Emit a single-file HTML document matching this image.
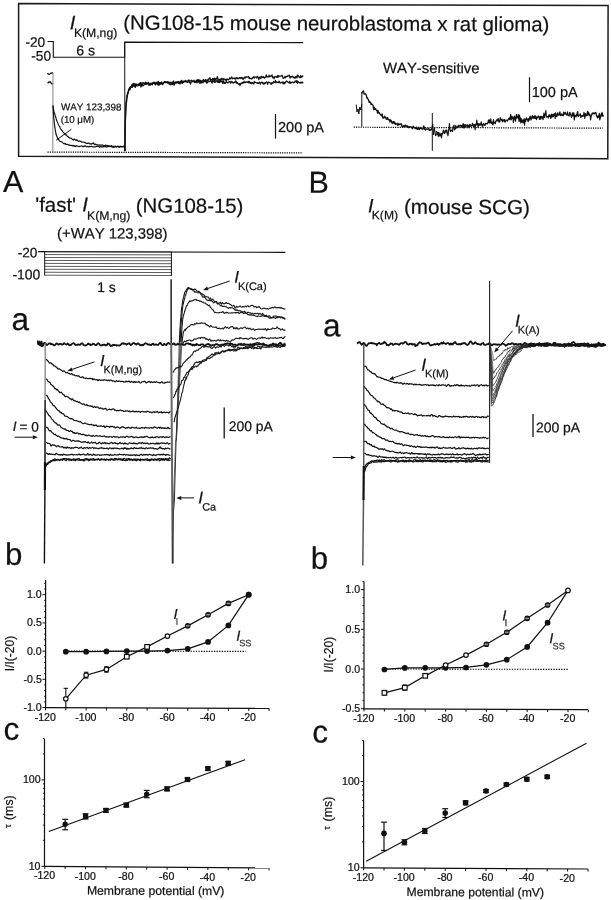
<!DOCTYPE html>
<html><head><meta charset="utf-8"><style>
html,body{margin:0;padding:0;background:#fff;overflow:hidden}
svg{display:block;filter:grayscale(1)}
text{font-family:"Liberation Sans",sans-serif;font-kerning:none;stroke:#111;stroke-width:0.22px;paint-order:stroke}
</style></head><body>
<svg width="611" height="900" viewBox="0 0 611 900" stroke-linecap="butt">
<rect width="611" height="900" fill="#fff"/>
<path d="M18.6,3.6 L608.1,5.6 L607.8,158.7 L18.6,156.3 Z" fill="none" stroke="#1a1a1a" stroke-width="1.5"/>
<text x="69.85" y="29.6" font-size="20" font-style="italic" transform="rotate(0.22 69.85 29.6)" fill="#111">I</text>
<text x="73.9" y="36.9" font-size="12.2" transform="rotate(0.22 73.9 36.9)" fill="#111">K(M,ng)</text>
<text x="123.25" y="29.6" font-size="20.4" transform="rotate(0.22 123.25 29.6)" fill="#111">(NG108-15 mouse neuroblastoma x rat glioma)</text>
<text x="25.38" y="46.7" font-size="13.7" transform="rotate(0.22 25.38 46.7)" fill="#111">-20</text>
<text x="31.28" y="60.5" font-size="13.7" transform="rotate(0.22 31.28 60.5)" fill="#111">-50</text>
<path d="M47.6,41.5 H53.3 V57.2 H124.7 V42.1 L303.2,42.6" fill="none" stroke="#111" stroke-width="1.1"/>
<text x="76.25" y="55.3" font-size="14.1" transform="rotate(0.22 76.25 55.3)" fill="#111">6 s</text>
<line x1="53" y1="72.7" x2="52.8" y2="151.5" stroke="#888" stroke-width="1"/>
<path d="M47.4,73.2 C48.3,74.6 49.3,74.6 50.3,73.6 C51.2,72.9 52.2,72.8 53,73" fill="none" stroke="#111" stroke-width="1.3"/>
<path d="M47.6,83.2 L48.9,82 L50.2,81.9 L51.3,83.2 L52.5,84.4" fill="none" stroke="#111" stroke-width="1.3"/>
<path d="M53,105.2 L53.45,112.99 L53.9,118.89 L54.35,123.25 L54.8,126.86 L55.25,129.71 L55.7,132.13 L56.15,134.54 L56.6,135.9 L57.05,136.63 L57.5,137.88 L57.95,138.97 L58.4,139.59 L58.85,139.89 L59.3,140.39 L59.75,141.26 L60.19,141.34 L60.64,141.42 L61.09,141.61 L61.54,141.71 L61.99,141.99 L62.44,142.5 L62.89,142.87 L63.34,143.21 L63.79,143.75 L64.24,143.82 L64.69,143.32 L65.14,143.39 L65.59,144.15 L66.04,144.44 L66.49,144.2 L66.94,144.18 L67.39,144.42 L67.84,144.45 L68.29,145.05 L68.74,145.14 L69.19,144.95 L69.64,145.45 L70.09,145.39 L70.54,145.22 L70.99,145.46 L71.44,145.56 L71.89,145.29 L72.34,145.35 L72.79,146.04 L73.24,145.69 L73.69,145.62 L74.14,146.07 L74.58,145.74 L75.03,146.25 L75.48,146.64 L75.93,145.88 L76.38,145.74 L76.83,146.21 L77.28,146.18 L77.73,146.24 L78.18,146.29 L78.63,146.32 L79.08,146.71 L79.53,146.41 L79.98,146.12 L80.43,146.2 L80.88,146.2 L81.33,146.04 L81.78,145.88 L82.23,146.15 L82.68,146.53 L83.13,146.88 L83.58,146.34 L84.03,145.88 L84.48,146.38 L84.93,146.1 L85.38,145.84 L85.83,146.32 L86.28,146.76 L86.73,146.97 L87.18,146.59 L87.63,146.34 L88.08,146.37 L88.53,146.85 L88.97,146.81 L89.42,146.37 L89.87,146.57 L90.32,146.63 L90.77,146.5 L91.22,146.26 L91.67,146.32 L92.12,146.49 L92.57,146.79 L93.02,147.07 L93.47,146.79 L93.92,146.8 L94.37,146.73 L94.82,146.83 L95.27,146.92 L95.72,146.81 L96.17,146.5 L96.62,146.45 L97.07,146.36 L97.52,145.77 L97.97,146.12 L98.42,146.41 L98.87,146.53 L99.32,147.31 L99.77,147.07 L100.22,146.37 L100.67,146.63 L101.12,146.91 L101.57,146.83 L102.02,146.66 L102.47,146.88 L102.92,147.07 L103.36,146.64 L103.81,146.5 L104.26,146.77 L104.71,146.53 L105.16,146.59 L105.61,146.65 L106.06,146.83 L106.51,147.09 L106.96,146.88 L107.41,146.69 L107.86,146.64 L108.31,146.3 L108.76,146.05 L109.21,146.64 L109.66,146.4 L110.11,146.52 L110.56,146.62 L111.01,146.6 L111.46,146.83 L111.91,146.84 L112.36,147.08 L112.81,146.51 L113.26,146.8 L113.71,147.54 L114.16,147.21 L114.61,146.79 L115.06,146.77 L115.51,146.6 L115.96,146.92 L116.41,147.03 L116.86,146.75 L117.31,146.69 L117.75,146.55 L118.2,146.43 L118.65,146.9 L119.1,147.19 L119.55,147.12 L120,147.16 L120.45,146.75 L120.9,146.67 L121.35,146.71 L121.8,146.79 L122.25,146.84 L122.7,146.77 L123.15,146.52 L123.6,146.4 L124.05,147.16 L124.5,147.19" fill="none" stroke="#111" stroke-width="1.15" stroke-linejoin="round"/>
<path d="M53,106.34 L53.45,108.56 L53.9,111.16 L54.35,112.58 L54.8,113.9 L55.25,115.72 L55.7,116.84 L56.15,118.58 L56.6,120.32 L57.05,121.39 L57.5,122.35 L57.95,123.52 L58.4,124.58 L58.85,125.38 L59.3,126.12 L59.75,126.69 L60.19,128.07 L60.64,128.99 L61.09,129.42 L61.54,130.19 L61.99,130.63 L62.44,131.09 L62.89,131.9 L63.34,132.48 L63.79,132.77 L64.24,133.32 L64.69,134.09 L65.14,134.68 L65.59,134.88 L66.04,134.95 L66.49,134.88 L66.94,135.6 L67.39,136.51 L67.84,136.56 L68.29,136.75 L68.74,137.27 L69.19,137.62 L69.64,137.92 L70.09,137.85 L70.54,138.25 L70.99,138.29 L71.44,138.35 L71.89,139 L72.34,139.21 L72.79,139.76 L73.24,140.11 L73.69,139.55 L74.14,138.94 L74.58,139.61 L75.03,139.95 L75.48,139.91 L75.93,140.53 L76.38,140.28 L76.83,139.7 L77.28,140.32 L77.73,141 L78.18,141.01 L78.63,141.14 L79.08,141.12 L79.53,140.87 L79.98,141.17 L80.43,141.42 L80.88,141.17 L81.33,141.66 L81.78,142.16 L82.23,142.25 L82.68,142.13 L83.13,141.97 L83.58,142.07 L84.03,142.11 L84.48,142.5 L84.93,142.63 L85.38,142.76 L85.83,143.13 L86.28,143.63 L86.73,143.29 L87.18,143.1 L87.63,143.5 L88.08,143.36 L88.53,143.11 L88.97,143.07 L89.42,143.69 L89.87,143.86 L90.32,143.77 L90.77,143.79 L91.22,144.13 L91.67,144.27 L92.12,143.51 L92.57,143.41 L93.02,143.53 L93.47,142.96 L93.92,143.38 L94.37,144.58 L94.82,144.78 L95.27,144.22 L95.72,144.03 L96.17,144.66 L96.62,144.99 L97.07,144.77 L97.52,144.78 L97.97,144.83 L98.42,145.09 L98.87,145.27 L99.32,145.17 L99.77,144.83 L100.22,144.95 L100.67,145.08 L101.12,145.27 L101.57,145.17 L102.02,144.91 L102.47,145.27 L102.92,145.02 L103.36,145.49 L103.81,146.22 L104.26,145.72 L104.71,145.59 L105.16,145.83 L105.61,145.04 L106.06,145.04 L106.51,145.71 L106.96,145.7 L107.41,145.49 L107.86,145.44 L108.31,145.69 L108.76,146.09 L109.21,146.25 L109.66,145.98 L110.11,146.31 L110.56,146.2 L111.01,145.76 L111.46,145.48 L111.91,145.99 L112.36,146.71 L112.81,146.58 L113.26,146.53 L113.71,146.36 L114.16,146.27 L114.61,146.21 L115.06,146.13 L115.51,146.23 L115.96,146.68 L116.41,146.83 L116.86,146.46 L117.31,146.21 L117.75,146.09 L118.2,146.65 L118.65,146.95 L119.1,146.6 L119.55,146.41 L120,146.14 L120.45,146.23 L120.9,146.74 L121.35,146.68 L121.8,146.42 L122.25,146.48 L122.7,146.59 L123.15,146.26 L123.6,146.2 L124.05,146.4 L124.5,146.69" fill="none" stroke="#111" stroke-width="1.15" stroke-linejoin="round"/>
<line x1="71.4" y1="129.3" x2="56.2" y2="140.2" stroke="#111" stroke-width="1"/>
<path d="M56.2,140.2 L56.2,140.2 L56.2,140.2 Z" fill="#111"/>
<text x="61" y="110.2" font-size="9.8" transform="rotate(0.22 61 110.2)" fill="#111">WAY 123,398</text>
<text x="60.68" y="122.7" font-size="9.7" transform="rotate(0.22 60.68 122.7)" fill="#111">(10 μM)</text>
<line x1="124.7" y1="42.1" x2="124.9" y2="151.5" stroke="#111" stroke-width="1"/>
<path d="M124.9,151 L124.91,150.5 L124.92,149.99 L124.92,149.49 L124.93,148.98 L124.94,148.46 L124.94,147.95 L124.95,147.43 L124.96,145.64 L124.97,146.25 L124.97,146.53 L124.98,144.76 L124.99,143.98 L125,144.16 L125,143.43 L125.01,142.19 L125.02,142.74 L125.02,143.46 L125.03,140.98 L125.04,139.99 L125.04,138.92 L125.05,139.68 L125.06,138.06 L125.07,137.79 L125.07,139.44 L125.08,137.11 L125.09,138.44 L125.09,138.61 L125.1,137.04 L125.11,136.83 L125.12,137.18 L125.12,134.91 L125.13,133.96 L125.14,132.87 L125.15,133.11 L125.15,133.93 L125.16,132.98 L125.17,130.73 L125.18,130.28 L125.19,130.06 L125.19,130.24 L125.2,129.23 L125.21,129.3 L125.22,128.57 L125.23,127.7 L125.24,127.52 L125.24,127.5 L125.25,127 L125.26,127.4 L125.27,128.02 L125.28,126.49 L125.29,125.61 L125.3,123.83 L125.31,124.8 L125.33,122.25 L125.35,121.93 L125.36,122.63 L125.38,121.92 L125.39,120.65 L125.41,118.64 L125.43,118.83 L125.44,118.12 L125.46,118.71 L125.48,119.43 L125.49,117.15 L125.51,115.89 L125.53,115.23 L125.55,115.98 L125.56,115.57 L125.58,114.22 L125.6,114.81 L125.62,113.25 L125.64,114.67 L125.65,114.11 L125.67,113.75 L125.69,112 L125.71,112.52 L125.73,111.61 L125.75,111.02 L125.77,110.63 L125.79,109.58 L125.8,109.52 L125.82,110.8 L125.84,109.51 L125.86,109.27 L125.88,109.63 L125.9,107.1 L125.94,107.15 L125.97,107.02 L126.01,106.17 L126.04,104.86 L126.08,105.52 L126.11,104.55 L126.15,102.91 L126.18,102.62 L126.22,103.47 L126.26,103.13 L126.3,101.15 L126.34,103.44 L126.39,102.45 L126.43,102.47 L126.48,100.87 L126.54,100.26 L126.6,99.29 L126.68,101.61 L126.76,98.7 L126.84,99.39 L126.93,97.06 L127.02,97.11 L127.12,94.88 L127.22,95.5 L127.32,95.94 L127.43,93.59 L127.54,94.99 L127.65,93.86 L127.76,92.24 L127.88,92.38 L128,91.85 L128.22,91.57 L128.46,90.62 L128.7,90.02 L128.96,90.17 L129.22,89.57 L129.48,88.94 L129.74,89.54 L130,90.05 L130.29,87.59 L130.53,88.7 L130.77,87.39 L131.07,86.54 L131.49,87.33 L132.1,86.1 L132.42,87.47 L132.71,85.38 L132.99,86.19 L133.29,85.44 L133.6,85.08 L133.95,85.94 L134.35,85.15 L134.81,85.13 L135.36,84.59 L135.99,83.84 L136.74,84.49 L137.6,84.41 L138.6,85.16 L138.94,83.5 L139.3,84.14 L139.67,83.03 L140.06,84.94 L140.46,83.22 L140.88,82.76 L141.31,84.02 L141.76,84.62 L142.22,82.73 L142.68,83.13 L143.16,83.22 L143.65,82.66 L144.15,84.16 L144.66,83.18 L145.18,83.25 L145.71,84.48 L146.24,83.3 L146.78,84.14 L147.32,83.22 L147.87,83.05 L148.42,82.31 L148.98,85.01 L149.55,83.3 L150.11,83.67 L150.68,83.24 L151.24,83.4 L151.81,83.39 L152.38,84.89 L152.95,82.7 L153.52,82.5 L154.08,82.99 L154.65,83.02 L155.21,84.62 L155.76,84.83 L156.31,83.18 L156.86,83.04 L157.4,83.96 L157.94,84.89 L158.46,81.28 L158.98,83.7 L159.5,82.63 L160,84.29 L160.51,82.6 L161.02,83.02 L161.53,81.87 L162.04,82.54 L162.55,84.7 L163.06,83.81 L163.56,82.8 L164.07,82.15 L164.58,81.47 L165.09,82.55 L165.59,82.61 L166.1,82.62 L166.6,82.32 L167.11,81.68 L167.61,82.2 L168.11,82.35 L168.61,83.33 L169.12,83.96 L169.62,82.45 L170.12,82.03 L170.62,82.71 L171.12,82.38 L171.62,82.56 L172.12,83.25 L172.61,82.33 L173.11,83.45 L173.61,82.87 L174.1,83 L174.6,82.51 L175.1,82.21 L175.59,81.88 L176.08,82.35 L176.58,82.01 L177.07,82.7 L177.56,82.57 L178.05,81.39 L178.54,82.93 L179.03,81.68 L179.52,82.55 L180.01,82.85 L180.5,81.42 L181.01,83.02 L181.53,83.04 L182.05,82.83 L182.57,82.3 L183.1,82.21 L183.62,81.19 L184.15,81.55 L184.67,81.06 L185.2,81.65 L185.73,80.4 L186.26,81.41 L186.79,81.25 L187.31,81.06 L187.84,80.83 L188.37,81.37 L188.89,79.71 L189.42,81.03 L189.94,80.77 L190.46,81.09 L190.98,81 L191.49,80.18 L192,80.46 L192.51,81.42 L193.02,81.32 L193.52,81.37 L194.02,80.17 L194.51,81.79 L195,82.43 L195.49,82.18 L195.96,81.57 L196.44,80.14 L196.91,82.1 L197.37,81.32 L197.82,79.28 L198.27,81.57 L198.72,79.72 L199.15,79.78 L199.58,80.54 L200,81.89 L200.6,80.45 L201.16,80.76 L201.68,81.7 L202.16,81.3 L202.61,80.52 L203.03,80.57 L203.44,79.43 L203.82,79.76 L204.2,80.67 L204.56,80.79 L204.92,80.6 L205.29,81.15 L205.66,79.47 L206.03,79.96 L206.43,80.66 L206.84,80.46 L207.27,80.65 L207.74,79.82 L208.23,79.01 L208.77,79.71 L209.34,78.36 L209.96,77.74 L210.64,79.79 L211.36,79.55 L212.15,79.84 L213,78.4 L213.35,79.92 L213.72,79.5 L214.09,79.22 L214.47,78 L214.86,79.02 L215.26,80.02 L215.67,79.41 L216.09,78.32 L216.52,78.56 L216.95,79.22 L217.39,76.54 L217.84,78.67 L218.29,79.38 L218.75,79.41 L219.22,80.24 L219.7,79.91 L220.18,79.16 L220.67,79.18 L221.16,79.54 L221.66,78.29 L222.16,78.6 L222.67,79.27 L223.18,80.44 L223.7,78.62 L224.22,79.07 L224.74,79.54 L225.27,80.19 L225.8,79.23 L226.34,80.85 L226.87,78.87 L227.41,79.44 L227.96,79.47 L228.5,79.86 L229.05,79.68 L229.59,77.74 L230.14,78.25 L230.69,78.81 L231.25,77.81 L231.8,76.89 L232.35,78.93 L232.9,78.41 L233.45,78.39 L234,77.81 L234.56,78.93 L235.11,78.01 L235.65,79.17 L236.2,77.71 L236.75,77.72 L237.29,78.62 L237.83,78 L238.37,78.77 L238.91,78.55 L239.44,77.51 L239.97,78.13 L240.5,77.69 L241.02,78.6 L241.54,77.4 L242.06,77.32 L242.57,78.93 L243.08,79.43 L243.58,78.89 L244.07,77.32 L244.56,77.21 L245.05,78.33 L245.53,77.11 L246,76.6 L246.53,77.1 L247.06,77.35 L247.59,76.87 L248.12,76.34 L248.65,76.78 L249.17,78.59 L249.69,77.63 L250.21,78.19 L250.73,78.67 L251.25,79.13 L251.76,78.18 L252.28,78.7 L252.79,77.42 L253.3,77.68 L253.81,76.65 L254.32,78.17 L254.82,77.22 L255.33,76.91 L255.83,77 L256.33,77.16 L256.84,78 L257.34,76.21 L257.84,76.92 L258.33,77.37 L258.83,79.55 L259.33,77.71 L259.82,76.84 L260.32,77.57 L260.81,78.66 L261.31,76.61 L261.8,76.29 L262.29,77.61 L262.78,77.21 L263.27,77.49 L263.76,76.63 L264.25,78.23 L264.74,77.87 L265.23,77.32 L265.72,77.14 L266.21,74.91 L266.69,76.99 L267.18,76.34 L267.67,76.75 L268.16,77.19 L268.65,76.52 L269.13,75.18 L269.62,76.86 L270.11,75.99 L270.6,76.15 L271.08,75.9 L271.57,76.24 L272.06,74.75 L272.55,77.69 L273.04,76.85 L273.53,77.92 L274.02,78.79 L274.51,77.49 L275,76.29 L275.51,76.95 L276.02,76.57 L276.52,77.11 L277.03,77.44 L277.54,75.66 L278.04,77.29 L278.55,75.58 L279.05,76.57 L279.56,76.13 L280.06,75.97 L280.56,76.16 L281.07,76.11 L281.57,76 L282.07,75.18 L282.57,76.43 L283.07,78.22 L283.57,78.41 L284.07,77.96 L284.57,77.58 L285.07,76.32 L285.57,77.8 L286.07,76.5 L286.57,76.39 L287.07,75.97 L287.57,76.49 L288.07,76 L288.56,75.81 L289.06,75.1 L289.56,76.05 L290.06,78.23 L290.56,76.45 L291.05,76.43 L291.55,76.89 L292.05,77.08 L292.54,76 L293.04,76.79 L293.54,77.67 L294.04,77.38 L294.53,77.45 L295.03,78.41 L295.53,76.56 L296.02,77.11 L296.52,76.4 L297.02,77.95 L297.52,74.97 L298.01,75.66 L298.51,75.88 L299.01,77.13 L299.51,77.12 L300.01,77.83 L300.5,75.65 L301,77.42 L301.5,76.28 L302,76.1 L302.5,76.85 L303,75.58" fill="none" stroke="#111" stroke-width="1.2" stroke-linejoin="round"/>
<path d="M124.9,151 L124.91,150.5 L124.92,149.99 L124.92,149.49 L124.93,148.98 L124.94,148.46 L124.94,147.95 L124.95,147.43 L124.96,146.23 L124.97,146 L124.97,144.87 L124.98,145.38 L124.99,145.7 L125,143.85 L125,142.48 L125.01,144.59 L125.02,142.21 L125.02,140.84 L125.03,141.69 L125.04,140.88 L125.04,139.49 L125.05,140.03 L125.06,138.92 L125.07,137.79 L125.07,138.16 L125.08,138.18 L125.09,136.64 L125.09,137.09 L125.1,136.05 L125.11,138.28 L125.12,134.7 L125.12,136.02 L125.13,134.23 L125.14,133.55 L125.15,133.78 L125.15,133.79 L125.16,133.58 L125.17,131.77 L125.18,130.82 L125.19,130.64 L125.19,131.16 L125.2,131.04 L125.21,130.93 L125.22,129.41 L125.23,129.37 L125.24,129.32 L125.24,127.76 L125.25,125.74 L125.26,125.75 L125.27,124.95 L125.28,126.98 L125.29,124.74 L125.3,126.44 L125.31,125.56 L125.33,125.54 L125.35,124.5 L125.36,122.89 L125.38,122.13 L125.39,121.75 L125.41,121.28 L125.43,119.9 L125.44,119.51 L125.46,120.39 L125.48,117.03 L125.49,117.91 L125.51,116.53 L125.53,117.15 L125.55,117.11 L125.56,115.64 L125.58,116.02 L125.6,113.82 L125.62,115.66 L125.64,113.92 L125.65,114.33 L125.67,113.22 L125.69,110.58 L125.71,111.66 L125.73,111.64 L125.75,112.29 L125.77,110.68 L125.79,110.04 L125.8,108.17 L125.82,109.99 L125.84,109.6 L125.86,107.88 L125.88,107.65 L125.9,105.69 L125.94,107.17 L125.97,107.83 L126.01,105.66 L126.04,105.79 L126.08,104.82 L126.11,102.91 L126.15,104.48 L126.18,102.16 L126.22,102.46 L126.26,102.61 L126.3,103.02 L126.34,102.07 L126.39,101.79 L126.43,100.57 L126.48,99.62 L126.54,100.28 L126.6,99.13 L126.68,98.34 L126.76,97.67 L126.84,97.82 L126.93,96.36 L127.02,96.38 L127.12,95.35 L127.22,96.49 L127.32,96.05 L127.43,96.72 L127.54,93.57 L127.65,93.66 L127.76,94.09 L127.88,92.73 L128,92.36 L128.22,93.1 L128.46,91.14 L128.7,89.51 L128.96,88.67 L129.22,89.57 L129.48,89.18 L129.74,87.45 L130,87.18 L130.29,88.1 L130.53,87.55 L130.77,86.33 L131.07,86.8 L131.49,86.26 L132.1,84.1 L132.42,84.93 L132.71,85.54 L132.99,84.67 L133.29,83.45 L133.6,85.11 L133.95,85.96 L134.35,86.51 L134.81,83.46 L135.36,87.37 L135.99,84.41 L136.74,85.81 L137.6,85.94 L138.6,85.53 L138.94,84.97 L139.3,84.11 L139.67,85.42 L140.06,84.3 L140.46,82.7 L140.88,87.08 L141.31,85.11 L141.76,86.09 L142.22,83.76 L142.68,85.7 L143.16,85.7 L143.65,85.57 L144.15,84.54 L144.66,83.38 L145.18,84.06 L145.71,82.06 L146.24,82.4 L146.78,83.97 L147.32,83.12 L147.87,83.92 L148.42,83.5 L148.98,85.2 L149.55,84.94 L150.11,84.2 L150.68,85.12 L151.24,83.28 L151.81,83.62 L152.38,84.32 L152.95,82.71 L153.52,83.36 L154.08,82.08 L154.65,83.04 L155.21,84.4 L155.76,82.32 L156.31,82.84 L156.86,82.27 L157.4,82.09 L157.94,82.18 L158.46,84.83 L158.98,85.38 L159.5,83.89 L160,82.93 L160.51,84.23 L161.02,83.15 L161.53,84 L162.04,83.59 L162.55,83.38 L163.06,83.67 L163.56,82.55 L164.07,82.75 L164.58,81.56 L165.09,82.51 L165.59,81.7 L166.1,82.47 L166.6,81.76 L167.11,82.53 L167.61,83.12 L168.11,81.74 L168.61,82.4 L169.12,82.35 L169.62,84 L170.12,84.88 L170.62,84.18 L171.12,83.34 L171.62,84.53 L172.12,82.15 L172.61,84.48 L173.11,83.04 L173.61,80.89 L174.1,85.27 L174.6,84.27 L175.1,82.38 L175.59,83.24 L176.08,82.71 L176.58,83.08 L177.07,81.67 L177.56,82.27 L178.05,83.02 L178.54,82.76 L179.03,83.28 L179.52,82.4 L180.01,84.16 L180.5,81.46 L181.01,81.99 L181.53,80.28 L182.05,80.91 L182.57,83.37 L183.1,81.24 L183.62,82.39 L184.15,81.89 L184.67,81.25 L185.2,81.7 L185.73,81.63 L186.26,81.41 L186.79,82.26 L187.31,82.44 L187.84,81.43 L188.37,81.26 L188.89,82.08 L189.42,81.67 L189.94,82.65 L190.46,84.12 L190.98,82.52 L191.49,81.92 L192,81.99 L192.51,81.21 L193.02,81.07 L193.52,81.41 L194.02,81.99 L194.51,81.8 L195,82.57 L195.49,81.41 L195.96,81.31 L196.44,80.41 L196.91,82.79 L197.37,81.46 L197.82,82.1 L198.27,81.53 L198.72,82.13 L199.15,80.81 L199.58,81.73 L200,83.64 L200.6,80.43 L201.16,82.52 L201.68,82.97 L202.16,82.04 L202.61,82.48 L203.03,82.73 L203.44,81.06 L203.82,81.9 L204.2,80.95 L204.56,81.34 L204.92,81.68 L205.29,81.73 L205.66,81.85 L206.03,82.06 L206.43,80.55 L206.84,83.25 L207.27,82.88 L207.74,82.28 L208.23,80.9 L208.77,81.11 L209.34,81.66 L209.96,81.56 L210.64,79.7 L211.36,81.63 L212.15,83.1 L213,79.18 L213.35,81.7 L213.72,81.4 L214.09,80.93 L214.47,82.27 L214.86,80.11 L215.26,81.18 L215.67,82.31 L216.09,80.76 L216.52,80.71 L216.95,81.16 L217.39,80.75 L217.84,82.51 L218.29,80.56 L218.75,82.34 L219.22,80.68 L219.7,82.55 L220.18,81.7 L220.67,79.44 L221.16,81.78 L221.66,81.15 L222.16,81.89 L222.67,83.54 L223.18,81.14 L223.7,81.16 L224.22,83.5 L224.74,82.64 L225.27,83.49 L225.8,82.41 L226.34,81.6 L226.87,81.96 L227.41,82.96 L227.96,82.83 L228.5,81.99 L229.05,81.67 L229.59,81.9 L230.14,81.44 L230.69,83.28 L231.25,82.19 L231.8,81.49 L232.35,81.9 L232.9,83.03 L233.45,83.18 L234,82.35 L234.56,81.97 L235.11,82.56 L235.65,80.83 L236.2,81.38 L236.75,83.36 L237.29,82.43 L237.83,83.38 L238.37,84.28 L238.91,83.99 L239.44,83.57 L239.97,85.65 L240.5,84.1 L241.02,83.12 L241.54,83.72 L242.06,83.35 L242.57,82.34 L243.08,83.11 L243.58,82.84 L244.07,81.11 L244.56,82.68 L245.05,82.54 L245.53,82.44 L246,81.52 L246.53,82.27 L247.06,82.34 L247.59,82.56 L248.12,81.45 L248.65,82.82 L249.17,81.21 L249.69,82.46 L250.21,83.51 L250.73,82.33 L251.25,82.55 L251.76,83.79 L252.28,82.52 L252.79,82.87 L253.3,83.73 L253.81,84 L254.32,81.47 L254.82,82.52 L255.33,82.32 L255.83,82.58 L256.33,82.84 L256.84,82.77 L257.34,83.27 L257.84,82.71 L258.33,83.46 L258.83,83.21 L259.33,82.2 L259.82,82.59 L260.32,84.16 L260.81,82.94 L261.31,82.31 L261.8,82.55 L262.29,82.17 L262.78,83.42 L263.27,84.06 L263.76,82.75 L264.25,82.92 L264.74,84.05 L265.23,82.72 L265.72,83.05 L266.21,81.99 L266.69,81.95 L267.18,82.21 L267.67,84.41 L268.16,82.36 L268.65,82.13 L269.13,82.05 L269.62,82.55 L270.11,83.13 L270.6,82.98 L271.08,84.44 L271.57,82.74 L272.06,83.76 L272.55,82.71 L273.04,83.1 L273.53,81.41 L274.02,82.29 L274.51,82.46 L275,82.27 L275.51,80.42 L276.02,82.82 L276.52,81.82 L277.03,81.82 L277.54,82.29 L278.04,82.3 L278.55,82.65 L279.05,81.18 L279.56,81.9 L280.06,82.96 L280.56,83.23 L281.07,82.53 L281.57,82.24 L282.07,81.97 L282.57,82.63 L283.07,83.82 L283.57,82.08 L284.07,83.93 L284.57,83.11 L285.07,82.15 L285.57,82.91 L286.07,81.41 L286.57,80.98 L287.07,81.24 L287.57,81.93 L288.07,82.22 L288.56,82.24 L289.06,83.01 L289.56,81.31 L290.06,83.38 L290.56,82.11 L291.05,82.91 L291.55,82.76 L292.05,82.28 L292.54,82.01 L293.04,82.05 L293.54,82.65 L294.04,82.75 L294.53,82.6 L295.03,81.01 L295.53,81.51 L296.02,81.03 L296.52,82.37 L297.02,80.46 L297.52,83.19 L298.01,81.98 L298.51,81.69 L299.01,82.53 L299.51,82.94 L300.01,82.61 L300.5,82.95 L301,81.98 L301.5,82.86 L302,82.98 L302.5,82.02 L303,83.41" fill="none" stroke="#111" stroke-width="1.2" stroke-linejoin="round"/>
<line x1="47.5" y1="152.1" x2="301.6" y2="152.9" stroke="#000" stroke-width="1.2" stroke-dasharray="1.2 1.1"/>
<line x1="275.5" y1="114" x2="275.5" y2="138.6" stroke="#111" stroke-width="1.2"/>
<text x="278.05" y="132.1" font-size="14.5" transform="rotate(0.22 278.05 132.1)" fill="#111">200 pA</text>
<text x="382.98" y="72.9" font-size="14.85" transform="rotate(0.22 382.98 72.9)" fill="#111">WAY-sensitive</text>
<line x1="353.7" y1="127.2" x2="602.7" y2="128.2" stroke="#000" stroke-width="1.2" stroke-dasharray="1.2 1.1"/>
<path d="M356.2,104.5 L357,112 L358,109 L358.8,114 L359.8,107 L360.8,110 L361.8,104" fill="none" stroke="#111" stroke-width="1"/>
<line x1="361.8" y1="126.8" x2="361.8" y2="92" stroke="#111" stroke-width="1"/>
<path d="M363.2,90.59 L363.66,91.66 L364.12,94.03 L364.59,93.87 L365.05,93.95 L365.51,93.7 L365.97,94.71 L366.43,95.29 L366.89,98.14 L367.36,97.65 L367.82,99.12 L368.28,99.28 L368.74,100.61 L369.2,102.43 L369.66,101.35 L370.13,102.32 L370.59,102.58 L371.05,104.66 L371.51,103.67 L371.97,104.19 L372.43,104.58 L372.9,105.14 L373.36,107.31 L373.82,109.66 L374.28,107.17 L374.74,109.36 L375.21,109.29 L375.67,108.64 L376.13,109.84 L376.59,110.36 L377.05,110.45 L377.51,113.14 L377.98,110.33 L378.44,112.72 L378.9,113.1 L379.36,112.75 L379.82,113.78 L380.28,114.8 L380.75,114.58 L381.21,115.18 L381.67,115.79 L382.13,113.84 L382.59,117.18 L383.06,118.21 L383.52,117.45 L383.98,117.81 L384.44,116.07 L384.9,117.49 L385.36,117.2 L385.83,117.7 L386.29,119.31 L386.75,118.1 L387.21,118.95 L387.67,117.71 L388.13,119.47 L388.6,119.94 L389.06,119.52 L389.52,119.76 L389.98,122.22 L390.44,119.83 L390.9,120.19 L391.37,120.63 L391.83,122.56 L392.29,123.54 L392.75,122.25 L393.21,121.56 L393.68,122.01 L394.14,123.48 L394.6,121.99 L395.06,124.19 L395.52,124.34 L395.98,123.37 L396.45,124.04 L396.91,124.3 L397.37,125.15 L397.83,123.1 L398.29,125.15 L398.75,123.99 L399.22,123.81 L399.68,124.69 L400.14,124.57 L400.6,124.05 L401.06,123.67 L401.52,124.37 L401.99,126.53 L402.45,127.09 L402.91,126.1 L403.37,126.68 L403.83,125.36 L404.3,125.85 L404.76,126.27 L405.22,125.22 L405.68,125.41 L406.14,126.44 L406.6,126.19 L407.07,125.66 L407.53,126.99 L407.99,126.53 L408.45,127.72 L408.91,126.94 L409.37,126.78 L409.84,127.23 L410.3,127.06 L410.76,126.72 L411.22,127.03 L411.68,128.09 L412.14,128.08 L412.61,128.7 L413.07,126.24 L413.53,127.42 L413.99,127.47 L414.45,128.04 L414.92,127.58 L415.38,127.59 L415.84,128.76 L416.3,128.31 L416.76,127.23 L417.22,129.42 L417.69,129.19 L418.15,127.91 L418.61,129.16 L419.07,127.88 L419.53,129.52 L419.99,128.43 L420.46,127.98 L420.92,128.4 L421.38,128.11 L421.84,128.98 L422.3,129.01 L422.77,128.93 L423.23,128.48 L423.69,125.88 L424.15,129.11 L424.61,127.46 L425.07,129.32 L425.54,130.12 L426,129.43 L426.46,128.9 L426.92,129.12 L427.38,129.19 L427.84,128.87 L428.31,128.88 L428.77,128.62 L429.23,130.45 L429.69,129.46 L430.15,130.31 L430.61,129.32 L431.08,129.62 L431.54,129.45 L432,130.01" fill="none" stroke="#111" stroke-width="1.3" stroke-linejoin="round"/>
<path d="M361.8,93.5 L362.6,91.5 L363.4,91.3" fill="none" stroke="#111" stroke-width="1.1"/>
<line x1="432.3" y1="113" x2="432.3" y2="150.8" stroke="#111" stroke-width="1"/>
<path d="M431.5,129 L432.8,124 L433.6,135 L434.5,128 L435.5,136 L436.5,131" fill="none" stroke="#111" stroke-width="1"/>
<path d="M436.5,135.26 L436.95,134.27 L437.41,132.53 L437.86,132.08 L438.32,136.41 L438.77,132.59 L439.23,133.24 L439.69,135.97 L440.14,135.89 L440.6,134.83 L441.05,133.23 L441.51,137.81 L441.96,133.62 L442.42,134 L442.87,132.39 L443.32,130.16 L443.77,130.36 L444.22,133.32 L444.67,133.56 L445.11,132.43 L445.56,130.7 L446,129.97 L446.41,131.83 L446.81,130.09 L447.2,133.78 L447.59,133.68 L447.96,135.77 L448.33,132.36 L448.69,129.38 L449.06,128.46 L449.42,123.68 L449.79,128.43 L450.16,129.7 L450.53,131.67 L450.91,130.56 L451.31,130.7 L451.71,130.22 L452.13,130.9 L452.56,131.49 L453.01,126.71 L453.47,127.4 L453.96,125.18 L454.47,129.94 L455,129.3 L455.37,128.56 L455.76,125.57 L456.16,128.15 L456.57,127.23 L456.99,127.19 L457.43,126.43 L457.88,127.17 L458.33,125.31 L458.79,127.22 L459.26,126.04 L459.74,125.3 L460.22,125.63 L460.71,125.25 L461.2,127.3 L461.69,125.57 L462.19,126.71 L462.69,125.49 L463.18,123.59 L463.68,128.02 L464.17,124.61 L464.66,127.66 L465.15,127.54 L465.63,124.56 L466.11,125.5 L466.58,126.2 L467.04,125.81 L467.5,124.79 L467.94,127.6 L468.38,125.66 L468.8,126.88 L469.21,124.9 L469.61,126.38 L470,124.42 L470.56,125.38 L471.09,126.39 L471.59,125.58 L472.08,124.98 L472.55,123.28 L473.01,125.81 L473.45,126.45 L473.88,125.62 L474.3,124.24 L474.71,126.22 L475.12,129.68 L475.53,124.26 L475.94,125.03 L476.35,124.91 L476.77,120.06 L477.19,124.37 L477.62,123.2 L478.07,127.34 L478.52,124.92 L479,123.51 L479.49,124.51 L480,125.52 L480.4,123.86 L480.81,124.25 L481.22,121.94 L481.65,124.38 L482.08,125.76 L482.51,126.84 L482.95,124.44 L483.4,123.57 L483.85,124.83 L484.3,124.25 L484.76,125.53 L485.22,124.94 L485.68,123.23 L486.14,123.81 L486.61,123.63 L487.07,123.46 L487.54,123.91 L488.01,122.54 L488.47,119.97 L488.94,122.33 L489.4,119.85 L489.87,123.09 L490.32,122.07 L490.78,118.75 L491.23,123.11 L491.68,123.47 L492.13,121.99 L492.57,124.65 L493,124.8 L493.46,119.64 L493.92,123.08 L494.38,122.35 L494.84,122.24 L495.3,123.6 L495.75,121.03 L496.21,121.14 L496.66,120.19 L497.11,119.59 L497.56,120.93 L498.01,118.59 L498.46,119.14 L498.9,121.97 L499.35,121.13 L499.79,122.01 L500.23,117.68 L500.67,119.33 L501.11,119.64 L501.55,120.28 L501.98,119.13 L502.42,121.83 L502.85,120.28 L503.29,119.86 L503.72,120.09 L504.15,121.3 L504.57,119.28 L505,122.13 L505.48,121.08 L505.96,120.65 L506.44,120.07 L506.91,120.46 L507.39,121.04 L507.87,119.91 L508.34,118.89 L508.81,119.21 L509.29,117.86 L509.76,119.76 L510.22,117.41 L510.69,114.36 L511.15,119.85 L511.61,118.3 L512.07,116.33 L512.52,118.22 L512.97,117.47 L513.41,122.4 L513.86,119.75 L514.29,116.11 L514.73,119.15 L515.16,117.43 L515.58,121.15 L516,116.32 L516.47,114.26 L516.93,118.12 L517.38,117.46 L517.82,117.69 L518.26,114.52 L518.69,118.87 L519.11,121.46 L519.53,115.04 L519.94,120.49 L520.36,117.73 L520.77,122.91 L521.18,120.66 L521.59,118.78 L522,122.18 L522.41,121.92 L522.83,120.22 L523.25,122.91 L523.68,120.39 L524.11,118.7 L524.55,125.07 L525,120.37 L525.41,119.6 L525.81,121.44 L526.21,117.76 L526.61,118.12 L527,119.28 L527.39,119.03 L527.78,120.22 L528.18,121.65 L528.57,118.63 L528.97,120.14 L529.37,119.88 L529.78,116.95 L530.2,118.69 L530.62,116.21 L531.05,120 L531.5,118.58 L531.95,118.05 L532.42,115.69 L532.9,118.16 L533.4,116.51 L533.92,118.49 L534.45,116.83 L535,115.42 L535.37,118.54 L535.75,118.43 L536.14,116.58 L536.53,119.68 L536.92,117.37 L537.33,117.24 L537.73,117.69 L538.15,115.98 L538.57,116.38 L538.99,116.54 L539.42,119.25 L539.86,119.4 L540.3,116.45 L540.74,119.17 L541.19,116.38 L541.64,117.18 L542.1,118.1 L542.56,116.61 L543.02,119.63 L543.49,116.18 L543.96,113.11 L544.43,117.3 L544.91,114.24 L545.39,114.68 L545.87,110.55 L546.35,117.1 L546.84,116.65 L547.33,116.71 L547.82,116.81 L548.31,117.89 L548.81,115.01 L549.3,116.65 L549.8,114.67 L550.3,115.46 L550.8,118.33 L551.22,117.14 L551.64,114.04 L552.08,117.14 L552.51,115.96 L552.95,114.4 L553.4,116.62 L553.85,115.26 L554.3,113.54 L554.76,114.18 L555.22,118.48 L555.68,112.9 L556.15,116.03 L556.62,116.6 L557.09,116.04 L557.56,112.83 L558.04,114.56 L558.51,115.16 L558.99,115.25 L559.47,112.32 L559.95,111.84 L560.42,115.4 L560.9,115.59 L561.38,114.84 L561.86,113.87 L562.34,115.45 L562.81,114.79 L563.28,115.82 L563.76,112.01 L564.23,114.12 L564.69,113.45 L565.16,112.27 L565.62,114.23 L566.08,113.99 L566.53,114.01 L566.98,115.24 L567.43,111.76 L567.87,114.2 L568.31,115.51 L568.74,115.48 L569.16,116.04 L569.59,112.66 L570,112.34 L570.5,114.95 L571,115 L571.49,117.67 L571.97,115.55 L572.44,112.9 L572.91,115.93 L573.37,113.61 L573.83,112.67 L574.28,119.86 L574.73,115.44 L575.17,115.54 L575.61,115.46 L576.05,116.99 L576.48,114.29 L576.91,115.61 L577.35,112 L577.77,111.64 L578.2,116.57 L578.63,116.36 L579.06,115 L579.49,115.09 L579.93,115.1 L580.36,113.74 L580.8,117.36 L581.24,116.92 L581.68,116.15 L582.12,115.38 L582.58,116.47 L583.03,115.69 L583.49,115.96 L583.96,112.42 L584.43,115.46 L584.91,118.31 L585.4,113.6 L585.82,113.97 L586.24,115.64 L586.67,115.57 L587.09,114.83 L587.53,111.41 L587.96,115.16 L588.4,112.14 L588.83,113.07 L589.27,115.27 L589.72,114.27 L590.16,115.79 L590.61,119.88 L591.06,116.25 L591.51,115.77 L591.96,113.24 L592.41,114.07 L592.87,112.84 L593.32,113.73 L593.78,112.87 L594.24,113.52 L594.7,113.97 L595.16,112.68 L595.61,112.46 L596.08,113.08 L596.54,116.22 L597,115.86 L597.46,117.98 L597.92,117.67 L598.38,115.73 L598.84,117.07 L599.3,113.42 L599.76,119.81 L600.22,118.2 L600.68,115.88 L601.13,113.76 L601.59,116.15 L602.04,112.4 L602.5,114.08 L602.95,116.37 L603.4,115.06" fill="none" stroke="#111" stroke-width="1.2" stroke-linejoin="round"/>
<line x1="529.5" y1="77.3" x2="529.5" y2="102.2" stroke="#111" stroke-width="1.2"/>
<text x="531.68" y="96.9" font-size="14.5" transform="rotate(0.22 531.68 96.9)" fill="#111">100 pA</text>
<text x="2.98" y="191.9" font-size="30.5" transform="rotate(0.22 2.98 191.9)" fill="#111">A</text>
<text x="35.3" y="211.6" font-size="20.4" transform="rotate(0.22 35.3 211.6)" fill="#111">'fast'</text>
<text x="82.35" y="211.6" font-size="20.4" font-style="italic" transform="rotate(0.22 82.35 211.6)" fill="#111">I</text>
<text x="87" y="219.7" font-size="12.2" transform="rotate(0.22 87 219.7)" fill="#111">K(M,ng)</text>
<text x="135.75" y="212.5" font-size="20.4" transform="rotate(0.22 135.75 212.5)" fill="#111">(NG108-15)</text>
<text x="57.02" y="238.3" font-size="14.9" transform="rotate(0.22 57.02 238.3)" fill="#111">(+WAY 123,398)</text>
<text x="17.68" y="257.3" font-size="13.6" transform="rotate(0.22 17.68 257.3)" fill="#111">-20</text>
<text x="12.48" y="279.2" font-size="13.9" transform="rotate(0.22 12.48 279.2)" fill="#111">-100</text>
<line x1="37.9" y1="251.6" x2="285.3" y2="252.4" stroke="#111" stroke-width="1.1"/>
<line x1="44.7" y1="251.6" x2="171.4" y2="251.9" stroke="#333" stroke-width="0.8"/>
<line x1="44.7" y1="254.55" x2="171.4" y2="254.85" stroke="#333" stroke-width="0.8"/>
<line x1="44.7" y1="257.5" x2="171.4" y2="257.8" stroke="#333" stroke-width="0.8"/>
<line x1="44.7" y1="260.45" x2="171.4" y2="260.75" stroke="#333" stroke-width="0.8"/>
<line x1="44.7" y1="263.4" x2="171.4" y2="263.7" stroke="#333" stroke-width="0.8"/>
<line x1="44.7" y1="266.35" x2="171.4" y2="266.65" stroke="#333" stroke-width="0.8"/>
<line x1="44.7" y1="269.3" x2="171.4" y2="269.6" stroke="#333" stroke-width="0.8"/>
<line x1="44.7" y1="272.25" x2="171.4" y2="272.55" stroke="#333" stroke-width="0.8"/>
<line x1="44.7" y1="275.2" x2="171.4" y2="275.5" stroke="#333" stroke-width="0.8"/>
<line x1="44.7" y1="251.6" x2="44.7" y2="275.5" stroke="#111" stroke-width="1"/>
<line x1="171.4" y1="251.8" x2="171.4" y2="276" stroke="#111" stroke-width="1"/>
<text x="97.2" y="292" font-size="13.9" transform="rotate(0.22 97.2 292)" fill="#111">1 s</text>
<text x="11.42" y="330" font-size="31.5" transform="rotate(0.22 11.42 330)" fill="#111">a</text>
<text x="4.9" y="564.7" font-size="31.2" transform="rotate(0.22 4.9 564.7)" fill="#111">b</text>
<path d="M37.2,343.5 L37.79,343.4 L38.39,343.56 L38.98,344.08 L39.57,344.44 L40.16,345.32 L40.76,345.14 L41.35,345.96 L41.94,346.34 L42.54,345.75 L43.13,345.59 L43.72,343.34 L44.31,342.9 L44.91,342.79 L45.5,343.7 L46.09,344.24 L46.69,345.01 L47.28,344.85 L47.87,344.41 L48.46,343.97 L49.06,343.31 L49.65,343.28 L50.24,343.27 L50.84,344.25 L51.43,343.78 L52.02,344.26 L52.61,344.27 L53.21,344.46 L53.8,345.27 L54.39,345.33 L54.99,345.06 L55.58,344.33 L56.17,343.43 L56.76,343.53 L57.36,343.8 L57.95,344.35 L58.54,344.71 L59.14,344.22 L59.73,343.96 L60.32,343.8 L60.91,343.7 L61.51,344.51 L62.1,344.58 L62.69,344.48 L63.28,344.26 L63.88,343.18 L64.47,343.36 L65.06,343.88 L65.66,344.29 L66.25,344.58 L66.84,344.2 L67.43,343.5 L68.03,344.07 L68.62,344.19 L69.21,345.24 L69.81,345.37 L70.4,344.83 L70.99,345.03 L71.58,344.01 L72.18,343.77 L72.77,343.47 L73.36,343.18 L73.96,343.4 L74.55,343.89 L75.14,344.62 L75.73,344.96 L76.33,344.95 L76.92,345 L77.51,344.53 L78.11,344.37 L78.7,344.59 L79.29,344.61 L79.88,344.87 L80.48,344.54 L81.07,343.67 L81.66,343.28 L82.26,343.4 L82.85,343.69 L83.44,344.81 L84.03,345.21 L84.63,345.25 L85.22,345.58 L85.81,345.36 L86.41,345.11 L87,344.72 L87.59,344.28 L88.18,343.53 L88.78,343.94 L89.37,344.4 L89.96,344.17 L90.56,345.28 L91.15,345 L91.74,344.54 L92.33,344.63 L92.93,343.63 L93.52,343.89 L94.11,343.98 L94.71,344.69 L95.3,345.19 L95.89,345.24 L96.48,345.15 L97.08,344 L97.67,343.74 L98.26,343.22 L98.86,343.66 L99.45,344.18 L100.04,344.84 L100.63,345.44 L101.23,345.39 L101.82,345.49 L102.41,344.95 L103.01,344.92 L103.6,344.95 L104.19,344.6 L104.78,344.71 L105.38,345.45 L105.97,345.07 L106.56,345.25 L107.16,344.8 L107.75,343.28 L108.34,343.76 L108.93,343.88 L109.53,344.25 L110.12,345.49 L110.71,345.99 L111.31,345.63 L111.9,345.92 L112.49,345.46 L113.08,344.67 L113.68,345.19 L114.27,344.79 L114.86,345.15 L115.45,345.23 L116.05,345.19 L116.64,345.66 L117.23,345.41 L117.83,345.35 L118.42,345.35 L119.01,345.54 L119.6,345.4 L120.2,345.19 L120.79,344.75 L121.38,343.96 L121.98,343.38 L122.57,343.46 L123.16,343.88 L123.75,343.24 L124.35,343.64 L124.94,343.85 L125.53,343.81 L126.13,344.23 L126.72,344.7 L127.31,344.19 L127.9,343.67 L128.5,343.63 L129.09,343.15 L129.68,343.78 L130.28,344.68 L130.87,345.16 L131.46,344.72 L132.05,344.11 L132.65,343.34 L133.24,343.19 L133.83,342.98 L134.43,343.27 L135.02,343.85 L135.61,343.86 L136.2,344.7 L136.8,344.31 L137.39,343.52 L137.98,343.34 L138.58,343.6 L139.17,344.34 L139.76,344.72 L140.35,345.41 L140.95,344.86 L141.54,345.04 L142.13,345.39 L142.73,344.77 L143.32,345.2 L143.91,344.34 L144.5,343.81 L145.1,343.44 L145.69,343.24 L146.28,343.51 L146.88,343.83 L147.47,344.23 L148.06,344.67 L148.65,344.53 L149.25,344.29 L149.84,344.91 L150.43,344.91 L151.03,345.2 L151.62,344.82 L152.21,344.13 L152.8,343.83 L153.4,343.71 L153.99,344.94 L154.58,344.66 L155.18,344.69 L155.77,344.45 L156.36,344.36 L156.95,344.85 L157.55,344.98 L158.14,344.97 L158.73,343.95 L159.33,343.57 L159.92,342.95 L160.51,342.81 L161.1,343.79 L161.7,344.71 L162.29,345.05 L162.88,345.04 L163.47,344.55 L164.07,343.79 L164.66,344.24 L165.25,344.75 L165.85,344.98 L166.44,345.09 L167.03,343.79 L167.62,343.38 L168.22,342.78 L168.81,343.07 L169.4,343.86 L170,343.85 L170.59,344.13 L171.18,344.58 L171.77,344.19 L172.37,344.14 L172.96,344.21 L173.55,343.36 L174.15,343.56 L174.74,344.1 L175.33,344.84 L175.92,344.44 L176.52,344.59 L177.11,344.41 L177.7,343.73 L178.3,344.33 L178.89,344.21 L179.48,344.57 L180.07,344.43 L180.67,344.46 L181.26,344.59 L181.85,344.25 L182.45,344.36 L183.04,344.79 L183.63,344.79 L184.22,344.81 L184.82,344.86 L185.41,344.11 L186,343.81 L186.6,343.35 L187.19,343.44 L187.78,343.55 L188.37,343.47 L188.97,343.95 L189.56,344.08 L190.15,343.69 L190.75,344.72 L191.34,344.64 L191.93,344.41 L192.52,345.47 L193.12,344.87 L193.71,344.63 L194.3,345.49 L194.9,344.69 L195.49,344.63 L196.08,345.18 L196.67,343.96 L197.27,344.32 L197.86,344.51 L198.45,345.09 L199.05,345.16 L199.64,345.18 L200.23,345.28 L200.82,344.42 L201.42,344.3 L202.01,344.47 L202.6,344.27 L203.2,344.41 L203.79,345.28 L204.38,345.51 L204.97,345.63 L205.57,345.58 L206.16,344.74 L206.75,344.32 L207.35,344.25 L207.94,343.98 L208.53,344.43 L209.12,344.18 L209.72,344.67 L210.31,345.63 L210.9,345.45 L211.49,345.91 L212.09,345.25 L212.68,344.92 L213.27,345.23 L213.87,345.11 L214.46,345.11 L215.05,344.69 L215.64,344.15 L216.24,344.38 L216.83,344.2 L217.42,344.35 L218.02,344.78 L218.61,344.94 L219.2,345.2 L219.79,345.38 L220.39,344.99 L220.98,344.81 L221.57,344.74 L222.17,344.43 L222.76,344.8 L223.35,344.93 L223.94,344.25 L224.54,344.3 L225.13,343.72 L225.72,343.82 L226.32,343.84 L226.91,343.35 L227.5,343.28 L228.09,343.44 L228.69,343.7 L229.28,344.12 L229.87,344.55 L230.47,343.26 L231.06,343.62 L231.65,343.83 L232.24,343.96 L232.84,344.99 L233.43,344.99 L234.02,344.74 L234.62,344.67 L235.21,344.45 L235.8,345.3 L236.39,345.43 L236.99,345.65 L237.58,345.29 L238.17,344.3 L238.77,344.71 L239.36,344.22 L239.95,344.11 L240.54,344.36 L241.14,343.66 L241.73,344.81 L242.32,344.27 L242.92,344.44 L243.51,344.87 L244.1,343.72 L244.69,344.36 L245.29,344.39 L245.88,344.74 L246.47,344.81 L247.07,344.47 L247.66,344.67 L248.25,344.63 L248.84,344.85 L249.44,344.62 L250.03,344.8 L250.62,344.15 L251.22,344.7 L251.81,345.52 L252.4,344.84 L252.99,344.74 L253.59,344.88 L254.18,345.43 L254.77,344.77 L255.37,344.59 L255.96,344.71 L256.55,344.03 L257.14,344.33 L257.74,344.68 L258.33,343.98 L258.92,344.08 L259.52,344.41 L260.11,344.3 L260.7,344.17 L261.29,344.33 L261.89,344.21 L262.48,344.22 L263.07,344.34 L263.66,344.7 L264.26,345.15 L264.85,345.22 L265.44,345.47 L266.04,345.14 L266.63,345.41 L267.22,345.64 L267.81,346.11 L268.41,346.47 L269,346.05 L269.59,345.7 L270.19,345.36 L270.78,345.05 L271.37,345.04 L271.96,344.64 L272.56,343.62 L273.15,343.56 L273.74,343.89 L274.34,344.75 L274.93,344.95 L275.52,345.21 L276.11,344.72 L276.71,344.57 L277.3,345.21 L277.89,344.52 L278.49,344.5 L279.08,343.58 L279.67,343.08 L280.26,342.71 L280.86,343.1 L281.45,343.9 L282.04,344.59 L282.64,345.4 L283.23,345 L283.82,345.11 L284.41,344.62 L285.01,344.72 L285.6,344.96" fill="none" stroke="#111" stroke-width="1.75" stroke-linejoin="round"/>
<path d="M37.5,340.5 L38.5,345 L39.5,340.8 L40.5,345.5 L41.5,341 L42.5,345" fill="none" stroke="#111" stroke-width="1.4"/>
<line x1="45.2" y1="343" x2="45.1" y2="400" stroke="#777" stroke-width="1.2"/>
<line x1="45.1" y1="400" x2="45" y2="462" stroke="#222" stroke-width="1.6"/>
<line x1="45" y1="462" x2="44.9" y2="490" stroke="#111" stroke-width="2.2"/>
<line x1="44.9" y1="490" x2="44.4" y2="563.5" stroke="#111" stroke-width="1.4"/>
<path d="M46,359.39 L46.54,359.63 L47.09,360.04 L47.63,360.83 L48.17,361.23 L48.72,361.94 L49.26,362.97 L49.81,363.07 L50.35,362.93 L50.89,362.83 L51.44,363.31 L51.98,364.24 L52.52,364.06 L53.07,364.66 L53.61,365.83 L54.16,365.91 L54.7,366.01 L55.24,366.3 L55.79,366.98 L56.33,367.17 L56.87,367.2 L57.42,368.51 L57.96,368.93 L58.5,368.83 L59.05,369.08 L59.59,368.91 L60.14,369.24 L60.68,369.97 L61.22,369.98 L61.77,370.23 L62.31,371.14 L62.85,371.61 L63.4,371.07 L63.94,370.74 L64.48,370.97 L65.03,371.79 L65.57,372.66 L66.12,372.78 L66.66,372.58 L67.2,372.27 L67.75,372.76 L68.29,373.32 L68.83,373.27 L69.38,373.48 L69.92,374.1 L70.47,374.31 L71.01,374.02 L71.55,373.54 L72.1,373.94 L72.64,374.76 L73.18,374.93 L73.73,374.93 L74.27,374.97 L74.81,375.45 L75.36,375.79 L75.9,375.77 L76.45,375.66 L76.99,375.6 L77.53,376.06 L78.08,376.09 L78.62,375.83 L79.16,376.15 L79.71,376.98 L80.25,377.25 L80.79,377.45 L81.34,377.48 L81.88,377.1 L82.43,376.85 L82.97,376.89 L83.51,377.8 L84.06,378.17 L84.6,378.07 L85.14,378.29 L85.69,378.18 L86.23,378.02 L86.78,378.15 L87.32,378.49 L87.86,378.68 L88.41,378.72 L88.95,378.72 L89.49,378.45 L90.04,378.42 L90.58,378.45 L91.12,378.89 L91.67,378.64 L92.21,378.38 L92.76,379.72 L93.3,379.76 L93.84,378.84 L94.39,379 L94.93,379.75 L95.47,379.78 L96.02,379.65 L96.56,379.79 L97.1,379.58 L97.65,380.5 L98.19,380.69 L98.74,379.7 L99.28,379.6 L99.82,379.92 L100.37,380.23 L100.91,380.39 L101.45,380.37 L102,379.79 L102.54,379.96 L103.09,380.32 L103.63,380.14 L104.17,379.85 L104.72,379.82 L105.26,380.08 L105.8,380.27 L106.35,380.11 L106.89,380.18 L107.43,380.66 L107.98,380.37 L108.52,380.2 L109.07,380.31 L109.61,380.78 L110.15,380.35 L110.7,380.03 L111.24,380.31 L111.78,380.32 L112.33,381.06 L112.87,381.04 L113.41,380.87 L113.96,380.84 L114.5,381.38 L115.05,381.91 L115.59,381.71 L116.13,381.1 L116.68,380.5 L117.22,381.21 L117.76,381.49 L118.31,381.14 L118.85,381.31 L119.4,381.05 L119.94,381.2 L120.48,381.59 L121.03,381.53 L121.57,381.35 L122.11,381.39 L122.66,381.4 L123.2,381.54 L123.74,382.08 L124.29,382.09 L124.83,381.94 L125.38,381.88 L125.92,380.99 L126.46,381.06 L127.01,381.77 L127.55,381.58 L128.09,381.59 L128.64,381.19 L129.18,381.13 L129.72,381.73 L130.27,382.3 L130.81,381.95 L131.36,381.31 L131.9,381.91 L132.44,381.93 L132.99,382.12 L133.53,382.4 L134.07,381.58 L134.62,381.85 L135.16,382.59 L135.71,381.92 L136.25,381.9 L136.79,382.24 L137.34,382.23 L137.88,382.21 L138.42,381.36 L138.97,381.62 L139.51,382.33 L140.05,382.8 L140.6,383.03 L141.14,382.65 L141.69,382.1 L142.23,381.77 L142.77,381.76 L143.32,381.68 L143.86,381.7 L144.4,381.22 L144.95,381.36 L145.49,382.08 L146.03,382.76 L146.58,382.99 L147.12,382.14 L147.67,382.09 L148.21,381.89 L148.75,381.56 L149.3,381.39 L149.84,381.97 L150.38,382.68 L150.93,381.94 L151.47,381.77 L152.02,382.37 L152.56,382.54 L153.1,382.38 L153.65,382.01 L154.19,381.72 L154.73,382 L155.28,382.44 L155.82,382.19 L156.36,381.62 L156.91,382.18 L157.45,382.24 L158,382.22 L158.54,382.56 L159.08,382.51 L159.63,382.94 L160.17,382.89 L160.71,382.62 L161.26,382.17 L161.8,381.76 L162.34,382.2 L162.89,382.84 L163.43,383.05 L163.98,383.28 L164.52,382.98 L165.06,382.38 L165.61,382.58 L166.15,382.54 L166.69,382.24 L167.24,381.94 L167.78,382.24 L168.33,382.24 L168.87,382.1 L169.41,382.01 L169.96,382.18 L170.5,382.29" fill="none" stroke="#111" stroke-width="1.2" stroke-linejoin="round"/>
<path d="M46,378.94 L46.54,379.16 L47.09,379.45 L47.63,380.87 L48.17,381.4 L48.72,381.7 L49.26,382.4 L49.81,382.32 L50.35,383.12 L50.89,384.47 L51.44,384.63 L51.98,385.21 L52.52,385.84 L53.07,385.92 L53.61,386.66 L54.16,387.26 L54.7,388.4 L55.24,388.64 L55.79,388.68 L56.33,389.87 L56.87,389.56 L57.42,389.24 L57.96,390.4 L58.5,391.18 L59.05,391.55 L59.59,392.43 L60.14,392.62 L60.68,392.4 L61.22,392.12 L61.77,392.87 L62.31,393.75 L62.85,394.15 L63.4,394.84 L63.94,394.71 L64.48,395.48 L65.03,396.52 L65.57,396.61 L66.12,396.3 L66.66,396.26 L67.2,396.76 L67.75,397.06 L68.29,397.2 L68.83,397.74 L69.38,398.41 L69.92,398.68 L70.47,398.75 L71.01,399.29 L71.55,399.75 L72.1,398.88 L72.64,398.9 L73.18,399.91 L73.73,400.62 L74.27,400.79 L74.81,400.69 L75.36,400.82 L75.9,401.31 L76.45,401.59 L76.99,401.45 L77.53,401.59 L78.08,402.13 L78.62,402.39 L79.16,401.97 L79.71,402.49 L80.25,402.96 L80.79,403.08 L81.34,403.57 L81.88,404 L82.43,404.37 L82.97,404.04 L83.51,403.87 L84.06,403.84 L84.6,404.53 L85.14,405.19 L85.69,405.27 L86.23,405.21 L86.78,404.39 L87.32,405.06 L87.86,405.82 L88.41,405.57 L88.95,405.7 L89.49,405.99 L90.04,406.26 L90.58,405.76 L91.12,406.05 L91.67,406.48 L92.21,406.17 L92.76,406.93 L93.3,407.44 L93.84,406.98 L94.39,406.31 L94.93,406.57 L95.47,407.36 L96.02,407.4 L96.56,407 L97.1,406.91 L97.65,407.01 L98.19,407.39 L98.74,408.08 L99.28,408.41 L99.82,408.07 L100.37,407.94 L100.91,408.39 L101.45,408.27 L102,408.16 L102.54,409 L103.09,409.18 L103.63,408.91 L104.17,408.81 L104.72,408.66 L105.26,408.37 L105.8,408.43 L106.35,409.33 L106.89,410.01 L107.43,410.08 L107.98,409.75 L108.52,409.5 L109.07,409.2 L109.61,409.21 L110.15,409.62 L110.7,409.51 L111.24,409.66 L111.78,409.67 L112.33,408.96 L112.87,409.01 L113.41,409.1 L113.96,409.06 L114.5,409.91 L115.05,410.29 L115.59,410.09 L116.13,410.53 L116.68,410.87 L117.22,410.45 L117.76,410.52 L118.31,410.83 L118.85,410.5 L119.4,410.56 L119.94,410.2 L120.48,409.9 L121.03,410.32 L121.57,410.76 L122.11,410.73 L122.66,410.56 L123.2,410.98 L123.74,411.46 L124.29,411.44 L124.83,411.44 L125.38,411.14 L125.92,410.73 L126.46,410.98 L127.01,411.01 L127.55,410.81 L128.09,411.4 L128.64,411.52 L129.18,410.81 L129.72,411.04 L130.27,411.87 L130.81,411.78 L131.36,411.64 L131.9,411.52 L132.44,411.07 L132.99,411.02 L133.53,411.15 L134.07,411.89 L134.62,411.63 L135.16,411.6 L135.71,411.67 L136.25,411.17 L136.79,411.71 L137.34,411.98 L137.88,411.85 L138.42,411.23 L138.97,411.28 L139.51,411.48 L140.05,412.12 L140.6,412.37 L141.14,411.72 L141.69,411.48 L142.23,411.31 L142.77,411.29 L143.32,411.72 L143.86,412.03 L144.4,411.93 L144.95,411.83 L145.49,411.55 L146.03,412.13 L146.58,412.01 L147.12,411.15 L147.67,411.56 L148.21,411.76 L148.75,411.54 L149.3,412.14 L149.84,412.04 L150.38,412.05 L150.93,412.1 L151.47,412.29 L152.02,412.87 L152.56,412.33 L153.1,411.91 L153.65,411.82 L154.19,411.95 L154.73,412.53 L155.28,412.07 L155.82,412.02 L156.36,412.07 L156.91,411.58 L157.45,411.46 L158,412.31 L158.54,412.84 L159.08,412.33 L159.63,412.13 L160.17,412.37 L160.71,411.98 L161.26,411.7 L161.8,412.93 L162.34,412.82 L162.89,412.21 L163.43,412.52 L163.98,412.29 L164.52,412.12 L165.06,412.63 L165.61,412.69 L166.15,412.53 L166.69,412.38 L167.24,412.38 L167.78,412.5 L168.33,412.83 L168.87,413.03 L169.41,412.55 L169.96,411.66 L170.5,411.94" fill="none" stroke="#111" stroke-width="1.2" stroke-linejoin="round"/>
<path d="M46,394.91 L46.54,395.57 L47.09,395.68 L47.63,396.48 L48.17,398.15 L48.72,398.99 L49.26,399.4 L49.81,400.54 L50.35,401.77 L50.89,402.43 L51.44,402.77 L51.98,403.31 L52.52,404.47 L53.07,405.59 L53.61,405.74 L54.16,405.66 L54.7,406.07 L55.24,407.21 L55.79,407.8 L56.33,408.44 L56.87,409.29 L57.42,409.64 L57.96,410.23 L58.5,410.79 L59.05,410.84 L59.59,411.08 L60.14,412.44 L60.68,412.63 L61.22,412.27 L61.77,413.33 L62.31,413.83 L62.85,413.69 L63.4,413.75 L63.94,414.51 L64.48,415.53 L65.03,416.13 L65.57,416.21 L66.12,416.44 L66.66,416.46 L67.2,416.53 L67.75,416.94 L68.29,417.24 L68.83,417.94 L69.38,418.47 L69.92,418.26 L70.47,418.58 L71.01,418.99 L71.55,418.59 L72.1,418.93 L72.64,419.04 L73.18,419.33 L73.73,420.05 L74.27,420.21 L74.81,420.5 L75.36,420.67 L75.9,420.73 L76.45,420.61 L76.99,420.81 L77.53,421.16 L78.08,421.2 L78.62,421.6 L79.16,421.95 L79.71,421.68 L80.25,421.34 L80.79,421.88 L81.34,422.61 L81.88,422.95 L82.43,423.21 L82.97,423.62 L83.51,423.64 L84.06,423.4 L84.6,423.1 L85.14,422.97 L85.69,423.25 L86.23,423.71 L86.78,424.02 L87.32,424.06 L87.86,424.07 L88.41,424.35 L88.95,424.56 L89.49,424.56 L90.04,424.69 L90.58,424.55 L91.12,424.26 L91.67,424.65 L92.21,425.14 L92.76,425.03 L93.3,424.88 L93.84,425.66 L94.39,425.64 L94.93,425.02 L95.47,425.38 L96.02,425.19 L96.56,425.22 L97.1,426.12 L97.65,426.42 L98.19,426.15 L98.74,426.12 L99.28,426.03 L99.82,426.2 L100.37,426.18 L100.91,425.84 L101.45,425.97 L102,426.4 L102.54,426.52 L103.09,426.5 L103.63,425.88 L104.17,426.08 L104.72,427.36 L105.26,427.45 L105.8,426.74 L106.35,426.16 L106.89,426.37 L107.43,426.37 L107.98,426.54 L108.52,426.71 L109.07,426.81 L109.61,427.38 L110.15,426.57 L110.7,426.3 L111.24,426.71 L111.78,426.26 L112.33,426.32 L112.87,426.68 L113.41,427.18 L113.96,426.84 L114.5,426.87 L115.05,427.9 L115.59,427.8 L116.13,427.41 L116.68,427.26 L117.22,426.8 L117.76,426.98 L118.31,427.44 L118.85,427.52 L119.4,428.16 L119.94,428.18 L120.48,427.6 L121.03,427.85 L121.57,427.37 L122.11,426.62 L122.66,426.92 L123.2,427.07 L123.74,427.39 L124.29,427.51 L124.83,427.82 L125.38,428.35 L125.92,428.1 L126.46,427.57 L127.01,427.54 L127.55,427.9 L128.09,427.43 L128.64,427.32 L129.18,427.83 L129.72,427.81 L130.27,428.06 L130.81,428.36 L131.36,427.69 L131.9,427.39 L132.44,427.4 L132.99,427.54 L133.53,427.54 L134.07,427.65 L134.62,428.02 L135.16,428.04 L135.71,427.9 L136.25,427.22 L136.79,427.77 L137.34,428.14 L137.88,428.04 L138.42,428.22 L138.97,428.03 L139.51,428.43 L140.05,428.35 L140.6,428.23 L141.14,427.72 L141.69,427.58 L142.23,427.94 L142.77,427.66 L143.32,427.74 L143.86,427.88 L144.4,428.35 L144.95,427.74 L145.49,427.29 L146.03,427.61 L146.58,427.94 L147.12,428.02 L147.67,427.83 L148.21,427.84 L148.75,427.91 L149.3,428.31 L149.84,428.01 L150.38,427.74 L150.93,427.46 L151.47,427.54 L152.02,428.18 L152.56,427.94 L153.1,428.02 L153.65,427.6 L154.19,426.76 L154.73,426.96 L155.28,427.35 L155.82,427.75 L156.36,427.87 L156.91,427.85 L157.45,428.08 L158,427.96 L158.54,427.41 L159.08,427.19 L159.63,428.15 L160.17,427.84 L160.71,427.19 L161.26,428.27 L161.8,428.46 L162.34,427.82 L162.89,427.68 L163.43,428.16 L163.98,428.51 L164.52,428.01 L165.06,427.89 L165.61,428.21 L166.15,428.31 L166.69,428.64 L167.24,428.23 L167.78,427.43 L168.33,427.64 L168.87,428.55 L169.41,428.64 L169.96,428.2 L170.5,428.69" fill="none" stroke="#111" stroke-width="1.2" stroke-linejoin="round"/>
<path d="M46,410.41 L46.54,411.57 L47.09,412.59 L47.63,413.2 L48.17,414.21 L48.72,415.42 L49.26,415.89 L49.81,416.05 L50.35,416.58 L50.89,417.56 L51.44,418.55 L51.98,419.17 L52.52,419.62 L53.07,420 L53.61,421.17 L54.16,421.79 L54.7,422.21 L55.24,422.93 L55.79,423.15 L56.33,423.05 L56.87,423.9 L57.42,424.84 L57.96,425.28 L58.5,425.08 L59.05,424.74 L59.59,425.1 L60.14,425.7 L60.68,426.97 L61.22,427.73 L61.77,427.77 L62.31,427.98 L62.85,428.52 L63.4,428.7 L63.94,428.9 L64.48,429.31 L65.03,428.86 L65.57,428.98 L66.12,430.24 L66.66,430.48 L67.2,430.3 L67.75,430.47 L68.29,430.6 L68.83,431.31 L69.38,431.58 L69.92,431.17 L70.47,430.56 L71.01,430.88 L71.55,431.38 L72.1,431.21 L72.64,432.16 L73.18,433.04 L73.73,432.43 L74.27,432.62 L74.81,433.44 L75.36,433.12 L75.9,433.34 L76.45,433.23 L76.99,432.81 L77.53,432.99 L78.08,433.13 L78.62,433.9 L79.16,433.95 L79.71,433.49 L80.25,433.7 L80.79,434.18 L81.34,434.45 L81.88,434.73 L82.43,434.72 L82.97,434.19 L83.51,434.34 L84.06,434.79 L84.6,434.75 L85.14,434.89 L85.69,435.74 L86.23,435.57 L86.78,435.14 L87.32,435.75 L87.86,435.61 L88.41,435.05 L88.95,434.99 L89.49,435.39 L90.04,435.9 L90.58,435.8 L91.12,435.72 L91.67,436.17 L92.21,436.45 L92.76,435.74 L93.3,435.54 L93.84,436.01 L94.39,436.25 L94.93,436.2 L95.47,435.85 L96.02,435.82 L96.56,435.54 L97.1,435.69 L97.65,436.06 L98.19,436.23 L98.74,436.14 L99.28,435.92 L99.82,435.96 L100.37,435.81 L100.91,436.31 L101.45,436.51 L102,436.46 L102.54,436.3 L103.09,436.22 L103.63,436.09 L104.17,435.94 L104.72,436.3 L105.26,436.62 L105.8,436.83 L106.35,436.64 L106.89,436.84 L107.43,436.96 L107.98,436.9 L108.52,437.08 L109.07,436.92 L109.61,436.64 L110.15,436.76 L110.7,436.74 L111.24,436.77 L111.78,437.22 L112.33,437.36 L112.87,436.95 L113.41,436.36 L113.96,436.47 L114.5,436.8 L115.05,437.14 L115.59,437.08 L116.13,436.72 L116.68,437.05 L117.22,436.98 L117.76,436.74 L118.31,437.36 L118.85,437.84 L119.4,437.54 L119.94,437.2 L120.48,436.76 L121.03,436.85 L121.57,437.15 L122.11,437.06 L122.66,436.9 L123.2,436.84 L123.74,436.94 L124.29,437.04 L124.83,437.5 L125.38,437.52 L125.92,436.65 L126.46,436.28 L127.01,436.31 L127.55,436.36 L128.09,436.97 L128.64,437.32 L129.18,436.99 L129.72,436.96 L130.27,436.92 L130.81,436.45 L131.36,436.27 L131.9,436.43 L132.44,437.23 L132.99,437.1 L133.53,437.05 L134.07,437.81 L134.62,437.41 L135.16,437.02 L135.71,436.9 L136.25,436.91 L136.79,437.28 L137.34,437.29 L137.88,437.39 L138.42,437.72 L138.97,437.54 L139.51,437.3 L140.05,437.18 L140.6,437.19 L141.14,436.9 L141.69,436.92 L142.23,437.29 L142.77,436.93 L143.32,437.49 L143.86,437.46 L144.4,436.6 L144.95,436.96 L145.49,436.66 L146.03,436.36 L146.58,436.48 L147.12,436.43 L147.67,436.82 L148.21,437.19 L148.75,437.54 L149.3,437.68 L149.84,437.7 L150.38,437.64 L150.93,437.17 L151.47,437.32 L152.02,437.32 L152.56,436.83 L153.1,437.4 L153.65,437.8 L154.19,437.43 L154.73,437.42 L155.28,437.61 L155.82,437.01 L156.36,436.74 L156.91,436.79 L157.45,436.85 L158,436.99 L158.54,437.34 L159.08,437.68 L159.63,437.07 L160.17,436.92 L160.71,436.81 L161.26,436.82 L161.8,437.32 L162.34,437.38 L162.89,436.68 L163.43,436.51 L163.98,437.2 L164.52,437.39 L165.06,437.57 L165.61,437.12 L166.15,436.94 L166.69,437.12 L167.24,437.03 L167.78,437.33 L168.33,437.47 L168.87,437.19 L169.41,437.05 L169.96,436.88 L170.5,436.43" fill="none" stroke="#111" stroke-width="1.2" stroke-linejoin="round"/>
<path d="M46,426.84 L46.54,427.41 L47.09,427.37 L47.63,427.7 L48.17,428.7 L48.72,429.9 L49.26,430.69 L49.81,430.95 L50.35,430.62 L50.89,430.81 L51.44,431.88 L51.98,432.44 L52.52,432.82 L53.07,433.03 L53.61,433.78 L54.16,434.63 L54.7,434.45 L55.24,434.09 L55.79,435.02 L56.33,435.45 L56.87,435.51 L57.42,436.5 L57.96,436.17 L58.5,435.98 L59.05,436.41 L59.59,436.73 L60.14,437.16 L60.68,437.79 L61.22,438.09 L61.77,437.76 L62.31,438.12 L62.85,438.25 L63.4,438.02 L63.94,438.92 L64.48,438.97 L65.03,438.37 L65.57,438.78 L66.12,438.79 L66.66,438.33 L67.2,439.08 L67.75,439.6 L68.29,439.29 L68.83,439.54 L69.38,439.55 L69.92,439.48 L70.47,439.92 L71.01,441.02 L71.55,441.29 L72.1,440.94 L72.64,440.41 L73.18,440.29 L73.73,440.48 L74.27,440.8 L74.81,441.16 L75.36,441.04 L75.9,441.16 L76.45,441.07 L76.99,440.74 L77.53,441.15 L78.08,441.26 L78.62,440.83 L79.16,441.21 L79.71,441.41 L80.25,441.63 L80.79,442.17 L81.34,442.23 L81.88,442.06 L82.43,442.05 L82.97,442.29 L83.51,441.81 L84.06,441.72 L84.6,442.03 L85.14,441.62 L85.69,441.93 L86.23,442.21 L86.78,442.41 L87.32,442.87 L87.86,442.09 L88.41,441.79 L88.95,443.04 L89.49,443.34 L90.04,443.23 L90.58,443.04 L91.12,442.26 L91.67,441.94 L92.21,442.58 L92.76,443.2 L93.3,442.81 L93.84,442.49 L94.39,442.8 L94.93,442.4 L95.47,442.25 L96.02,443.23 L96.56,443.97 L97.1,443.5 L97.65,443.42 L98.19,443.32 L98.74,442.59 L99.28,442.12 L99.82,442.64 L100.37,443.18 L100.91,443.59 L101.45,443.81 L102,443.21 L102.54,442.62 L103.09,443.01 L103.63,443.43 L104.17,442.97 L104.72,442.46 L105.26,442.78 L105.8,443.7 L106.35,443.27 L106.89,443.03 L107.43,443.33 L107.98,443.58 L108.52,443.51 L109.07,443.73 L109.61,443.64 L110.15,442.99 L110.7,442.94 L111.24,442.4 L111.78,442.31 L112.33,443.32 L112.87,443.63 L113.41,443.12 L113.96,443.15 L114.5,442.82 L115.05,442.65 L115.59,443.37 L116.13,443.66 L116.68,443.3 L117.22,443.36 L117.76,444.12 L118.31,443.74 L118.85,443.43 L119.4,443.11 L119.94,442.35 L120.48,442.97 L121.03,443.54 L121.57,443.43 L122.11,443.26 L122.66,443.12 L123.2,443.52 L123.74,444.09 L124.29,443.8 L124.83,442.85 L125.38,443.28 L125.92,443.92 L126.46,443.76 L127.01,443.64 L127.55,444.11 L128.09,444.08 L128.64,443.57 L129.18,443.03 L129.72,442.72 L130.27,443.05 L130.81,443.21 L131.36,443.5 L131.9,443.3 L132.44,443.7 L132.99,443.61 L133.53,442.99 L134.07,443.36 L134.62,443.14 L135.16,443.23 L135.71,443.77 L136.25,443.53 L136.79,443.89 L137.34,444 L137.88,443.54 L138.42,443.24 L138.97,442.69 L139.51,442.79 L140.05,443.17 L140.6,443.22 L141.14,443.53 L141.69,442.98 L142.23,442.45 L142.77,442.61 L143.32,443.31 L143.86,443.67 L144.4,443.14 L144.95,442.99 L145.49,443.39 L146.03,443.59 L146.58,443.4 L147.12,442.94 L147.67,443.21 L148.21,443.9 L148.75,443.72 L149.3,443.96 L149.84,443.75 L150.38,443.35 L150.93,443.61 L151.47,443.78 L152.02,443.51 L152.56,443.4 L153.1,443.33 L153.65,443.52 L154.19,443.93 L154.73,443.73 L155.28,443.99 L155.82,443.56 L156.36,442.96 L156.91,443.88 L157.45,443.83 L158,442.89 L158.54,443.41 L159.08,444.01 L159.63,443.28 L160.17,443.35 L160.71,443.39 L161.26,442.8 L161.8,443.04 L162.34,443.29 L162.89,443.02 L163.43,443.05 L163.98,443.08 L164.52,443.2 L165.06,443.48 L165.61,443.67 L166.15,443.55 L166.69,442.96 L167.24,442.72 L167.78,443.02 L168.33,443.83 L168.87,444.14 L169.41,443.53 L169.96,443.55 L170.5,443.41" fill="none" stroke="#111" stroke-width="1.2" stroke-linejoin="round"/>
<path d="M46,442.27 L46.54,442.49 L47.09,442.73 L47.63,443.32 L48.17,443.3 L48.72,443.49 L49.26,443.52 L49.81,443.64 L50.35,444.48 L50.89,445.88 L51.44,445.98 L51.98,445.03 L52.52,444.73 L53.07,445.18 L53.61,445.16 L54.16,444.79 L54.7,445.51 L55.24,445.53 L55.79,446 L56.33,446.78 L56.87,446.3 L57.42,445.94 L57.96,445.84 L58.5,445.7 L59.05,446.29 L59.59,446.96 L60.14,447.02 L60.68,447 L61.22,446.82 L61.77,446.92 L62.31,446.73 L62.85,446.69 L63.4,447.59 L63.94,448.02 L64.48,447.53 L65.03,447.11 L65.57,447.68 L66.12,448.33 L66.66,447.56 L67.2,446.97 L67.75,447.5 L68.29,448.01 L68.83,447.74 L69.38,447.61 L69.92,447.8 L70.47,448.32 L71.01,448.55 L71.55,447.87 L72.1,447.68 L72.64,448.04 L73.18,448.35 L73.73,447.77 L74.27,447.66 L74.81,447.6 L75.36,447.35 L75.9,447.38 L76.45,447.23 L76.99,447.42 L77.53,447.53 L78.08,447.89 L78.62,448.41 L79.16,448.2 L79.71,447.67 L80.25,447.98 L80.79,447.73 L81.34,446.97 L81.88,447.76 L82.43,448.5 L82.97,448.58 L83.51,448.34 L84.06,447.71 L84.6,447.64 L85.14,448.17 L85.69,448.1 L86.23,447.74 L86.78,447.57 L87.32,447.45 L87.86,448.09 L88.41,448.55 L88.95,447.99 L89.49,447.56 L90.04,447.73 L90.58,448.2 L91.12,448.03 L91.67,447.83 L92.21,447.56 L92.76,447.25 L93.3,447.98 L93.84,448.6 L94.39,448.15 L94.93,447.68 L95.47,448.24 L96.02,448.35 L96.56,447.97 L97.1,448.23 L97.65,448.44 L98.19,448.61 L98.74,448.78 L99.28,448.31 L99.82,448.05 L100.37,448.2 L100.91,447.85 L101.45,447.59 L102,448.25 L102.54,448.08 L103.09,448.09 L103.63,448.62 L104.17,448.3 L104.72,448.37 L105.26,448.55 L105.8,448.74 L106.35,448.49 L106.89,448.08 L107.43,448.13 L107.98,448.73 L108.52,449.07 L109.07,448.27 L109.61,447.91 L110.15,447.97 L110.7,448.07 L111.24,448.33 L111.78,448.98 L112.33,448.4 L112.87,448.04 L113.41,448.69 L113.96,448.19 L114.5,448.03 L115.05,448.09 L115.59,448.14 L116.13,448.57 L116.68,448.13 L117.22,448.21 L117.76,448.54 L118.31,448.59 L118.85,448.82 L119.4,448.74 L119.94,448.79 L120.48,448.74 L121.03,448.6 L121.57,448.06 L122.11,448.23 L122.66,448.67 L123.2,449.07 L123.74,448.3 L124.29,447.65 L124.83,448.52 L125.38,448.22 L125.92,447.86 L126.46,448.81 L127.01,449.28 L127.55,448.43 L128.09,448.43 L128.64,449.02 L129.18,448.84 L129.72,448.61 L130.27,448.46 L130.81,448.1 L131.36,447.89 L131.9,448.34 L132.44,448.53 L132.99,448.85 L133.53,448.71 L134.07,447.51 L134.62,447.51 L135.16,448.27 L135.71,448.47 L136.25,448.41 L136.79,448.07 L137.34,448.47 L137.88,448.52 L138.42,448.3 L138.97,448.4 L139.51,447.86 L140.05,448.35 L140.6,447.97 L141.14,447.33 L141.69,448.17 L142.23,448.31 L142.77,448.4 L143.32,448.47 L143.86,448.13 L144.4,448.77 L144.95,448.84 L145.49,448.18 L146.03,447.94 L146.58,447.77 L147.12,448.26 L147.67,448.63 L148.21,448.45 L148.75,448.09 L149.3,448.28 L149.84,448 L150.38,447.71 L150.93,448.12 L151.47,447.98 L152.02,448.09 L152.56,448.14 L153.1,447.87 L153.65,448.57 L154.19,449.01 L154.73,448.84 L155.28,448.64 L155.82,448.58 L156.36,448.79 L156.91,448.86 L157.45,449.31 L158,448.9 L158.54,448.3 L159.08,448.35 L159.63,447.28 L160.17,446.9 L160.71,447.9 L161.26,448.48 L161.8,448.31 L162.34,448.45 L162.89,448.98 L163.43,448.54 L163.98,448.58 L164.52,449.19 L165.06,448.92 L165.61,448.15 L166.15,448.44 L166.69,448.67 L167.24,448.14 L167.78,448.22 L168.33,448.18 L168.87,448.45 L169.41,448.82 L169.96,448.86 L170.5,448.81" fill="none" stroke="#111" stroke-width="1.2" stroke-linejoin="round"/>
<path d="M46,453.08 L46.54,453.13 L47.09,453.69 L47.63,453.71 L48.17,454.37 L48.72,454.49 L49.26,453.57 L49.81,454.03 L50.35,454.47 L50.89,454.19 L51.44,453.97 L51.98,454.15 L52.52,454.49 L53.07,454.63 L53.61,454.35 L54.16,454.3 L54.7,454.66 L55.24,454.78 L55.79,453.7 L56.33,453.26 L56.87,453.94 L57.42,454.16 L57.96,454.45 L58.5,454.8 L59.05,454.94 L59.59,454.66 L60.14,454.51 L60.68,455.06 L61.22,454.9 L61.77,454.5 L62.31,455.13 L62.85,455.16 L63.4,454.15 L63.94,454.17 L64.48,454.65 L65.03,454.52 L65.57,454.94 L66.12,455.11 L66.66,454.74 L67.2,454.87 L67.75,455.08 L68.29,454.86 L68.83,454.83 L69.38,454.88 L69.92,454.7 L70.47,454.5 L71.01,454.61 L71.55,454.48 L72.1,454.12 L72.64,454.76 L73.18,455.05 L73.73,454.68 L74.27,454.71 L74.81,454.73 L75.36,454.77 L75.9,454.79 L76.45,454.56 L76.99,454.8 L77.53,454.84 L78.08,454.87 L78.62,454.52 L79.16,453.93 L79.71,454.76 L80.25,455.02 L80.79,454.55 L81.34,454.7 L81.88,454.59 L82.43,454.51 L82.97,454.18 L83.51,454.03 L84.06,454.48 L84.6,454.76 L85.14,455.19 L85.69,454.8 L86.23,455 L86.78,455.08 L87.32,454.04 L87.86,453.54 L88.41,454.55 L88.95,455.2 L89.49,454.59 L90.04,454.4 L90.58,454.27 L91.12,454.87 L91.67,455.15 L92.21,455.28 L92.76,455.25 L93.3,454.07 L93.84,454.37 L94.39,454.93 L94.93,454.63 L95.47,455.17 L96.02,455.17 L96.56,455.05 L97.1,455.12 L97.65,454.58 L98.19,454.73 L98.74,454.77 L99.28,454.98 L99.82,455.42 L100.37,455.09 L100.91,454.99 L101.45,455.13 L102,454.88 L102.54,454.97 L103.09,454.99 L103.63,454.91 L104.17,454.7 L104.72,454.56 L105.26,454.95 L105.8,454.69 L106.35,454.46 L106.89,454.53 L107.43,454.86 L107.98,454.8 L108.52,454.72 L109.07,455.36 L109.61,455.33 L110.15,454.45 L110.7,454.38 L111.24,455.13 L111.78,455.02 L112.33,455.04 L112.87,455.29 L113.41,455.1 L113.96,454.85 L114.5,454.59 L115.05,454.59 L115.59,454.75 L116.13,454.97 L116.68,455.07 L117.22,454.84 L117.76,454.74 L118.31,454.93 L118.85,454.46 L119.4,454.13 L119.94,454.36 L120.48,454.52 L121.03,454.67 L121.57,454.66 L122.11,454.49 L122.66,454.75 L123.2,455.08 L123.74,454.42 L124.29,454.35 L124.83,454.49 L125.38,454.97 L125.92,455.16 L126.46,454.57 L127.01,454.72 L127.55,454.78 L128.09,454.74 L128.64,455.23 L129.18,455.31 L129.72,455.11 L130.27,455.36 L130.81,454.85 L131.36,455.01 L131.9,455.48 L132.44,455.28 L132.99,454.84 L133.53,454.8 L134.07,455.16 L134.62,454.78 L135.16,455.3 L135.71,455.62 L136.25,454.9 L136.79,454.8 L137.34,455.12 L137.88,455.39 L138.42,455.29 L138.97,455.32 L139.51,455.57 L140.05,454.88 L140.6,454.32 L141.14,454.41 L141.69,454.57 L142.23,455.25 L142.77,455.4 L143.32,454.7 L143.86,454.43 L144.4,455.02 L144.95,454.95 L145.49,454.63 L146.03,454.87 L146.58,454.38 L147.12,454.52 L147.67,455.13 L148.21,455.07 L148.75,454.7 L149.3,454.32 L149.84,454.43 L150.38,454.71 L150.93,454.9 L151.47,454.87 L152.02,455.35 L152.56,455.69 L153.1,454.98 L153.65,454.42 L154.19,455.11 L154.73,455.21 L155.28,455.11 L155.82,455.65 L156.36,455.11 L156.91,454.58 L157.45,454.76 L158,454.59 L158.54,454.29 L159.08,454.42 L159.63,454.94 L160.17,454.93 L160.71,454.63 L161.26,454.62 L161.8,454.29 L162.34,454.85 L162.89,454.57 L163.43,453.96 L163.98,454.78 L164.52,454.57 L165.06,454.59 L165.61,455.34 L166.15,454.92 L166.69,454.63 L167.24,454.56 L167.78,454.64 L168.33,454.98 L168.87,454.9 L169.41,455.26 L169.96,455.33 L170.5,455.32" fill="none" stroke="#111" stroke-width="1.2" stroke-linejoin="round"/>
<path d="M46,465.18 L46.54,464.11 L47.09,463.37 L47.63,463.28 L48.17,462.31 L48.72,462.12 L49.26,462.17 L49.81,461.57 L50.35,461.02 L50.89,460.68 L51.44,460.81 L51.98,460.5 L52.52,460.28 L53.07,459.63 L53.61,459.86 L54.16,460.04 L54.7,458.94 L55.24,458.9 L55.79,459.21 L56.33,459.57 L56.87,459.49 L57.42,459.37 L57.96,459.31 L58.5,459.82 L59.05,460.21 L59.59,460.11 L60.14,459.65 L60.68,459.26 L61.22,459.26 L61.77,459.22 L62.31,459.66 L62.85,459.04 L63.4,458.51 L63.94,458.62 L64.48,458.51 L65.03,458.63 L65.57,458.77 L66.12,458.57 L66.66,458.86 L67.2,459.42 L67.75,459.02 L68.29,458.7 L68.83,459.07 L69.38,459.16 L69.92,458.96 L70.47,459.25 L71.01,459.69 L71.55,459.65 L72.1,459.35 L72.64,459.72 L73.18,460.27 L73.73,459.59 L74.27,459.06 L74.81,459.51 L75.36,459.32 L75.9,459.1 L76.45,459.33 L76.99,459.02 L77.53,458.94 L78.08,458.7 L78.62,458.61 L79.16,458.49 L79.71,459.29 L80.25,460.28 L80.79,459.98 L81.34,459.64 L81.88,459.57 L82.43,459.85 L82.97,459.85 L83.51,459.75 L84.06,459.21 L84.6,459.07 L85.14,459.17 L85.69,458.72 L86.23,458.55 L86.78,459 L87.32,459.62 L87.86,459.11 L88.41,459.31 L88.95,460.11 L89.49,459.51 L90.04,458.96 L90.58,459.05 L91.12,459.46 L91.67,459.37 L92.21,458.78 L92.76,458.99 L93.3,458.71 L93.84,458.66 L94.39,459.57 L94.93,459.62 L95.47,459.51 L96.02,459.56 L96.56,459.55 L97.1,459.45 L97.65,459.01 L98.19,458.9 L98.74,459.12 L99.28,459.54 L99.82,460.02 L100.37,459.78 L100.91,459.11 L101.45,458.78 L102,458.94 L102.54,459.54 L103.09,459.69 L103.63,459.28 L104.17,458.97 L104.72,459.23 L105.26,459.53 L105.8,459.27 L106.35,459.21 L106.89,459.71 L107.43,459.63 L107.98,459.63 L108.52,460.03 L109.07,459.57 L109.61,459.46 L110.15,459.41 L110.7,458.93 L111.24,458.89 L111.78,458.87 L112.33,459.09 L112.87,459.35 L113.41,459.36 L113.96,459.59 L114.5,458.55 L115.05,458.41 L115.59,458.78 L116.13,458.74 L116.68,459 L117.22,458.98 L117.76,459.62 L118.31,459.1 L118.85,458.77 L119.4,459.23 L119.94,458.64 L120.48,458.85 L121.03,459.39 L121.57,459.07 L122.11,458.85 L122.66,459.9 L123.2,460 L123.74,458.58 L124.29,458.43 L124.83,458.83 L125.38,458.99 L125.92,459.07 L126.46,458.88 L127.01,459.06 L127.55,459.22 L128.09,458.68 L128.64,458.58 L129.18,458.86 L129.72,459.33 L130.27,459.58 L130.81,459.24 L131.36,459.11 L131.9,459.27 L132.44,459.84 L132.99,459.6 L133.53,459.16 L134.07,459.54 L134.62,459.14 L135.16,458.98 L135.71,459.3 L136.25,459.11 L136.79,459.23 L137.34,459.65 L137.88,459.81 L138.42,459.47 L138.97,459.2 L139.51,459.92 L140.05,459.55 L140.6,458.95 L141.14,459.51 L141.69,459.49 L142.23,459.43 L142.77,459.43 L143.32,459.46 L143.86,459.78 L144.4,459.5 L144.95,459.19 L145.49,459.24 L146.03,459.07 L146.58,459.08 L147.12,458.87 L147.67,459.09 L148.21,459.89 L148.75,460.16 L149.3,460.04 L149.84,459.29 L150.38,459.36 L150.93,459.43 L151.47,458.98 L152.02,459.71 L152.56,459.42 L153.1,459.13 L153.65,459.52 L154.19,459.24 L154.73,458.91 L155.28,459.07 L155.82,459.19 L156.36,459.36 L156.91,459.84 L157.45,459.16 L158,458.67 L158.54,458.97 L159.08,458.78 L159.63,458.55 L160.17,458.91 L160.71,459.17 L161.26,458.67 L161.8,458.58 L162.34,459.19 L162.89,459.01 L163.43,458.6 L163.98,459.39 L164.52,460.02 L165.06,459.11 L165.61,458.36 L166.15,458.92 L166.69,458.97 L167.24,458.79 L167.78,459 L168.33,459.23 L168.87,458.64 L169.41,457.86 L169.96,458.23 L170.5,459.14" fill="none" stroke="#111" stroke-width="1.2" stroke-linejoin="round"/>
<path d="M46,466.46 L46.54,465.02 L47.09,464.39 L47.63,464.38 L48.17,463.58 L48.72,462.77 L49.26,462.53 L49.81,462.59 L50.35,462.19 L50.89,461.72 L51.44,461.43 L51.98,460.97 L52.52,460.56 L53.07,460.59 L53.61,460.64 L54.16,460.39 L54.7,460.64 L55.24,460.77 L55.79,460.69 L56.33,460.05 L56.87,459.91 L57.42,460.14 L57.96,459.72 L58.5,459.62 L59.05,460.16 L59.59,460.61 L60.14,460.05 L60.68,459.48 L61.22,459.67 L61.77,459.85 L62.31,460.3 L62.85,460.01 L63.4,459.01 L63.94,459.35 L64.48,459.86 L65.03,459.97 L65.57,460.18 L66.12,460.72 L66.66,460.41 L67.2,459.66 L67.75,459.26 L68.29,459.48 L68.83,460.22 L69.38,460.08 L69.92,460.17 L70.47,460.25 L71.01,460.34 L71.55,460.43 L72.1,459.7 L72.64,459.42 L73.18,459.29 L73.73,458.98 L74.27,459.49 L74.81,460.22 L75.36,460.7 L75.9,460.44 L76.45,459.82 L76.99,459.52 L77.53,459.87 L78.08,460.29 L78.62,459.84 L79.16,459.93 L79.71,460.25 L80.25,459.53 L80.79,459.58 L81.34,460.15 L81.88,459.83 L82.43,459.67 L82.97,460.28 L83.51,460.83 L84.06,460.85 L84.6,460.09 L85.14,459.39 L85.69,459.97 L86.23,459.81 L86.78,459.35 L87.32,459.19 L87.86,459.91 L88.41,460.72 L88.95,460.33 L89.49,460.09 L90.04,459.84 L90.58,459.67 L91.12,459.96 L91.67,459.87 L92.21,460.05 L92.76,460.11 L93.3,459.51 L93.84,460.02 L94.39,460.23 L94.93,460.02 L95.47,459.94 L96.02,459.15 L96.56,459.42 L97.1,459.67 L97.65,459.83 L98.19,459.77 L98.74,458.93 L99.28,459.46 L99.82,460.11 L100.37,460.05 L100.91,459.59 L101.45,459.81 L102,459.74 L102.54,459.35 L103.09,459.55 L103.63,459.57 L104.17,460.03 L104.72,459.96 L105.26,459.88 L105.8,460.26 L106.35,459.61 L106.89,459.09 L107.43,459.46 L107.98,459.62 L108.52,459.82 L109.07,459.44 L109.61,459.56 L110.15,460.31 L110.7,460.06 L111.24,459.46 L111.78,459.51 L112.33,459.75 L112.87,459.91 L113.41,460.04 L113.96,460.08 L114.5,459.98 L115.05,460.19 L115.59,459.66 L116.13,458.96 L116.68,459.75 L117.22,459.61 L117.76,459.68 L118.31,459.76 L118.85,459.58 L119.4,459.67 L119.94,459.52 L120.48,459.82 L121.03,459.92 L121.57,459.76 L122.11,460.4 L122.66,460.51 L123.2,459.63 L123.74,459.89 L124.29,460.39 L124.83,460.48 L125.38,460.75 L125.92,460.14 L126.46,459.93 L127.01,460.52 L127.55,460.22 L128.09,459.97 L128.64,459.12 L129.18,458.89 L129.72,460.24 L130.27,459.9 L130.81,459.24 L131.36,459.83 L131.9,460.14 L132.44,460.52 L132.99,459.86 L133.53,459.41 L134.07,460.16 L134.62,459.77 L135.16,459.52 L135.71,460.42 L136.25,460.81 L136.79,460.42 L137.34,459.31 L137.88,459.12 L138.42,459.97 L138.97,459.92 L139.51,459.79 L140.05,460.75 L140.6,460.71 L141.14,459.57 L141.69,459.69 L142.23,459.88 L142.77,459.72 L143.32,459.79 L143.86,460.09 L144.4,460.19 L144.95,459.63 L145.49,459.52 L146.03,460 L146.58,459.9 L147.12,460.09 L147.67,460.44 L148.21,459.84 L148.75,459.71 L149.3,460.55 L149.84,460.9 L150.38,460.33 L150.93,460.14 L151.47,459.96 L152.02,459.3 L152.56,459.65 L153.1,460.13 L153.65,460.12 L154.19,460.04 L154.73,459.99 L155.28,459.85 L155.82,459.89 L156.36,460.27 L156.91,460.12 L157.45,460.11 L158,459.63 L158.54,459.18 L159.08,460.09 L159.63,460.81 L160.17,460.47 L160.71,459.94 L161.26,459.51 L161.8,459.64 L162.34,460.22 L162.89,459.7 L163.43,459.64 L163.98,460.2 L164.52,460.16 L165.06,459.71 L165.61,459.73 L166.15,459.63 L166.69,459.9 L167.24,460.36 L167.78,459.61 L168.33,459.95 L168.87,460.61 L169.41,460.04 L169.96,460.34 L170.5,460.24" fill="none" stroke="#111" stroke-width="1.2" stroke-linejoin="round"/>
<line x1="171.1" y1="279.2" x2="171.2" y2="343" stroke="#222" stroke-width="1.5"/>
<line x1="171.2" y1="343" x2="172.7" y2="563.7" stroke="#666" stroke-width="2"/>
<path d="M179.2,343.03 L179.18,343.76 L179.17,344.09 L179.15,344.67 L179.13,345.51 L179.12,346.01 L179.1,346.52 L179.08,347.16 L179.06,347.77 L179.05,348.25 L179.03,348.93 L179.01,349.52 L179,350.36 L178.98,350.96 L178.96,351.34 L178.95,352.06 L178.93,352.77 L178.91,353.51 L178.9,354.22 L178.88,354.73 L178.86,355.22 L178.84,355.89 L178.83,356.64 L178.81,357.34 L178.79,357.82 L178.78,358.16 L178.76,359.07 L178.74,360.02 L178.73,360.45 L178.71,361.01 L178.69,361.56 L178.67,362.05 L178.66,362.7 L178.64,363.41 L178.62,364.01 L178.61,364.51 L178.59,365.17 L178.57,366.02 L178.56,366.62 L178.54,367.19 L178.52,367.66 L178.5,368.26 L178.49,369.09 L178.47,369.61 L178.45,370.07 L178.44,370.86 L178.42,371.59 L178.4,372.22 L178.39,372.88 L178.37,373.52 L178.35,374.15 L178.33,374.54 L178.32,375.18 L178.3,375.93 L178.28,376.62 L178.27,377.22 L178.25,377.72 L178.23,378.47 L178.22,379.25 L178.2,379.85 L178.18,380.44 L178.17,381.01 L178.15,381.59 L178.13,382.23 L178.11,382.79 L178.1,383.31 L178.08,383.87 L178.06,384.72 L178.05,385.29 L178.03,385.6 L178.01,386.15 L178,386.76 L177.98,387.4 L177.96,387.87 L177.95,388.21 L177.93,388.94 L177.91,389.55 L177.9,390.12 L177.88,390.87 L177.86,391.53 L177.85,392.25 L177.83,392.73 L177.81,393.05 L177.8,393.44 L177.78,393.96 L177.76,394.64 L177.75,395.04 L177.73,395.59 L177.71,396.34 L177.7,396.94 L177.68,397.43 L177.67,397.9 L177.65,398.38 L177.63,398.84 L177.62,399.25 L177.6,399.83 L177.58,400.91 L177.55,401.64 L177.53,402.23 L177.51,402.81 L177.48,403.63 L177.46,404.35 L177.44,404.97 L177.41,405.74 L177.39,406.23 L177.37,407 L177.34,407.76 L177.32,408.33 L177.3,409.03 L177.28,409.65 L177.25,410.2 L177.23,410.89 L177.21,411.52 L177.18,412.1 L177.16,412.69 L177.14,413.14 L177.12,413.76 L177.09,414.47 L177.07,415.15 L177.05,415.92 L177.02,416.34 L177,416.82 L176.98,417.36 L176.96,417.82 L176.93,418.58 L176.91,419.04 L176.89,419.47 L176.87,420.31 L176.84,421.09 L176.82,421.63 L176.8,422.11 L176.78,422.92 L176.75,423.56 L176.73,423.8 L176.71,424.56 L176.69,425.29 L176.66,425.63 L176.64,426.26 L176.62,426.88 L176.6,427.38 L176.57,427.95 L176.55,428.34 L176.53,428.98 L176.51,429.67 L176.48,430.03 L176.46,430.49 L176.44,431.27 L176.42,431.88 L176.39,432.35 L176.37,433.03 L176.35,433.61 L176.33,433.96 L176.3,434.59 L176.28,435.43 L176.26,436.03 L176.24,436.69 L176.21,437.22 L176.19,437.73 L176.17,438.45 L176.15,438.93 L176.12,439.55 L176.1,440.37" fill="none" stroke="#333" stroke-width="0.9" stroke-linejoin="round"/>
<path d="M180.1,343.08 L180.08,343.88 L180.05,344.49 L180.03,344.81 L180.01,345.44 L179.98,346.18 L179.96,346.71 L179.94,347.3 L179.91,348.02 L179.89,348.67 L179.87,349.07 L179.84,349.68 L179.82,350.45 L179.79,350.94 L179.77,351.43 L179.75,352.09 L179.72,352.7 L179.7,353.4 L179.68,354.19 L179.65,354.98 L179.63,355.62 L179.6,356.16 L179.58,356.78 L179.56,357.44 L179.53,357.91 L179.51,358.47 L179.48,359.17 L179.46,359.71 L179.44,360.26 L179.41,360.85 L179.39,361.5 L179.36,362.05 L179.34,362.76 L179.32,363.52 L179.29,364.11 L179.27,364.78 L179.24,365.47 L179.22,366 L179.2,366.54 L179.17,367.06 L179.15,367.47 L179.12,368.06 L179.1,369.08 L179.08,369.72 L179.05,370.24 L179.03,371.21 L179,371.74 L178.98,372.38 L178.96,373.24 L178.93,373.79 L178.91,374.47 L178.89,375.05 L178.86,375.34 L178.84,375.95 L178.81,376.59 L178.79,377.01 L178.77,377.54 L178.74,378.53 L178.72,379.22 L178.7,379.58 L178.67,380.18 L178.65,380.8 L178.63,381.45 L178.6,381.99 L178.58,382.49 L178.56,382.98 L178.53,383.63 L178.51,384.4 L178.49,385.29 L178.47,385.96 L178.44,386.52 L178.42,387.05 L178.4,387.43 L178.38,387.82 L178.35,388.4 L178.33,388.89 L178.31,389.43 L178.29,390.4 L178.26,391.04 L178.24,391.55 L178.22,392.03 L178.2,392.33 L178.18,392.87 L178.15,393.53 L178.13,394.26 L178.11,395.06 L178.09,395.4 L178.07,395.69 L178.05,396.29 L178.03,396.82 L178,397.24 L177.98,397.81 L177.96,398.51 L177.94,399.06 L177.92,399.41 L177.9,399.87 L177.87,400.54 L177.84,401.37 L177.81,402.16 L177.78,402.75 L177.76,403.51 L177.73,404.17 L177.7,404.79 L177.67,405.35 L177.64,406.32 L177.62,407.2 L177.59,407.71 L177.56,408.56 L177.53,409.18 L177.51,409.66 L177.48,410.31 L177.45,411.01 L177.43,411.7 L177.4,412.23 L177.37,412.77 L177.35,413.38 L177.32,414.14 L177.3,414.5 L177.27,414.97 L177.25,415.75 L177.22,416.32 L177.19,416.75 L177.17,417.45 L177.14,418.16 L177.12,418.64 L177.09,419.26 L177.07,419.69 L177.04,420.27 L177.02,420.83 L176.99,421.35 L176.97,422.08 L176.94,422.75 L176.92,423.36 L176.9,423.91 L176.87,424.7 L176.85,425.32 L176.82,425.53 L176.8,425.98 L176.77,426.61 L176.75,427.21 L176.72,427.78 L176.7,428.28 L176.67,429.08 L176.65,429.74 L176.63,430.09 L176.6,430.63 L176.58,431.21 L176.55,431.95 L176.53,432.59 L176.5,433.13 L176.48,433.33 L176.45,433.82 L176.43,434.84 L176.4,435.59 L176.38,436.06 L176.35,436.26 L176.33,436.9 L176.3,437.61 L176.28,437.95 L176.25,438.55 L176.23,439.45 L176.2,440.25" fill="none" stroke="#333" stroke-width="0.9" stroke-linejoin="round"/>
<path d="M181,343.08 L180.97,343.57 L180.94,344.37 L180.91,344.96 L180.88,345.29 L180.85,345.87 L180.82,346.63 L180.79,347.44 L180.76,348 L180.73,348.58 L180.7,349.09 L180.67,349.72 L180.64,350.14 L180.61,350.85 L180.58,351.77 L180.55,352.24 L180.52,352.77 L180.49,353.46 L180.46,354.25 L180.43,354.89 L180.39,355.36 L180.36,355.88 L180.33,356.35 L180.3,356.96 L180.27,357.76 L180.24,358.42 L180.21,359.05 L180.18,359.79 L180.15,360.46 L180.12,361.03 L180.09,361.69 L180.05,362.31 L180.02,362.87 L179.99,363.53 L179.96,363.98 L179.93,364.69 L179.9,365.36 L179.87,365.95 L179.84,366.72 L179.81,367.37 L179.77,368 L179.74,368.41 L179.71,369.15 L179.68,369.9 L179.65,370.42 L179.62,371.04 L179.59,371.75 L179.56,372.45 L179.53,373 L179.5,373.37 L179.47,373.92 L179.44,374.71 L179.41,375.57 L179.38,376.21 L179.35,376.63 L179.32,377.33 L179.29,377.94 L179.26,378.42 L179.23,379.06 L179.2,379.51 L179.17,380.2 L179.14,381.01 L179.11,381.48 L179.08,381.92 L179.05,382.57 L179.02,383.44 L178.99,383.94 L178.96,384.28 L178.93,384.98 L178.9,385.51 L178.87,385.82 L178.84,386.53 L178.82,387.27 L178.79,387.87 L178.76,388.46 L178.73,389.1 L178.7,389.71 L178.67,390.18 L178.65,390.73 L178.62,391.42 L178.59,392.13 L178.56,392.72 L178.54,393.25 L178.51,393.36 L178.48,393.73 L178.46,394.59 L178.43,395.26 L178.4,395.66 L178.38,396.33 L178.35,397.07 L178.33,397.38 L178.3,397.89 L178.28,398.44 L178.25,398.87 L178.22,399.47 L178.2,400.02 L178.16,400.55 L178.13,401.25 L178.09,402.1 L178.06,402.76 L178.03,403.61 L177.99,404.31 L177.96,405.05 L177.93,405.94 L177.9,406.33 L177.86,406.91 L177.83,407.8 L177.8,408.43 L177.77,408.82 L177.74,409.5 L177.71,410.48 L177.68,410.95 L177.65,411.42 L177.62,412.21 L177.59,412.76 L177.56,413.33 L177.53,413.92 L177.5,414.68 L177.47,415.38 L177.44,415.77 L177.41,416.47 L177.39,417.03 L177.36,417.52 L177.33,418.27 L177.3,418.91 L177.28,419.51 L177.25,420.08 L177.22,420.61 L177.19,421.18 L177.17,421.79 L177.14,422.49 L177.11,422.95 L177.09,423.41 L177.06,424.1 L177.03,424.56 L177.01,425.02 L176.98,425.61 L176.95,426.08 L176.93,426.45 L176.9,427.24 L176.87,427.79 L176.85,428.43 L176.82,429.13 L176.79,429.56 L176.77,430.17 L176.74,430.75 L176.71,431.28 L176.69,431.76 L176.66,432.35 L176.63,433.07 L176.61,433.78 L176.58,434.38 L176.55,434.87 L176.52,435.29 L176.5,435.66 L176.47,436.33 L176.44,437.19 L176.41,437.67 L176.39,438.26 L176.36,439.03 L176.33,439.56 L176.3,440.14" fill="none" stroke="#333" stroke-width="0.9" stroke-linejoin="round"/>
<path d="M181.9,343.04 L181.86,343.47 L181.83,343.99 L181.79,344.73 L181.76,345.44 L181.72,346 L181.68,346.51 L181.65,347.11 L181.61,347.77 L181.57,348.49 L181.54,349.21 L181.5,349.9 L181.46,350.44 L181.42,351 L181.39,351.61 L181.35,352.22 L181.31,352.99 L181.27,353.34 L181.24,353.78 L181.2,354.7 L181.16,355.47 L181.12,355.94 L181.09,356.49 L181.05,357.32 L181.01,357.87 L180.97,358.2 L180.93,358.84 L180.9,359.54 L180.86,360.28 L180.82,360.95 L180.78,361.69 L180.74,362.43 L180.71,362.79 L180.67,363.35 L180.63,363.95 L180.59,364.67 L180.55,365.57 L180.52,366.14 L180.48,366.71 L180.44,367.26 L180.4,367.82 L180.36,368.79 L180.33,369.24 L180.29,369.75 L180.25,370.65 L180.21,370.95 L180.18,371.29 L180.14,372.01 L180.1,372.89 L180.06,373.57 L180.03,374.07 L179.99,374.81 L179.95,375.46 L179.91,376.02 L179.88,376.59 L179.84,377.3 L179.8,377.87 L179.77,378.54 L179.73,379.19 L179.69,379.54 L179.66,380.25 L179.62,380.99 L179.58,381.31 L179.55,381.89 L179.51,382.56 L179.48,383.04 L179.44,383.86 L179.41,384.45 L179.37,385 L179.34,385.64 L179.3,386.39 L179.27,387.01 L179.23,387.26 L179.2,387.74 L179.16,388.34 L179.13,389.05 L179.1,389.72 L179.06,390.38 L179.03,390.96 L179,391.44 L178.96,392.01 L178.93,392.55 L178.9,393.1 L178.87,393.75 L178.83,394.35 L178.8,394.76 L178.77,395.03 L178.74,395.54 L178.71,396.3 L178.68,396.65 L178.65,397.1 L178.62,397.94 L178.59,398.45 L178.56,398.81 L178.53,399.57 L178.5,400.35 L178.46,400.86 L178.42,401.58 L178.38,402.46 L178.34,402.91 L178.3,403.76 L178.26,404.47 L178.22,404.85 L178.18,405.51 L178.15,406.22 L178.11,406.87 L178.07,407.52 L178.04,408.43 L178,409.11 L177.97,409.61 L177.93,410.39 L177.9,410.96 L177.87,411.53 L177.83,412.22 L177.8,412.76 L177.77,413.41 L177.74,414.01 L177.7,414.61 L177.67,415.12 L177.64,415.66 L177.61,416.39 L177.58,417.03 L177.55,417.45 L177.52,417.98 L177.49,418.61 L177.46,419.26 L177.43,419.93 L177.4,420.53 L177.37,421.01 L177.34,421.58 L177.31,422.07 L177.28,422.33 L177.25,423.04 L177.22,423.74 L177.19,424.21 L177.17,424.82 L177.14,425.55 L177.11,426.12 L177.08,426.64 L177.05,427.28 L177.02,427.68 L176.99,428.13 L176.97,428.88 L176.94,429.65 L176.91,430.24 L176.88,430.96 L176.85,431.48 L176.82,431.88 L176.79,432.41 L176.76,432.96 L176.73,433.51 L176.71,433.98 L176.68,434.8 L176.65,435.28 L176.62,435.68 L176.59,436.51 L176.56,437.08 L176.53,437.52 L176.49,438.08 L176.46,438.73 L176.43,439.24 L176.4,439.88" fill="none" stroke="#333" stroke-width="0.9" stroke-linejoin="round"/>
<path d="M176.1,440 L175.2,470 L174.4,500 L173.3,514 L172.9,540 L172.7,563" fill="none" stroke="#222" stroke-width="1"/>
<path d="M175.6,440 L174.6,470 L173.6,500 L173,514" fill="none" stroke="#555" stroke-width="0.9"/>
<path d="M179.2,343.55 L179.24,342.85 L179.27,342.74 L179.31,342.29 L179.34,341.39 L179.38,341.02 L179.41,340.36 L179.45,339.91 L179.48,339.36 L179.52,338.34 L179.55,336.95 L179.59,336.47 L179.62,335.99 L179.66,335.47 L179.69,335.29 L179.72,334.17 L179.76,333.1 L179.79,331.85 L179.83,331.03 L179.86,330.54 L179.9,330.37 L179.93,329.89 L179.97,328.62 L180,328.42 L180.04,328.05 L180.08,326.99 L180.11,327.38 L180.15,327.72 L180.19,326.16 L180.23,325.71 L180.27,324.81 L180.31,324.31 L180.35,323.22 L180.39,321.75 L180.43,321.99 L180.47,321.14 L180.51,321.08 L180.56,320.17 L180.6,319.46 L180.66,318.93 L180.71,318.76 L180.77,318.5 L180.83,317.7 L180.89,317.57 L180.95,316.4 L181,315.17 L181.06,314.54 L181.12,313.74 L181.19,312.43 L181.25,311.74 L181.31,311.26 L181.37,310.67 L181.44,309.73 L181.5,309.11 L181.57,308.38 L181.63,307.47 L181.7,307.83 L181.77,308.02 L181.84,307.61 L181.91,306.41 L181.98,305.77 L182.05,305.72 L182.13,305.38 L182.2,304.45 L182.28,303.38 L182.36,303.19 L182.44,302.72 L182.52,302.14 L182.6,301.56 L182.75,300.2 L182.9,299.82 L183.06,299.32 L183.23,298.12 L183.4,297.86 L183.57,297.22 L183.74,296.54 L183.92,295.3 L184.1,294.8 L184.29,294.83 L184.47,293.39 L184.66,292.24 L184.85,292.26 L185.03,292.03 L185.22,291.37 L185.41,291.5 L185.6,291.34 L186.05,290.58 L186.5,289.51 L186.95,288.73 L187.41,289.21 L187.9,288.79 L188.43,287.41 L189,287.77 L189.55,288.54 L190.15,288.26 L190.78,289.09 L191.44,288.79 L192.1,289.22 L192.75,289.66 L193.39,289.59 L194,289.55 L194.65,289.01 L195.26,289.04 L195.85,289.75 L196.44,290.34 L197.05,291.21 L197.7,291.19 L198.4,291.23 L198.8,292.16 L199.21,292.1 L199.62,292.21 L200.05,292.28 L200.48,293.19 L200.92,294.29 L201.37,294.97 L201.83,294.8 L202.3,296.59 L202.78,297.23 L203.28,296.81 L203.78,297.15 L204.3,296.61 L204.79,297.31 L205.3,297.88 L205.83,298.66 L206.36,299.83 L206.9,299.99 L207.46,300.07 L208.02,300.69 L208.58,300.21 L209.15,299.93 L209.73,300.59 L210.3,300.52 L210.87,300.61 L211.44,300.66 L212,301.2 L212.55,301.69 L213.08,302.32 L213.6,302.87 L214.12,302.79 L214.63,301.91 L215.15,301.62 L215.67,301.72 L216.21,301.76 L216.76,302.83 L217.34,304.06 L217.95,304.07 L218.59,303.1 L219.27,303.28 L220,302.73 L220.48,302.1 L220.98,303.51 L221.49,304.16 L222.01,303.01 L222.54,302.52 L223.08,303.56 L223.63,303.89 L224.19,303.41 L224.76,303.66 L225.35,303.48 L225.94,302.34 L226.54,302.88 L227.15,303.53 L227.77,303.41 L228.4,303.26 L229.03,303.69 L229.67,304.28 L230.33,304.52 L230.98,304.85 L231.65,305.67 L232.32,306.15 L233,305.97 L233.54,305.36 L234.09,305.53 L234.66,306.9 L235.23,308.07 L235.81,307.71 L236.4,306.23 L237,306.68 L237.6,307.15 L238.21,306.93 L238.83,306.86 L239.45,306.46 L240.07,305.85 L240.7,306.61 L241.33,307.2 L241.96,307.14 L242.59,306.47 L243.22,306.53 L243.85,306.97 L244.48,306.99 L245.11,306.26 L245.74,306.1 L246.36,306.82 L246.98,306.13 L247.6,305.8 L248.21,305.92 L248.81,306.82 L249.41,306.75 L250,306.5 L250.63,305.68 L251.24,305.45 L251.85,305.42 L252.46,305.38 L253.06,305.66 L253.65,306.35 L254.24,307.02 L254.83,306.79 L255.41,306.63 L255.99,306.51 L256.57,307.69 L257.15,307.49 L257.74,307.02 L258.32,306.85 L258.91,307.14 L259.5,306.71 L260.1,307.93 L260.7,308.49 L261.3,308.82 L261.92,308.95 L262.54,308.71 L263.17,308.35 L263.81,308.09 L264.46,308.36 L265.13,308.4 L265.8,308.94 L266.36,308.8 L266.92,308.6 L267.49,308.46 L268.07,309.09 L268.65,308.99 L269.24,308.61 L269.83,308.05 L270.43,308.36 L271.04,308.23 L271.64,307.67 L272.26,307.37 L272.87,307.62 L273.49,307.88 L274.11,307.4 L274.74,306.84 L275.36,307.2 L275.99,307.92 L276.62,307.7 L277.25,307.61 L277.88,307.91 L278.52,307.58 L279.15,307.37 L279.78,307.9 L280.41,308.19 L281.04,307.39 L281.67,308.04 L282.3,308.53 L282.92,308.39 L283.55,308.85 L284.17,309.02 L284.79,308.85 L285.4,308.78" fill="none" stroke="#1a1a1a" stroke-width="1.1" stroke-linejoin="round"/>
<path d="M180.1,342.51 L180.13,342.46 L180.17,341.68 L180.2,340.17 L180.23,340.25 L180.26,339.81 L180.29,338.79 L180.32,337.97 L180.35,336.93 L180.38,336.53 L180.41,336.31 L180.44,336.16 L180.47,334.84 L180.5,334.19 L180.53,333.49 L180.55,332.4 L180.58,332.01 L180.61,331.07 L180.64,329.73 L180.67,329.19 L180.7,328.81 L180.74,328.19 L180.77,327.4 L180.8,327.77 L180.83,327.88 L180.87,326.73 L180.9,326.52 L180.94,326.4 L180.97,325.25 L181.01,325.25 L181.05,324.86 L181.09,323.78 L181.13,323.61 L181.17,323.71 L181.21,323.38 L181.25,322.07 L181.3,321.45 L181.36,321.69 L181.41,320.39 L181.47,319.27 L181.53,318.76 L181.59,318.44 L181.65,317.85 L181.71,316.56 L181.77,316.27 L181.83,314.84 L181.9,314.79 L181.96,315.36 L182.03,314.12 L182.09,313.09 L182.16,312.88 L182.23,311.41 L182.3,310.45 L182.37,310.36 L182.44,309.44 L182.52,308.4 L182.59,307.63 L182.67,307.39 L182.74,306.55 L182.82,305.84 L182.9,305.35 L182.98,304.52 L183.06,304.13 L183.15,303.65 L183.23,303.37 L183.31,304.1 L183.4,303.88 L183.56,302.11 L183.72,301.65 L183.89,301.41 L184.06,300.57 L184.24,299.26 L184.42,298.9 L184.61,298.99 L184.8,298.23 L184.99,296.79 L185.18,295.71 L185.37,295 L185.57,294.95 L185.76,295.25 L185.95,294.13 L186.13,292.91 L186.32,292.56 L186.5,291.77 L186.88,290.97 L187.19,290.65 L187.48,288.84 L187.81,287.76 L188.22,288.39 L188.76,288.98 L189.5,288.62 L189.92,288.62 L190.37,288.74 L190.86,289.17 L191.38,289.7 L191.93,289.36 L192.51,289.52 L193.1,290.75 L193.72,290.71 L194.36,291.21 L195.01,292.36 L195.68,291.8 L196.35,291.98 L197.03,292.39 L197.72,292.7 L198.4,292.96 L198.87,292.42 L199.36,291.79 L199.86,292.67 L200.37,293.46 L200.89,293.36 L201.41,293.54 L201.95,294.09 L202.49,294.03 L203.03,294.51 L203.58,294.88 L204.13,294.95 L204.68,296.02 L205.24,296.15 L205.79,296.47 L206.33,296.84 L206.88,296.9 L207.42,296.99 L207.95,297.08 L208.48,297.11 L209,298.23 L209.5,299.18 L210,299 L210.55,297.94 L211.07,299.4 L211.57,300.67 L212.04,299.98 L212.5,299.35 L212.95,299.03 L213.39,300.08 L213.83,300.39 L214.27,301.36 L214.73,301.78 L215.19,301.96 L215.68,301.66 L216.19,301.52 L216.72,301.79 L217.29,303.07 L217.9,303.36 L218.55,303.59 L219.25,304.34 L220,305.09 L220.44,305.68 L220.9,305.74 L221.38,305.38 L221.87,305.48 L222.37,306.56 L222.88,306.57 L223.41,306.4 L223.95,306.24 L224.5,306.56 L225.06,306.74 L225.63,306.74 L226.2,306.55 L226.79,307.06 L227.38,307.74 L227.98,308.02 L228.58,308.36 L229.19,307.75 L229.81,307.47 L230.42,308.11 L231.04,307.8 L231.67,307.7 L232.29,307.87 L232.91,307.95 L233.53,308.6 L234.16,308.7 L234.78,309.68 L235.4,310.43 L236.01,309.82 L236.62,310.26 L237.23,309.73 L237.83,310.61 L238.43,310.84 L239.02,310.42 L239.6,310.88 L240.19,310.69 L240.78,311.16 L241.36,311.32 L241.94,311.29 L242.52,311.83 L243.09,312.08 L243.66,311.79 L244.23,311.74 L244.79,311.31 L245.36,312.45 L245.92,313.4 L246.49,313.13 L247.05,313.03 L247.62,312.38 L248.19,312.16 L248.76,312.57 L249.33,312.89 L249.91,312.96 L250.49,312.7 L251.07,313.34 L251.66,313.88 L252.26,313.19 L252.86,313.18 L253.46,314.32 L254.08,313.92 L254.7,313.49 L255.33,313.24 L255.97,313.72 L256.61,313.79 L257.27,313.17 L257.93,313.37 L258.61,314.39 L259.3,313.96 L259.84,313.21 L260.38,313.69 L260.93,314.05 L261.48,314.77 L262.04,314.33 L262.61,313.26 L263.18,314.04 L263.76,314.94 L264.34,315.13 L264.93,315.91 L265.52,315.43 L266.12,315.13 L266.72,315.61 L267.32,316.28 L267.93,316.47 L268.54,315.92 L269.16,315.68 L269.77,316.05 L270.39,316.92 L271.01,317.98 L271.64,317.58 L272.26,317.15 L272.89,316.9 L273.52,316.03 L274.15,316.17 L274.78,315.93 L275.41,315.93 L276.04,316.22 L276.67,316.07 L277.31,316.42 L277.94,316.67 L278.57,317.02 L279.2,316.61 L279.83,317.09 L280.45,316.92 L281.08,316.79 L281.7,317.05 L282.33,317.16 L282.95,317.63 L283.56,317.64 L284.18,317.89 L284.79,318.6 L285.4,319.01" fill="none" stroke="#1a1a1a" stroke-width="1.1" stroke-linejoin="round"/>
<path d="M181,342.39 L181.04,341.78 L181.08,341.83 L181.12,341.13 L181.16,340.51 L181.2,339.34 L181.24,338.56 L181.28,338.14 L181.31,338.26 L181.35,337.96 L181.38,337.18 L181.42,336.62 L181.46,336.01 L181.49,335.58 L181.53,334.6 L181.56,334.03 L181.6,333.12 L181.64,331.6 L181.68,331.35 L181.71,332.68 L181.75,331.55 L181.79,330.25 L181.83,329.82 L181.87,329.5 L181.92,329 L181.96,328.34 L182.01,327.61 L182.06,326.79 L182.1,326.3 L182.15,325.61 L182.21,325.08 L182.26,324.8 L182.32,324.09 L182.38,322.72 L182.44,322.05 L182.5,321.41 L182.6,320.56 L182.71,319.3 L182.83,317.85 L182.95,318.32 L183.07,317.93 L183.2,316.89 L183.33,315.92 L183.46,315.27 L183.6,315.41 L183.73,314.34 L183.88,313.98 L184.02,313.95 L184.16,313.47 L184.31,312.93 L184.46,311.77 L184.61,310.88 L184.75,311.41 L184.9,311.22 L185.05,310.07 L185.2,309.64 L185.35,309.47 L185.5,309.15 L185.77,307.99 L186.05,306.92 L186.33,306.55 L186.61,305.81 L186.9,305.43 L187.19,305.59 L187.48,304.91 L187.78,303.82 L188.08,303.36 L188.38,302.57 L188.69,302.53 L189,302.14 L189.54,300.74 L190.09,301.28 L190.66,301.37 L191.23,300.83 L191.81,301.11 L192.4,300.88 L193,300.48 L193.6,300.38 L194.19,299.46 L194.79,299.82 L195.41,299.69 L196.04,299.3 L196.7,300.38 L197.4,300.37 L197.91,300.44 L198.43,300.55 L198.97,300.6 L199.52,301.31 L200.09,301.08 L200.66,301.03 L201.24,301.3 L201.82,301.91 L202.41,302.32 L203,301.89 L203.54,302.8 L204.08,303.05 L204.63,302.93 L205.19,302.91 L205.74,303.51 L206.31,304.14 L206.88,304.19 L207.45,304.56 L208.03,305.5 L208.61,305.76 L209.2,304.99 L209.64,305.73 L210.1,306.71 L210.57,307.67 L211.04,307.69 L211.53,308.51 L212.01,309.28 L212.5,309.58 L212.98,309.83 L213.45,310.44 L213.92,311.52 L214.37,312.18 L214.81,312.63 L215.23,312.23 L215.63,312.6 L216,312.37 L216.65,312.7 L216.96,312.8 L217.2,312.76 L217.61,312.77 L218.46,312.88 L220,312.35 L220.38,312.18 L220.8,312.29 L221.24,312.24 L221.7,312.38 L222.19,312.27 L222.71,311.6 L223.24,311.77 L223.8,313.1 L224.38,313.39 L224.97,312.69 L225.58,312.89 L226.2,312.92 L226.84,312.14 L227.49,312.5 L228.15,313.13 L228.82,313.24 L229.5,312.99 L230.18,313.05 L230.87,313.04 L231.56,312.83 L232.25,312.79 L232.94,312.93 L233.64,312.75 L234.33,312.69 L235.01,312.58 L235.7,313.01 L236.37,312.42 L237.04,312.69 L237.7,312.39 L238.34,312.54 L238.98,313.71 L239.6,313.13 L240.19,312.75 L240.78,312.17 L241.36,312.23 L241.94,312.82 L242.52,312.43 L243.09,312.89 L243.66,313.57 L244.23,313.54 L244.79,312.93 L245.36,312.21 L245.92,312.9 L246.49,313.61 L247.05,313.66 L247.62,314.32 L248.19,314.9 L248.76,314.46 L249.33,314.77 L249.91,315.24 L250.49,314.98 L251.07,314.49 L251.66,315.28 L252.26,315.25 L252.86,314.95 L253.46,315.29 L254.08,315.56 L254.7,315.52 L255.33,315.98 L255.97,316.19 L256.61,316.24 L257.27,316.76 L257.93,315.96 L258.61,315.91 L259.3,316.34 L259.82,316.51 L260.35,316.46 L260.89,315.99 L261.43,316.14 L261.98,315.67 L262.53,315.37 L263.09,316.03 L263.66,316.01 L264.22,316.36 L264.8,316.13 L265.38,316.57 L265.96,316.19 L266.54,316.26 L267.13,316.72 L267.72,316.83 L268.32,316.84 L268.92,317.74 L269.52,318.21 L270.12,317.76 L270.73,317.84 L271.34,318.06 L271.95,317.99 L272.56,317.72 L273.18,317.74 L273.79,317.48 L274.41,317.95 L275.02,317.96 L275.64,318.47 L276.26,317.58 L276.87,317.65 L277.49,317.66 L278.11,316.72 L278.73,317.32 L279.34,317.18 L279.95,317.34 L280.57,317.94 L281.18,317.45 L281.79,317.48 L282.4,318.16 L283,318.05 L283.61,318.19 L284.21,318.44 L284.81,319.01 L285.4,318.97" fill="none" stroke="#1a1a1a" stroke-width="1.1" stroke-linejoin="round"/>
<path d="M181.9,343.74 L182,343.03 L182.09,341.89 L182.17,340.82 L182.26,340.63 L182.34,340.48 L182.42,339.24 L182.5,337.88 L182.58,337.23 L182.67,336.8 L182.76,336.54 L182.86,336.25 L182.97,334.98 L183.08,333.89 L183.21,333.04 L183.35,332.94 L183.5,331.85 L183.74,331.42 L184.01,331.08 L184.3,330.37 L184.61,329.67 L184.93,329.95 L185.27,330.49 L185.61,329.62 L185.96,328.55 L186.31,329.04 L186.66,328.86 L187,327.8 L187.49,327.35 L188,326.96 L188.53,326.93 L189.06,326.49 L189.59,326.35 L190.09,325.41 L190.57,324.9 L191,324.57 L191.54,324.75 L191.83,324.64 L192.33,324.5 L193.5,324.68 L193.89,325.01 L194.31,324.11 L194.76,323.69 L195.25,324.03 L195.76,324.14 L196.3,323.53 L196.87,322.92 L197.46,323.44 L198.07,323.78 L198.71,323.33 L199.36,323.21 L200.03,323.61 L200.71,322.94 L201.41,322.69 L202.12,323.25 L202.84,322.88 L203.57,323.28 L204.3,323.45 L204.8,323.1 L205.31,323.4 L205.84,324.45 L206.39,324.99 L206.94,324.64 L207.51,325.37 L208.09,325.61 L208.68,325.87 L209.27,326.63 L209.87,326.92 L210.48,325.65 L211.09,325.68 L211.7,326.42 L212.32,326.93 L212.94,327.15 L213.56,327.03 L214.17,327.03 L214.79,327.23 L215.39,327.41 L216,326.78 L216.6,327.2 L217.19,328.47 L217.77,328.45 L218.35,328.56 L218.91,328.06 L219.46,328.15 L220,328.64 L220.66,328.84 L221.29,328.94 L221.88,328.35 L222.44,327.98 L222.98,328.35 L223.5,329.06 L224.01,328.33 L224.52,327.31 L225.03,327.07 L225.54,326.7 L226.06,327.54 L226.59,327.97 L227.15,327.25 L227.73,327.54 L228.34,328.27 L229,328.43 L229.69,327.54 L230.43,326.86 L231.23,326.98 L232.08,326.47 L233,326.86 L233.45,328.43 L233.92,328.84 L234.4,328.43 L234.89,327.6 L235.39,328.15 L235.91,328.96 L236.44,327.93 L236.98,327.5 L237.53,328.71 L238.09,329.05 L238.66,328.88 L239.24,328.88 L239.82,328.56 L240.42,328.13 L241.02,327.7 L241.63,328.16 L242.25,328.65 L242.87,327.93 L243.5,327.67 L244.13,327.4 L244.76,326.95 L245.4,327.28 L246.05,328.29 L246.69,328.89 L247.34,328.1 L247.99,328.17 L248.64,328.83 L249.3,328.89 L249.95,328.02 L250.6,328.84 L251.25,329.65 L251.9,329.77 L252.55,329.18 L253.2,328.76 L253.84,329.28 L254.48,330.34 L255.11,330.22 L255.75,329.55 L256.37,329.55 L256.99,329.49 L257.61,329.53 L258.22,328.94 L258.82,329.28 L259.41,329.1 L260,329.22 L260.62,329.44 L261.24,329.14 L261.86,329.28 L262.48,329.36 L263.1,328.96 L263.71,329.52 L264.33,329.78 L264.94,328.7 L265.55,328.65 L266.16,329.94 L266.77,330.61 L267.37,329.3 L267.98,328.59 L268.59,329.46 L269.19,329.47 L269.79,329.5 L270.4,329.23 L271,329.13 L271.6,329.22 L272.2,328.32 L272.8,327.93 L273.4,328.31 L274,328.53 L274.6,328.75 L275.2,328.46 L275.8,328.54 L276.39,328.14 L276.99,326.82 L277.59,327.13 L278.19,328.51 L278.79,328.8 L279.39,328.48 L279.99,328.9 L280.59,330.08 L281.19,329.79 L281.79,328.99 L282.39,328.91 L282.99,329.88 L283.59,330.21 L284.19,329.81 L284.8,330.18 L285.4,330.37" fill="none" stroke="#1a1a1a" stroke-width="1.1" stroke-linejoin="round"/>
<path d="M182.5,343.69 L183.05,343.52 L183.57,342.26 L184.09,341.47 L184.65,341.02 L185.27,341.64 L186,341.48 L186.49,341.01 L187.01,340.69 L187.55,340.58 L188.12,340.54 L188.72,340.16 L189.34,339.98 L189.97,339.93 L190.63,340.8 L191.31,341.11 L192,340.32 L192.52,340.72 L193,340.6 L193.46,339.74 L193.92,339.08 L194.39,338.97 L194.87,339.15 L195.39,339.12 L195.96,339.34 L196.59,338.85 L197.29,338.35 L198.09,338.11 L198.99,337.69 L200,337.99 L200.43,338.57 L200.88,337.74 L201.34,337.33 L201.82,337.53 L202.32,337.82 L202.82,337.54 L203.34,337.96 L203.88,337.72 L204.42,337.6 L204.98,337.75 L205.55,339.09 L206.13,339.35 L206.72,338.6 L207.32,339.09 L207.93,339.86 L208.55,340.18 L209.18,339.5 L209.81,338.98 L210.46,340.55 L211.11,341.27 L211.77,340.19 L212.43,340.64 L213.1,341.14 L213.77,340.72 L214.45,340.35 L215.14,340.66 L215.82,340.88 L216.51,340.88 L217.21,340.11 L217.9,340.21 L218.6,339.65 L219.3,340.41 L220,340.83 L220.53,339.84 L221.06,340.83 L221.61,340.74 L222.16,340.31 L222.71,340.19 L223.28,340.31 L223.84,340.82 L224.42,340.63 L225,341.09 L225.58,341.25 L226.17,340.38 L226.76,340.54 L227.36,341.17 L227.96,340.67 L228.56,341.09 L229.17,341.53 L229.78,341.89 L230.39,341.29 L231.01,341.11 L231.63,340.47 L232.24,339.69 L232.86,340.02 L233.48,340.08 L234.1,339.77 L234.73,338.98 L235.35,338.52 L235.97,338.1 L236.59,338.23 L237.21,338.51 L237.83,338.52 L238.44,338.4 L239.06,338.92 L239.67,337.76 L240.28,337.45 L240.89,338.35 L241.5,338.06 L242.1,338.48 L242.7,338.73 L243.29,338.88 L243.89,338.43 L244.47,338.6 L245.05,338.67 L245.63,338.23 L246.2,338.39 L246.84,338.94 L247.49,338.75 L248.13,339.27 L248.78,339.19 L249.43,338.48 L250.08,338.03 L250.73,338.02 L251.38,337.68 L252.03,337.65 L252.68,338.96 L253.33,339.09 L253.98,338.26 L254.62,338.29 L255.27,338.79 L255.91,338.78 L256.55,339.44 L257.19,338.89 L257.83,338.21 L258.46,338.28 L259.09,337.86 L259.72,338.16 L260.34,338 L260.95,338.31 L261.57,337.26 L262.18,336.91 L262.78,338.15 L263.37,337.76 L263.97,337.58 L264.55,337.54 L265.13,337.64 L265.7,337.89 L266.27,338.47 L266.83,338.43 L267.38,338.19 L267.92,337.93 L268.45,338.31 L268.98,338.81 L269.49,338.27 L270,338.07 L270.77,337.63 L271.52,337.96 L272.24,338.11 L272.94,338.17 L273.62,338.1 L274.28,338.12 L274.92,337.54 L275.55,337.49 L276.16,338.3 L276.76,338.49 L277.36,338.35 L277.94,337.94 L278.51,338.08 L279.08,337.93 L279.64,337.55 L280.2,337.65 L280.76,337.58 L281.33,337.19 L281.89,337.96 L282.45,338.43 L283.03,338.31 L283.61,338.44 L284.19,337.3 L284.79,336.62 L285.4,337.2" fill="none" stroke="#1a1a1a" stroke-width="1.1" stroke-linejoin="round"/>
<path d="M172.8,372.52 L173.25,372.27 L173.69,371.18 L174.14,370.47 L174.58,369.96 L175.02,369.33 L175.46,368.65 L175.91,368.02 L176.35,368.11 L176.79,368.24 L177.24,367.55 L177.69,367.59 L178.14,367.6 L178.6,367.77 L179.06,367.62 L179.53,366.38 L180,366 L180.45,366.4 L180.9,367.06 L181.36,366.57 L181.83,366.06 L182.29,365.35 L182.76,363.99 L183.24,363.35 L183.71,363.05 L184.19,362.38 L184.67,361.95 L185.14,361.27 L185.62,361.26 L186.1,360.06 L186.58,359.57 L187.05,359.95 L187.53,358.82 L188,358.4 L188.47,358.39 L188.94,357.63 L189.41,357.11 L189.88,357.12 L190.35,356.53 L190.82,356.02 L191.29,355.07 L191.76,354.94 L192.24,354.71 L192.71,353.7 L193.18,352.54 L193.65,351.84 L194.12,351.4 L194.59,350.95 L195.06,351.29 L195.53,351.57 L196,350.86 L196.54,350.1 L197.03,350.18 L197.48,350.25 L197.91,350.39 L198.32,349.69 L198.75,349.04 L199.19,348.99 L199.66,348.97 L200.18,348.36 L200.77,348.05 L201.43,347.26 L202.17,346.47 L203.03,346.24 L204,347.54 L204.42,346.87 L204.86,346.31 L205.32,346.71 L205.79,346.83 L206.28,346.69 L206.79,346.49 L207.3,346.88 L207.84,346.32 L208.38,346.72 L208.94,347.16 L209.5,346.8 L210.08,346.85 L210.67,348.06 L211.27,347.95 L211.88,348.41 L212.5,348.09 L213.12,347.32 L213.75,346.81 L214.39,346.66 L215.04,347.41 L215.69,348.19 L216.34,347.03 L217,346.78 L217.66,347.03 L218.33,347.31 L219,347.09 L219.67,345.88 L220.34,346.5 L221.01,347.24 L221.68,345.8 L222.35,345.11 L223.01,345.36 L223.68,345.9 L224.34,346.36 L225,345.63 L225.56,345.2 L226.12,344.61 L226.68,345.15 L227.24,344.94 L227.79,345.03 L228.35,345.71 L228.91,345.97 L229.47,345.13 L230.02,345.46 L230.58,345.28 L231.15,345.98 L231.71,346.62 L232.27,346.11 L232.84,346.31 L233.41,347.41 L233.98,346.47 L234.56,346.27 L235.14,347.38 L235.72,346.32 L236.31,345.46 L236.9,345.16 L237.49,345.13 L238.09,344.96 L238.69,344.18 L239.3,344.25 L239.92,344.84 L240.54,345.13 L241.17,345.14 L241.8,344.75 L242.44,344.99 L243.09,345.2 L243.74,344.65 L244.4,344.29 L245.07,345.96 L245.75,347.34 L246.44,346.85 L247.13,346.07 L247.83,346.31 L248.55,346.06 L249.27,346.17 L250,345.74 L250.51,345.12 L251.04,345.83 L251.56,345.4 L252.09,344.36 L252.63,344.11 L253.17,343.47 L253.72,343.69 L254.27,343.46 L254.83,343.41 L255.39,343.52 L255.96,342.82 L256.53,342.66 L257.1,342.49 L257.68,342.58 L258.26,342.74 L258.85,342.88 L259.44,342.7 L260.03,343.47 L260.63,343.54 L261.23,344.32 L261.83,344.52 L262.44,343.4 L263.05,343.46 L263.66,343.07 L264.27,343.6 L264.88,344.67 L265.5,344.43 L266.12,344.69 L266.74,345.51 L267.36,346.23 L267.98,346.12 L268.61,345.26 L269.24,345.56 L269.86,344.77 L270.49,344.16 L271.12,344.98 L271.75,345.05 L272.38,344.6 L273.01,344.7 L273.63,344.29 L274.26,344 L274.89,344.08 L275.52,343.72 L276.15,343.94 L276.78,345.15 L277.4,345.68 L278.03,345.47 L278.65,345.13 L279.28,345.25 L279.9,345.34 L280.52,345.15 L281.14,344.69 L281.75,344.3 L282.37,344.58 L282.98,345.62 L283.59,345 L284.19,343.27 L284.8,343.66 L285.4,344.3" fill="none" stroke="#1a1a1a" stroke-width="1.1" stroke-linejoin="round"/>
<path d="M173.3,398.13 L173.58,397.23 L173.86,396.96 L174.14,396.58 L174.42,396.08 L174.71,395.1 L174.99,394.09 L175.28,394.17 L175.56,393.61 L175.84,391.39 L176.13,391.3 L176.41,391.48 L176.69,390.28 L176.98,389.05 L177.26,389.4 L177.54,389.22 L177.82,388.62 L178.1,388.31 L178.37,386.87 L178.65,386.61 L178.92,387.3 L179.2,386.81 L179.47,386.24 L179.73,386.23 L180,384.93 L180.33,384.63 L180.66,384.65 L180.98,383.78 L181.3,382.81 L181.61,381.06 L181.92,380.27 L182.23,380.13 L182.53,380.33 L182.84,380.1 L183.15,379.8 L183.45,379.04 L183.76,377.69 L184.07,377.27 L184.38,377.43 L184.7,376.88 L185.02,375.93 L185.34,375.66 L185.67,374.65 L186,374.61 L186.37,373.71 L186.73,372.55 L187.08,372.79 L187.43,372.73 L187.78,372.17 L188.12,371.78 L188.47,371.48 L188.83,371.06 L189.2,370.76 L189.58,370.08 L189.97,369.62 L190.38,369.55 L190.81,368.58 L191.27,367.9 L191.75,367.08 L192.26,366.55 L192.8,366.67 L193.2,366.22 L193.6,364.89 L194.01,364.85 L194.43,363.93 L194.86,362.87 L195.29,362.76 L195.73,362.73 L196.18,362.29 L196.64,361.92 L197.11,362.54 L197.58,362.59 L198.08,362.26 L198.58,362.19 L199.09,361.53 L199.62,361.58 L200.16,362.59 L200.71,361.54 L201.28,361.35 L201.86,361.38 L202.45,360.72 L203.06,360.17 L203.69,359.97 L204.34,359.86 L205,359.84 L205.46,360.01 L205.94,359.52 L206.42,358.61 L206.91,357.62 L207.4,358.19 L207.91,357.26 L208.42,356.76 L208.94,356.78 L209.47,356.12 L210,355.97 L210.54,355.41 L211.09,354.85 L211.64,354.08 L212.2,354.45 L212.76,354.12 L213.33,354.41 L213.91,355.16 L214.49,354.08 L215.08,352.6 L215.67,353.52 L216.27,353.96 L216.87,353.95 L217.47,353.94 L218.08,353.54 L218.69,353.42 L219.31,353.77 L219.93,353.1 L220.56,352.36 L221.18,351.7 L221.81,351.23 L222.45,351.05 L223.08,351.21 L223.72,352.22 L224.36,351.72 L225,350.66 L225.54,350.44 L226.07,350.77 L226.61,350.8 L227.14,350.77 L227.68,350.77 L228.22,349.64 L228.76,350.08 L229.3,350.9 L229.84,350.07 L230.38,350.79 L230.93,350.54 L231.48,349.92 L232.03,349.68 L232.58,350.07 L233.13,350.66 L233.69,351.08 L234.25,350.96 L234.82,350.41 L235.39,350.95 L235.96,350.98 L236.54,350.5 L237.12,350.05 L237.7,349.59 L238.3,349.2 L238.89,349.45 L239.49,349.2 L240.1,348.51 L240.71,348.34 L241.33,348.36 L241.95,348.27 L242.58,348.11 L243.22,347.77 L243.86,347.64 L244.52,347.73 L245.17,348.17 L245.84,348.52 L246.51,347.79 L247.19,347.5 L247.88,347.65 L248.58,347.3 L249.29,346.97 L250,346.85 L250.51,346.82 L251.04,347.06 L251.56,347.31 L252.09,346.86 L252.63,345.97 L253.17,345.52 L253.72,346.54 L254.27,347.42 L254.83,347.69 L255.39,347.54 L255.96,347.54 L256.53,347.98 L257.1,347.23 L257.68,346.39 L258.26,346.16 L258.85,346.36 L259.44,346.53 L260.03,347.45 L260.63,347.28 L261.23,346.34 L261.83,346.21 L262.44,346.1 L263.05,345.43 L263.66,344.96 L264.27,345.04 L264.88,344.73 L265.5,345.25 L266.12,345.53 L266.74,345.07 L267.36,345.2 L267.98,345.39 L268.61,345.31 L269.24,345.1 L269.86,345.15 L270.49,345.97 L271.12,345.69 L271.75,344.5 L272.38,345.22 L273.01,345.6 L273.63,345.55 L274.26,346.22 L274.89,346.2 L275.52,346.5 L276.15,346.77 L276.78,346.42 L277.4,345.8 L278.03,345.61 L278.65,345.82 L279.28,345.85 L279.9,345.63 L280.52,345.72 L281.14,346.19 L281.75,346 L282.37,345.68 L282.98,346.38 L283.59,346.37 L284.19,345.77 L284.8,345.57 L285.4,345.65" fill="none" stroke="#1a1a1a" stroke-width="1.1" stroke-linejoin="round"/>
<path d="M173.9,422.1 L174.06,421.58 L174.22,421.77 L174.38,421.27 L174.54,419.38 L174.69,418.54 L174.85,418.02 L175.01,417.57 L175.16,416.81 L175.32,416.79 L175.48,416.09 L175.63,415.37 L175.79,415.11 L175.94,414.08 L176.1,413.94 L176.26,414.3 L176.41,413.41 L176.57,411.89 L176.72,412.31 L176.88,412.24 L177.04,411.1 L177.2,410.82 L177.35,410.67 L177.51,409.46 L177.67,408.75 L177.83,407.9 L177.99,408.13 L178.15,407.82 L178.32,407.14 L178.48,406.6 L178.64,406.27 L178.81,405.67 L178.98,404.58 L179.14,404.48 L179.31,403.65 L179.48,403.07 L179.65,402.79 L179.83,402.2 L180,401.42 L180.16,400.79 L180.32,400.18 L180.48,399.58 L180.64,398.73 L180.8,397.98 L180.97,397.27 L181.13,396.64 L181.29,396.1 L181.46,395.68 L181.63,394.29 L181.79,393.4 L181.96,393.01 L182.13,392.51 L182.3,392.49 L182.47,392.01 L182.64,391.37 L182.81,390.14 L182.98,389 L183.15,388.44 L183.32,387.49 L183.49,386.9 L183.67,386.42 L183.84,385.19 L184.01,384.49 L184.19,383.88 L184.36,383.62 L184.54,382.43 L184.71,380.61 L184.89,381.08 L185.07,381.07 L185.24,379.75 L185.42,379.88 L185.6,380.01 L185.77,378.12 L185.95,377.52 L186.13,379 L186.31,378.92 L186.49,378.83 L186.66,377.92 L186.84,376.59 L187.02,376.17 L187.2,376.13 L187.57,375.85 L187.92,375.22 L188.27,374.3 L188.61,372.93 L188.94,371.84 L189.27,371.31 L189.6,371.22 L189.93,370.34 L190.27,369.55 L190.61,369.22 L190.97,369.37 L191.33,369.35 L191.71,368.22 L192.11,369.19 L192.53,369.29 L192.97,367.79 L193.43,367.02 L193.93,367.46 L194.45,367.28 L195,366.4 L195.4,366.14 L195.81,365.84 L196.23,366.19 L196.66,366.96 L197.1,366.11 L197.55,365.84 L198.01,366.07 L198.48,364.86 L198.96,364.55 L199.44,364.32 L199.94,362.93 L200.44,362.72 L200.96,363.59 L201.48,362.7 L202,362.02 L202.54,361.21 L203.08,361.25 L203.62,361.62 L204.18,361.32 L204.74,361.08 L205.3,360.37 L205.87,359.82 L206.45,360.31 L207.03,359.09 L207.62,358.07 L208.21,358.24 L208.8,358.4 L209.4,358.75 L210,358.04 L210.49,357.89 L210.96,357.44 L211.42,357.17 L211.86,356.93 L212.29,356.9 L212.7,356.27 L213.11,355.82 L213.52,355.01 L213.92,355.08 L214.32,354.67 L214.72,354.68 L215.12,354.9 L215.53,353.76 L215.94,353.27 L216.36,352.67 L216.8,353.1 L217.25,352.99 L217.71,352.61 L218.19,351.96 L218.69,352.15 L219.21,352.86 L219.76,353.3 L220.33,353.28 L220.93,352.95 L221.56,351.68 L222.22,351.12 L222.92,351.35 L223.65,350.95 L224.43,351.49 L225.24,351.8 L226.1,350.96 L227,350.15 L227.95,349.92 L228.95,349.3 L230,349.4 L230.41,349.72 L230.84,350.6 L231.27,350.49 L231.7,349.73 L232.15,350.01 L232.6,349.84 L233.07,349.53 L233.53,349.31 L234.01,349.63 L234.49,348.86 L234.98,348.98 L235.48,349.69 L235.98,349.93 L236.49,349.5 L237.01,349.51 L237.53,347.75 L238.06,347.17 L238.6,347.87 L239.14,347.64 L239.69,348.52 L240.24,348.69 L240.8,347.92 L241.36,347.93 L241.93,348.55 L242.5,348.84 L243.08,348.64 L243.67,347.89 L244.25,348.64 L244.85,348.17 L245.44,347.81 L246.05,347.83 L246.65,347.73 L247.26,348.36 L247.87,348.78 L248.49,348.13 L249.11,347.54 L249.74,347.53 L250.36,347.22 L250.99,347.84 L251.63,348.53 L252.27,348.1 L252.9,347.3 L253.55,348.69 L254.19,348.4 L254.84,347.83 L255.49,347.87 L256.14,348.08 L256.79,348.59 L257.45,348.43 L258.1,348.54 L258.76,348.3 L259.42,348 L260.08,348.39 L260.74,348.96 L261.41,347.87 L262.07,346.95 L262.74,346.75 L263.4,347.1 L264.07,347.1 L264.73,347.18 L265.4,347.13 L266.07,347.57 L266.73,347.06 L267.4,347.06 L268.06,347.23 L268.73,347.06 L269.39,347.12 L270.06,347.14 L270.72,347 L271.38,346.67 L272.04,347.11 L272.7,347.07 L273.36,346.8 L274.02,346.67 L274.67,346.46 L275.32,346.47 L275.97,346.86 L276.62,346.74 L277.27,347.4 L277.91,346.71 L278.55,346.36 L279.19,347.19 L279.83,347.33 L280.46,347.55 L281.09,346.55 L281.72,346.22 L282.34,346.76 L282.96,346.47 L283.58,346.46 L284.19,346.41 L284.8,346.12 L285.4,346.07" fill="none" stroke="#1a1a1a" stroke-width="1.1" stroke-linejoin="round"/>
<text x="99.98" y="366.3" font-size="16.2" font-style="italic" transform="rotate(0.22 99.98 366.3)" fill="#111">I</text>
<text x="103.62" y="373.2" font-size="10.8" transform="rotate(0.22 103.62 373.2)" fill="#111">K(M,ng)</text>
<line x1="94.4" y1="361.9" x2="72.14" y2="369.32" stroke="#111" stroke-width="1"/>
<path d="M67.4,370.9 L71.51,367.42 L72.78,371.22 Z" fill="#111"/>
<text x="12.8" y="431.1" font-size="13.6" font-style="italic" transform="rotate(0.22 12.8 431.1)" fill="#111">I</text>
<text x="19.48" y="431.4" font-size="13.6" transform="rotate(0.22 19.48 431.4)" fill="#111">= 0</text>
<line x1="14.7" y1="437.2" x2="32.8" y2="437.2" stroke="#111" stroke-width="1"/>
<path d="M37.8,437.2 L32.8,439.2 L32.8,435.2 Z" fill="#111"/>
<text x="234.28" y="282.7" font-size="17" font-style="italic" transform="rotate(0.22 234.28 282.7)" fill="#111">I</text>
<text x="237.92" y="289.9" font-size="11" transform="rotate(0.22 237.92 289.9)" fill="#111">K(Ca)</text>
<line x1="229.7" y1="281" x2="207.83" y2="288.48" stroke="#111" stroke-width="1"/>
<path d="M203.1,290.1 L207.18,286.59 L208.48,290.37 Z" fill="#111"/>
<text x="198.28" y="503.6" font-size="17" font-style="italic" transform="rotate(0.22 198.28 503.6)" fill="#111">I</text>
<text x="202.3" y="510.6" font-size="10.8" transform="rotate(0.22 202.3 510.6)" fill="#111">Ca</text>
<line x1="194" y1="497.9" x2="181.3" y2="497.9" stroke="#111" stroke-width="1"/>
<path d="M176.3,497.9 L181.3,495.9 L181.3,499.9 Z" fill="#111"/>
<line x1="224.2" y1="407.4" x2="224.2" y2="438.5" stroke="#111" stroke-width="1.3"/>
<text x="228.78" y="431" font-size="13.9" transform="rotate(0.22 228.78 431)" fill="#111">200 pA</text>
<text x="308.6" y="192.8" font-size="30.5" transform="rotate(0.22 308.6 192.8)" fill="#111">B</text>
<text x="367.95" y="212.5" font-size="19.5" font-style="italic" transform="rotate(0.22 367.95 212.5)" fill="#111">I</text>
<text x="371.8" y="219.2" font-size="12.1" transform="rotate(0.22 371.8 219.2)" fill="#111">K(M)</text>
<text x="403.95" y="213.8" font-size="20.6" transform="rotate(0.22 403.95 213.8)" fill="#111">(mouse SCG)</text>
<text x="323.02" y="336.2" font-size="31.5" transform="rotate(0.22 323.02 336.2)" fill="#111">a</text>
<text x="310.7" y="568.7" font-size="31.2" transform="rotate(0.22 310.7 568.7)" fill="#111">b</text>
<path d="M356.9,343.19 L357.52,343.26 L358.15,342.46 L358.77,342.4 L359.39,342.02 L360.01,342.29 L360.64,343.48 L361.26,344.25 L361.88,344.71 L362.5,343.58 L363.13,343.31 L363.75,342.89 L364.37,343.24 L364.99,344.59 L365.62,345.36 L366.24,345.82 L366.86,345.69 L367.48,344.79 L368.11,343.97 L368.73,343.23 L369.35,343.27 L369.97,343.21 L370.6,343.1 L371.22,343.26 L371.84,342.74 L372.46,343.37 L373.09,343.24 L373.71,343.63 L374.33,343.43 L374.95,343.79 L375.58,343.76 L376.2,344.06 L376.82,345.26 L377.44,343.8 L378.07,343.67 L378.69,343.21 L379.31,342.85 L379.93,343.59 L380.56,344.11 L381.18,343.91 L381.8,343.68 L382.42,343.41 L383.05,343.58 L383.67,342.72 L384.29,341.79 L384.92,342.95 L385.54,342.7 L386.16,343.5 L386.78,345.06 L387.41,344.77 L388.03,345.13 L388.65,345.31 L389.27,344.71 L389.9,344.51 L390.52,343.45 L391.14,343.84 L391.76,343.53 L392.39,343.83 L393.01,344.96 L393.63,344.49 L394.25,344.33 L394.88,343.92 L395.5,343.67 L396.12,343.76 L396.74,343.95 L397.37,344.11 L397.99,344.02 L398.61,344.63 L399.23,344.76 L399.86,344.19 L400.48,343.36 L401.1,343.23 L401.72,343.01 L402.35,343.22 L402.97,343.78 L403.59,342.87 L404.21,342.85 L404.84,341.99 L405.46,341.95 L406.08,342.21 L406.7,343.06 L407.33,344.23 L407.95,344.31 L408.57,344.71 L409.19,344.29 L409.82,343.83 L410.44,343.83 L411.06,343.63 L411.68,344.3 L412.31,344.62 L412.93,343.96 L413.55,344.4 L414.18,344.44 L414.8,344.05 L415.42,346.15 L416.04,345.82 L416.67,345.21 L417.29,345.36 L417.91,343.92 L418.53,343.47 L419.16,342.68 L419.78,342.08 L420.4,342.62 L421.02,342.66 L421.65,343.21 L422.27,344.16 L422.89,343.47 L423.51,343.93 L424.14,343.76 L424.76,343.44 L425.38,343.71 L426,343.71 L426.63,343.36 L427.25,343.05 L427.87,342.71 L428.49,342.73 L429.12,343.66 L429.74,344.73 L430.36,345.18 L430.98,345.5 L431.61,345.02 L432.23,344.88 L432.85,344.81 L433.47,344.6 L434.1,344.44 L434.72,344.01 L435.34,344.7 L435.96,344.09 L436.59,344.2 L437.21,343.97 L437.83,343.61 L438.45,344.78 L439.08,344.66 L439.7,343.82 L440.32,343.68 L440.95,343.22 L441.57,342.69 L442.19,343.67 L442.81,343.41 L443.44,342.28 L444.06,343.19 L444.68,343.46 L445.3,343.58 L445.93,344.07 L446.55,343.53 L447.17,343.11 L447.79,343.21 L448.42,343.24 L449.04,344.09 L449.66,344.48 L450.28,343.45 L450.91,344.49 L451.53,343.98 L452.15,343.62 L452.77,344.51 L453.4,343.15 L454.02,343.16 L454.64,342.42 L455.26,341.98 L455.89,343.22 L456.51,343.64 L457.13,344.46 L457.75,344.49 L458.38,344.32 L459,343.82 L459.62,344.03 L460.24,344.65 L460.87,343.87 L461.49,344.2 L462.11,343.3 L462.73,343.63 L463.36,343.43 L463.98,342.88 L464.6,343.45 L465.22,343.16 L465.85,344.07 L466.47,344.45 L467.09,344.93 L467.72,344.83 L468.34,344.51 L468.96,343.62 L469.58,342.51 L470.21,341.43 L470.83,341.44 L471.45,342.1 L472.07,342.95 L472.7,343.94 L473.32,343.86 L473.94,343.56 L474.56,343.03 L475.19,342.2 L475.81,342.77 L476.43,343.52 L477.05,343.58 L477.68,344.21 L478.3,343.91 L478.92,344.18 L479.54,344.48 L480.17,344.65 L480.79,344.94 L481.41,343.63 L482.03,343.58 L482.66,343.5 L483.28,342.77 L483.9,344.28 L484.52,344.9 L485.15,345 L485.77,344.91 L486.39,344.42 L487.01,344.33 L487.64,344.05 L488.26,344.26 L488.88,343.35 L489.5,343.07 L490.13,343.61 L490.75,344.18 L491.37,344.98 L491.99,345.33 L492.62,344.77 L493.24,344.19 L493.86,344.44 L494.48,344.29 L495.11,344.21 L495.73,344.59 L496.35,344.45 L496.98,344.55 L497.6,344.91 L498.22,344.51 L498.84,344.34 L499.47,344.73 L500.09,344.75 L500.71,344.69 L501.33,344.67 L501.96,343.52 L502.58,343.56 L503.2,343.7 L503.82,343.95 L504.45,344.47 L505.07,344.79 L505.69,345.81 L506.31,345.35 L506.94,344.99 L507.56,344.76 L508.18,343.83 L508.8,343.97 L509.43,344.06 L510.05,344.1 L510.67,344.16 L511.29,343.27 L511.92,343.41 L512.54,343.32 L513.16,343.76 L513.78,344.38 L514.41,344.16 L515.03,344.48 L515.65,343.78 L516.27,344.05 L516.9,344.55 L517.52,344.39 L518.14,344.63 L518.76,344.16 L519.39,344.37 L520.01,343.92 L520.63,343.71 L521.25,344.93 L521.88,344.88 L522.5,344.64 L523.12,344.66 L523.75,343.78 L524.37,343.15 L524.99,342.81 L525.61,343.32 L526.24,343.72 L526.86,344.1 L527.48,344.7 L528.1,344.47 L528.73,344.42 L529.35,343.92 L529.97,343.95 L530.59,343.65 L531.22,343.67 L531.84,344.18 L532.46,343.81 L533.08,343.79 L533.71,344.2 L534.33,343.73 L534.95,344.29 L535.57,344.29 L536.2,344.09 L536.82,344.44 L537.44,344.21 L538.06,344 L538.69,343.43 L539.31,343.77 L539.93,344.21 L540.55,344.15 L541.18,344.85 L541.8,344.44 L542.42,343.77 L543.04,344.33 L543.67,343.49 L544.29,343.36 L544.91,343.52 L545.53,343.44 L546.16,343.49 L546.78,343.05 L547.4,343.5 L548.02,343.34 L548.65,344 L549.27,344.87 L549.89,344.91 L550.52,345.18 L551.14,345.22 L551.76,344.89 L552.38,344.27 L553.01,344.33 L553.63,342.77 L554.25,342.76 L554.87,343.23 L555.5,342.94 L556.12,344.48 L556.74,344.9 L557.36,344.86 L557.99,344.87 L558.61,344.81 L559.23,344.27 L559.85,344.07 L560.48,344.52 L561.1,344.32 L561.72,345.38 L562.34,345.46 L562.97,344.44 L563.59,344.47 L564.21,344.17 L564.83,344.19 L565.46,345.52 L566.08,345.96 L566.7,345.21 L567.32,345.09 L567.95,344.01 L568.57,343.53 L569.19,344.07 L569.81,344.49 L570.44,344.5 L571.06,343.99 L571.68,343.16 L572.3,342.3 L572.93,342.26 L573.55,341.95 L574.17,342.43 L574.79,343.22 L575.42,343.99 L576.04,344.59 L576.66,344.4 L577.28,344.24 L577.91,344.22 L578.53,344.11 L579.15,344.39 L579.78,344.28 L580.4,343.86 L581.02,343.99 L581.64,343.54 L582.27,344.07 L582.89,343.67 L583.51,343.83 L584.13,343.74 L584.76,343.92 L585.38,344.86 L586,344.37 L586.62,344.72 L587.25,343.71 L587.87,343.35 L588.49,343.82 L589.11,344.99 L589.74,344.9 L590.36,345.4 L590.98,345.02 L591.6,344.14 L592.23,345.01 L592.85,344.74 L593.47,345.13 L594.09,344.95 L594.72,344.61 L595.34,344.46 L595.96,344.76 L596.58,344.27 L597.21,344.09 L597.83,343.55 L598.45,342.72 L599.07,342.98 L599.7,343.59 L600.32,344.9 L600.94,345.8 L601.56,345.65 L602.19,345.26 L602.81,343.99 L603.43,343.65 L604.05,344.59 L604.68,344.79 L605.3,345.23" fill="none" stroke="#111" stroke-width="1.75" stroke-linejoin="round"/>
<line x1="363.8" y1="343.5" x2="363.8" y2="466" stroke="#333" stroke-width="1.2"/>
<line x1="363.8" y1="466" x2="363.5" y2="500" stroke="#111" stroke-width="2.2"/>
<line x1="363.5" y1="500" x2="362.8" y2="565.5" stroke="#555" stroke-width="1.5"/>
<path d="M364.4,365.94 L364.94,366.52 L365.49,366.34 L366.03,366.42 L366.57,367.5 L367.12,368.76 L367.66,369.66 L368.2,369.92 L368.75,370.09 L369.29,370.74 L369.83,371.48 L370.38,371.84 L370.92,371.68 L371.46,372.43 L372.01,373.25 L372.55,373.46 L373.09,373.38 L373.63,373.65 L374.18,373.88 L374.72,373.68 L375.26,374.43 L375.81,375.19 L376.35,375.73 L376.89,376.56 L377.44,376.69 L377.98,377.08 L378.52,377.2 L379.07,377.19 L379.61,377.27 L380.15,377.35 L380.7,377.86 L381.24,378 L381.78,378.48 L382.33,378.24 L382.87,378.33 L383.41,378.84 L383.96,379.04 L384.5,379.57 L385.04,379.63 L385.59,379.6 L386.13,379.56 L386.67,379.99 L387.22,380.29 L387.76,380.43 L388.3,380.38 L388.85,380.78 L389.39,381.04 L389.93,381.13 L390.48,381.42 L391.02,381.39 L391.56,381.6 L392.1,381.77 L392.65,381.93 L393.19,382.21 L393.73,382.51 L394.28,382.46 L394.82,382.84 L395.36,382.56 L395.91,382.56 L396.45,382.87 L396.99,382.2 L397.54,382.4 L398.08,382.84 L398.62,383.26 L399.17,383.27 L399.71,382.9 L400.25,383.18 L400.8,382.71 L401.34,382.86 L401.88,383.18 L402.43,383.5 L402.97,384.3 L403.51,383.97 L404.06,383.14 L404.6,383.25 L405.14,383.8 L405.69,384 L406.23,383.93 L406.77,383.45 L407.32,383.55 L407.86,383.67 L408.4,384.25 L408.94,384.35 L409.49,383.73 L410.03,383.96 L410.57,383.84 L411.12,383.77 L411.66,384.11 L412.2,384.14 L412.75,384.14 L413.29,384.66 L413.83,384.88 L414.38,384.2 L414.92,384 L415.46,384.61 L416.01,384.58 L416.55,384.42 L417.09,384.62 L417.64,384.77 L418.18,384.76 L418.72,384.6 L419.27,384.44 L419.81,384.6 L420.35,384.61 L420.9,385.01 L421.44,385.28 L421.98,384.76 L422.53,385.01 L423.07,385.07 L423.61,384.89 L424.16,384.92 L424.7,384.72 L425.24,384.49 L425.79,384.52 L426.33,385.1 L426.87,385.14 L427.41,384.73 L427.96,384.79 L428.5,385.11 L429.04,385.8 L429.59,385.36 L430.13,384.98 L430.67,385.28 L431.22,385.06 L431.76,385.18 L432.3,384.92 L432.85,385.03 L433.39,385.45 L433.93,384.95 L434.48,385.34 L435.02,385.86 L435.56,385.75 L436.11,385.13 L436.65,384.74 L437.19,385.01 L437.74,385.26 L438.28,385.79 L438.82,385.1 L439.37,384.74 L439.91,385.24 L440.45,385.51 L441,385.54 L441.54,384.93 L442.08,384.89 L442.63,384.96 L443.17,384.81 L443.71,385.11 L444.26,385.2 L444.8,385.27 L445.34,384.99 L445.88,385.56 L446.43,386.33 L446.97,385.89 L447.51,385.19 L448.06,384.41 L448.6,384.53 L449.14,385.06 L449.69,385.92 L450.23,386.35 L450.77,385.59 L451.32,385.57 L451.86,386.05 L452.4,385.73 L452.95,385.73 L453.49,385.82 L454.03,385.31 L454.58,384.9 L455.12,385.05 L455.66,385.65 L456.21,385.31 L456.75,384.6 L457.29,385.12 L457.84,384.82 L458.38,385.18 L458.92,385.8 L459.47,385.51 L460.01,386.14 L460.55,385.54 L461.1,384.75 L461.64,385.76 L462.18,385.97 L462.72,385.33 L463.27,385.47 L463.81,385.8 L464.35,386.1 L464.9,385.84 L465.44,385.39 L465.98,385.35 L466.53,385.52 L467.07,385.9 L467.61,385.85 L468.16,385.99 L468.7,385.72 L469.24,385.37 L469.79,386.09 L470.33,386.3 L470.87,385.91 L471.42,385.31 L471.96,385.03 L472.5,385.23 L473.05,385.51 L473.59,385.48 L474.13,385 L474.68,384.87 L475.22,385.41 L475.76,385.84 L476.31,385.32 L476.85,384.99 L477.39,384.91 L477.94,384.86 L478.48,386.29 L479.02,386.47 L479.57,385.4 L480.11,385.22 L480.65,384.98 L481.19,384.64 L481.74,384.96 L482.28,385.39 L482.82,385.81 L483.37,385.44 L483.91,385.15 L484.45,385.97 L485,385.31 L485.54,385.13 L486.08,385.22 L486.63,385.19 L487.17,386.03 L487.71,385.89 L488.26,385.56 L488.8,385.38" fill="none" stroke="#111" stroke-width="1.2" stroke-linejoin="round"/>
<path d="M364.4,386.38 L364.94,387.51 L365.49,388.18 L366.03,388.61 L366.57,389.53 L367.12,390.53 L367.66,390.69 L368.2,391.18 L368.75,392.12 L369.29,392.91 L369.83,394.02 L370.38,394.6 L370.92,395.28 L371.46,395.52 L372.01,395.63 L372.55,396.19 L373.09,396.87 L373.63,397.7 L374.18,398.14 L374.72,398.29 L375.26,398.81 L375.81,399.5 L376.35,400.16 L376.89,400.66 L377.44,401.25 L377.98,401.82 L378.52,401.4 L379.07,401.7 L379.61,402.21 L380.15,402.91 L380.7,404.07 L381.24,404.16 L381.78,404.24 L382.33,404.2 L382.87,403.79 L383.41,404.36 L383.96,405.23 L384.5,405.28 L385.04,405.67 L385.59,406.47 L386.13,406.91 L386.67,407.52 L387.22,407.84 L387.76,407.57 L388.3,407.64 L388.85,408.15 L389.39,408.08 L389.93,408.51 L390.48,409.28 L391.02,409.07 L391.56,408.87 L392.1,410.19 L392.65,410.8 L393.19,410.21 L393.73,410.67 L394.28,410.87 L394.82,410.62 L395.36,410.73 L395.91,410.59 L396.45,410.77 L396.99,410.76 L397.54,410.84 L398.08,411.57 L398.62,411.18 L399.17,411.7 L399.71,411.96 L400.25,411.86 L400.8,412.17 L401.34,412.1 L401.88,412.2 L402.43,412.92 L402.97,413.51 L403.51,413.44 L404.06,413.49 L404.6,413.3 L405.14,413.24 L405.69,413.09 L406.23,413.32 L406.77,413.53 L407.32,413.42 L407.86,413.09 L408.4,413.14 L408.94,413.78 L409.49,413.83 L410.03,413.84 L410.57,414.02 L411.12,413.72 L411.66,413.59 L412.2,413.75 L412.75,413.99 L413.29,414.2 L413.83,414.66 L414.38,414.5 L414.92,413.7 L415.46,414.25 L416.01,414.75 L416.55,414.59 L417.09,415.48 L417.64,415.98 L418.18,415.49 L418.72,415.41 L419.27,415.33 L419.81,415.39 L420.35,415.24 L420.9,414.83 L421.44,414.92 L421.98,415.6 L422.53,416.2 L423.07,415.64 L423.61,415.58 L424.16,415.74 L424.7,415.76 L425.24,415.76 L425.79,415.77 L426.33,415.86 L426.87,415.56 L427.41,415.62 L427.96,415.78 L428.5,415.66 L429.04,415.27 L429.59,415.93 L430.13,416.23 L430.67,415.29 L431.22,414.8 L431.76,414.56 L432.3,415.05 L432.85,416.22 L433.39,415.97 L433.93,415.53 L434.48,415.5 L435.02,415.92 L435.56,416.55 L436.11,416.36 L436.65,416.65 L437.19,417.04 L437.74,416.97 L438.28,416.38 L438.82,415.75 L439.37,415.64 L439.91,415.54 L440.45,416.35 L441,416.8 L441.54,416.36 L442.08,416.48 L442.63,417.02 L443.17,416.83 L443.71,416.61 L444.26,416.87 L444.8,416.51 L445.34,415.91 L445.88,416.22 L446.43,416.56 L446.97,416.2 L447.51,416.48 L448.06,416.64 L448.6,416.9 L449.14,416.7 L449.69,416.45 L450.23,416.72 L450.77,416.7 L451.32,416.82 L451.86,416.75 L452.4,416.91 L452.95,416.79 L453.49,416.07 L454.03,416.27 L454.58,417 L455.12,416.88 L455.66,416.39 L456.21,416.44 L456.75,416.67 L457.29,416.72 L457.84,416.77 L458.38,416.35 L458.92,416.69 L459.47,417.33 L460.01,416.69 L460.55,416.91 L461.1,417.28 L461.64,417.32 L462.18,416.87 L462.72,416.93 L463.27,417.28 L463.81,416.25 L464.35,416.45 L464.9,416.95 L465.44,416.46 L465.98,416.49 L466.53,416.24 L467.07,416.47 L467.61,416.95 L468.16,416.72 L468.7,417.17 L469.24,417.26 L469.79,416.69 L470.33,416.42 L470.87,416.59 L471.42,417.16 L471.96,417.01 L472.5,416.44 L473.05,416.86 L473.59,417.16 L474.13,416.91 L474.68,417.47 L475.22,417.14 L475.76,416.62 L476.31,416.47 L476.85,416.34 L477.39,416.99 L477.94,417.39 L478.48,416.88 L479.02,416.8 L479.57,417.37 L480.11,417.11 L480.65,417.58 L481.19,417.61 L481.74,416.69 L482.28,416.81 L482.82,416.54 L483.37,416.86 L483.91,417.65 L484.45,417.11 L485,417.01 L485.54,417.27 L486.08,417.64 L486.63,417.32 L487.17,416.43 L487.71,416.04 L488.26,416.32 L488.8,416.45" fill="none" stroke="#111" stroke-width="1.2" stroke-linejoin="round"/>
<path d="M364.4,404.26 L364.94,405.24 L365.49,406 L366.03,406.44 L366.57,407.68 L367.12,408.66 L367.66,409.15 L368.2,410.2 L368.75,410.49 L369.29,410.66 L369.83,412.39 L370.38,413.27 L370.92,412.93 L371.46,413.53 L372.01,414.27 L372.55,414.6 L373.09,415.22 L373.63,416.12 L374.18,416.78 L374.72,417.47 L375.26,417.52 L375.81,417.47 L376.35,418.66 L376.89,419.44 L377.44,420.03 L377.98,420.7 L378.52,420.42 L379.07,420.92 L379.61,421.45 L380.15,421.79 L380.7,422.82 L381.24,423.72 L381.78,423.75 L382.33,423.73 L382.87,424.2 L383.41,424.58 L383.96,424.13 L384.5,424.15 L385.04,425.26 L385.59,425.82 L386.13,425.84 L386.67,426.24 L387.22,427.05 L387.76,427.13 L388.3,427.05 L388.85,427.2 L389.39,427.57 L389.93,428.25 L390.48,428.88 L391.02,428.68 L391.56,428.25 L392.1,428.39 L392.65,429.15 L393.19,429.65 L393.73,429.68 L394.28,429.96 L394.82,430.19 L395.36,430.22 L395.91,430.03 L396.45,430.08 L396.99,430.59 L397.54,431.05 L398.08,431.09 L398.62,431.04 L399.17,431.69 L399.71,431.84 L400.25,431.68 L400.8,431.88 L401.34,431.73 L401.88,431.55 L402.43,431.78 L402.97,432.11 L403.51,432.63 L404.06,432.67 L404.6,432.45 L405.14,433.08 L405.69,433.28 L406.23,433.36 L406.77,433.73 L407.32,433.26 L407.86,433.02 L408.4,433.32 L408.94,433.91 L409.49,434.25 L410.03,434.11 L410.57,434.71 L411.12,434.57 L411.66,434.22 L412.2,434.52 L412.75,434.51 L413.29,434.83 L413.83,435.21 L414.38,435.22 L414.92,435.09 L415.46,434.8 L416.01,434.76 L416.55,434.83 L417.09,434.55 L417.64,434.82 L418.18,435.56 L418.72,435.52 L419.27,435.23 L419.81,435.3 L420.35,435.56 L420.9,435.7 L421.44,436.19 L421.98,435.92 L422.53,435.58 L423.07,436.06 L423.61,436.03 L424.16,435.83 L424.7,435.58 L425.24,435.53 L425.79,436.05 L426.33,436.66 L426.87,436.33 L427.41,436.1 L427.96,436.47 L428.5,436.66 L429.04,436.62 L429.59,436.51 L430.13,436.72 L430.67,436.32 L431.22,436.13 L431.76,436 L432.3,435.48 L432.85,435.77 L433.39,435.92 L433.93,436.32 L434.48,437.04 L435.02,436.85 L435.56,436.57 L436.11,436.62 L436.65,436.61 L437.19,436.74 L437.74,436.93 L438.28,436.8 L438.82,436.51 L439.37,436.52 L439.91,436.98 L440.45,437.03 L441,437.23 L441.54,437.3 L442.08,437.3 L442.63,437.06 L443.17,436.52 L443.71,436.99 L444.26,437.33 L444.8,437.18 L445.34,437.62 L445.88,437.7 L446.43,437.24 L446.97,437.09 L447.51,437.47 L448.06,437.88 L448.6,437.55 L449.14,436.9 L449.69,436.9 L450.23,437.23 L450.77,437.25 L451.32,437.64 L451.86,437.34 L452.4,437.17 L452.95,437.62 L453.49,437.62 L454.03,437.3 L454.58,436.99 L455.12,436.91 L455.66,436.86 L456.21,437.32 L456.75,437.7 L457.29,437.12 L457.84,437.1 L458.38,437.09 L458.92,436.21 L459.47,436.89 L460.01,438.11 L460.55,437.39 L461.1,436.89 L461.64,437.35 L462.18,437.45 L462.72,437.17 L463.27,437.15 L463.81,437.32 L464.35,437.32 L464.9,437.44 L465.44,437.54 L465.98,437.28 L466.53,437.36 L467.07,437.12 L467.61,437.51 L468.16,437.5 L468.7,437.09 L469.24,437.66 L469.79,437.8 L470.33,437.78 L470.87,438.02 L471.42,437.65 L471.96,437.29 L472.5,437.64 L473.05,437.53 L473.59,437.34 L474.13,437.82 L474.68,437.79 L475.22,437.32 L475.76,437.45 L476.31,437.52 L476.85,437.64 L477.39,437.65 L477.94,437.71 L478.48,437.8 L479.02,437.84 L479.57,438.17 L480.11,437.82 L480.65,437.9 L481.19,438.01 L481.74,437.75 L482.28,437.91 L482.82,437.66 L483.37,437.09 L483.91,437.61 L484.45,437.93 L485,437.29 L485.54,437.78 L486.08,438.02 L486.63,438.24 L487.17,438.68 L487.71,438.36 L488.26,437.98 L488.8,438" fill="none" stroke="#111" stroke-width="1.2" stroke-linejoin="round"/>
<path d="M364.4,423.95 L364.94,424.63 L365.49,425.62 L366.03,426.04 L366.57,426.64 L367.12,426.94 L367.66,427.66 L368.2,428.92 L368.75,428.85 L369.29,429.05 L369.83,430.3 L370.38,430.86 L370.92,430.63 L371.46,430.71 L372.01,431.66 L372.55,432.85 L373.09,432.75 L373.63,432.68 L374.18,433.16 L374.72,433.46 L375.26,434.13 L375.81,434.57 L376.35,434.66 L376.89,435.59 L377.44,436.07 L377.98,435.79 L378.52,436.46 L379.07,436.82 L379.61,436.78 L380.15,437.33 L380.7,437.4 L381.24,437.64 L381.78,438.47 L382.33,438.71 L382.87,438.66 L383.41,438.73 L383.96,438.58 L384.5,438.79 L385.04,439.56 L385.59,440.06 L386.13,440.25 L386.67,440.13 L387.22,440.08 L387.76,440.39 L388.3,440.85 L388.85,441.38 L389.39,441.54 L389.93,441.28 L390.48,441.43 L391.02,441.61 L391.56,441.75 L392.1,441.46 L392.65,441.27 L393.19,441.7 L393.73,442.41 L394.28,442.86 L394.82,442.92 L395.36,443.4 L395.91,443.22 L396.45,443.35 L396.99,443.87 L397.54,443.51 L398.08,443.93 L398.62,443.86 L399.17,443.29 L399.71,443.73 L400.25,444.25 L400.8,444.37 L401.34,443.81 L401.88,443.88 L402.43,444.53 L402.97,445.39 L403.51,445.88 L404.06,445.33 L404.6,444.77 L405.14,444.92 L405.69,444.99 L406.23,445.04 L406.77,445.53 L407.32,445.45 L407.86,445.5 L408.4,445.6 L408.94,445.46 L409.49,446.03 L410.03,446.4 L410.57,445.99 L411.12,445.7 L411.66,445.89 L412.2,446.31 L412.75,446.55 L413.29,446.86 L413.83,446.81 L414.38,446.18 L414.92,446.66 L415.46,447.32 L416.01,447.06 L416.55,447.16 L417.09,446.59 L417.64,446.19 L418.18,446.5 L418.72,446.96 L419.27,446.83 L419.81,446.47 L420.35,447.23 L420.9,447.53 L421.44,447.07 L421.98,447.44 L422.53,447.23 L423.07,446.89 L423.61,447.22 L424.16,447.27 L424.7,447.29 L425.24,446.97 L425.79,447.14 L426.33,447.04 L426.87,447.16 L427.41,447.45 L427.96,447.59 L428.5,447.58 L429.04,447.19 L429.59,447.44 L430.13,447.98 L430.67,447.35 L431.22,447.08 L431.76,447.82 L432.3,447.44 L432.85,447.06 L433.39,447.63 L433.93,447.67 L434.48,447.35 L435.02,448.05 L435.56,447.99 L436.11,447.33 L436.65,446.99 L437.19,446.94 L437.74,447.25 L438.28,448.01 L438.82,448.68 L439.37,447.91 L439.91,448.12 L440.45,448.68 L441,448.13 L441.54,448.15 L442.08,448.32 L442.63,447.92 L443.17,447.37 L443.71,447.34 L444.26,447.82 L444.8,447.98 L445.34,447.8 L445.88,448.17 L446.43,448.09 L446.97,448.08 L447.51,448.25 L448.06,448.05 L448.6,447.9 L449.14,447.88 L449.69,447.98 L450.23,447.53 L450.77,447.74 L451.32,448.2 L451.86,448.43 L452.4,448.53 L452.95,448.05 L453.49,447.82 L454.03,447.44 L454.58,447.32 L455.12,448.33 L455.66,449.03 L456.21,448.9 L456.75,448.59 L457.29,448.55 L457.84,448.6 L458.38,448 L458.92,447.64 L459.47,448.42 L460.01,448.97 L460.55,448.73 L461.1,448.34 L461.64,448.18 L462.18,448.13 L462.72,447.99 L463.27,447.63 L463.81,447.92 L464.35,448.31 L464.9,448.22 L465.44,448.8 L465.98,449.02 L466.53,448.39 L467.07,448.39 L467.61,448.18 L468.16,448.31 L468.7,448.78 L469.24,448.46 L469.79,448.54 L470.33,448.98 L470.87,448.71 L471.42,448.07 L471.96,448.76 L472.5,449.03 L473.05,448.87 L473.59,448.69 L474.13,448.39 L474.68,448.41 L475.22,448.48 L475.76,448.58 L476.31,448.23 L476.85,448.72 L477.39,448.99 L477.94,448.04 L478.48,447.89 L479.02,448.19 L479.57,447.93 L480.11,448.02 L480.65,448.22 L481.19,448.39 L481.74,448.31 L482.28,447.81 L482.82,447.88 L483.37,448.61 L483.91,448.39 L484.45,448.32 L485,448.81 L485.54,448.53 L486.08,448.49 L486.63,448.41 L487.17,448.23 L487.71,448.15 L488.26,448.39 L488.8,449.03" fill="none" stroke="#111" stroke-width="1.2" stroke-linejoin="round"/>
<path d="M364.4,440.82 L364.94,441.54 L365.49,441.54 L366.03,441.36 L366.57,442.03 L367.12,443.08 L367.66,443.54 L368.2,443.62 L368.75,443.56 L369.29,443.7 L369.83,444.7 L370.38,444.96 L370.92,444.36 L371.46,444.7 L372.01,445.92 L372.55,446.49 L373.09,446.63 L373.63,446.07 L374.18,446.15 L374.72,447.08 L375.26,447.14 L375.81,447.27 L376.35,447.57 L376.89,447.65 L377.44,448.18 L377.98,448.17 L378.52,448.92 L379.07,449.33 L379.61,448.83 L380.15,448.77 L380.7,448.86 L381.24,449.15 L381.78,448.9 L382.33,448.71 L382.87,449.33 L383.41,449.86 L383.96,449.22 L384.5,448.8 L385.04,449.55 L385.59,450.24 L386.13,450.61 L386.67,450.41 L387.22,450.53 L387.76,450.89 L388.3,450.7 L388.85,450.85 L389.39,451.36 L389.93,451.65 L390.48,451.72 L391.02,451.48 L391.56,451.25 L392.1,451.21 L392.65,451.23 L393.19,451.52 L393.73,451.62 L394.28,452 L394.82,452.31 L395.36,452.4 L395.91,452.39 L396.45,452.55 L396.99,452.61 L397.54,452.65 L398.08,452.82 L398.62,452.82 L399.17,452.72 L399.71,452.25 L400.25,451.94 L400.8,452.85 L401.34,453.4 L401.88,453.04 L402.43,452.94 L402.97,452.75 L403.51,453.61 L404.06,453.48 L404.6,452.74 L405.14,453.07 L405.69,452.82 L406.23,452.53 L406.77,452.69 L407.32,452.97 L407.86,453.07 L408.4,453.42 L408.94,453.27 L409.49,453.19 L410.03,453.93 L410.57,454.1 L411.12,453.43 L411.66,452.42 L412.2,452.99 L412.75,453.94 L413.29,453.58 L413.83,453.82 L414.38,453.89 L414.92,453.6 L415.46,453.46 L416.01,453.54 L416.55,453.73 L417.09,453.53 L417.64,453.95 L418.18,454.17 L418.72,453.5 L419.27,453.64 L419.81,454.29 L420.35,453.9 L420.9,453.59 L421.44,453.84 L421.98,453.9 L422.53,453.93 L423.07,454.19 L423.61,454.04 L424.16,454.44 L424.7,454.39 L425.24,453.7 L425.79,454.44 L426.33,455.24 L426.87,454.73 L427.41,454.05 L427.96,453.77 L428.5,454.14 L429.04,454.48 L429.59,453.96 L430.13,454.03 L430.67,454.64 L431.22,454.72 L431.76,454.96 L432.3,455.09 L432.85,454.63 L433.39,454.32 L433.93,454.36 L434.48,454.7 L435.02,454.79 L435.56,454.76 L436.11,454.59 L436.65,454.52 L437.19,454.8 L437.74,454.55 L438.28,453.88 L438.82,454.4 L439.37,454.91 L439.91,454.34 L440.45,454.25 L441,454.3 L441.54,453.79 L442.08,453.81 L442.63,453.89 L443.17,454 L443.71,454.36 L444.26,454.62 L444.8,454.62 L445.34,454.42 L445.88,454.37 L446.43,454.18 L446.97,453.89 L447.51,454.26 L448.06,454.68 L448.6,454.26 L449.14,454.28 L449.69,454.33 L450.23,454.08 L450.77,454.26 L451.32,454.79 L451.86,454.65 L452.4,453.94 L452.95,453.85 L453.49,454.72 L454.03,454.67 L454.58,454.51 L455.12,454.67 L455.66,454.55 L456.21,454.59 L456.75,453.97 L457.29,453.89 L457.84,454.88 L458.38,454.96 L458.92,454.55 L459.47,454.49 L460.01,454.31 L460.55,454.49 L461.1,454.65 L461.64,455.16 L462.18,455.03 L462.72,454.39 L463.27,454.22 L463.81,453.92 L464.35,453.66 L464.9,454.2 L465.44,454.13 L465.98,454.33 L466.53,455.06 L467.07,454.61 L467.61,454.07 L468.16,454.16 L468.7,454.47 L469.24,454.77 L469.79,454.57 L470.33,454.16 L470.87,454.35 L471.42,454.38 L471.96,454.22 L472.5,453.84 L473.05,453.57 L473.59,453.85 L474.13,454.23 L474.68,454.68 L475.22,455.36 L475.76,455.55 L476.31,455.04 L476.85,455.09 L477.39,454.95 L477.94,454.3 L478.48,454.96 L479.02,454.81 L479.57,454.08 L480.11,454.3 L480.65,454.8 L481.19,454.71 L481.74,454.53 L482.28,454.58 L482.82,454.05 L483.37,454.22 L483.91,454.59 L484.45,454.22 L485,453.94 L485.54,454.04 L486.08,454.53 L486.63,454.87 L487.17,454.68 L487.71,454.68 L488.26,454.49 L488.8,454.49" fill="none" stroke="#111" stroke-width="1.2" stroke-linejoin="round"/>
<path d="M364.4,453.54 L364.94,453.4 L365.49,453.58 L366.03,454.19 L366.57,454.58 L367.12,454.99 L367.66,454.67 L368.2,454.49 L368.75,455.2 L369.29,455.14 L369.83,455.23 L370.38,455.5 L370.92,455.25 L371.46,455.78 L372.01,455.82 L372.55,455.88 L373.09,456.24 L373.63,455.81 L374.18,455.77 L374.72,455.91 L375.26,455.99 L375.81,456.34 L376.35,456.13 L376.89,456.46 L377.44,457.25 L377.98,457.35 L378.52,456.91 L379.07,455.97 L379.61,456.12 L380.15,456.74 L380.7,457.04 L381.24,456.99 L381.78,456.92 L382.33,457.14 L382.87,456.78 L383.41,457.26 L383.96,457.41 L384.5,457.02 L385.04,457.64 L385.59,457.39 L386.13,457.13 L386.67,457.8 L387.22,457.75 L387.76,457.61 L388.3,457.79 L388.85,457.59 L389.39,457.72 L389.93,457.62 L390.48,457.39 L391.02,457.72 L391.56,457.86 L392.1,457.75 L392.65,457.38 L393.19,457.26 L393.73,457.92 L394.28,458.17 L394.82,457.95 L395.36,457.58 L395.91,457.33 L396.45,457.59 L396.99,458.15 L397.54,458.05 L398.08,458.03 L398.62,457.94 L399.17,457.92 L399.71,457.74 L400.25,457.48 L400.8,457.46 L401.34,457.6 L401.88,458.04 L402.43,457.62 L402.97,457.27 L403.51,457.41 L404.06,457.21 L404.6,457.09 L405.14,457.26 L405.69,457.72 L406.23,458.33 L406.77,458 L407.32,457.56 L407.86,457.74 L408.4,457.68 L408.94,457.55 L409.49,457.91 L410.03,458.05 L410.57,457.81 L411.12,457.59 L411.66,458.01 L412.2,458 L412.75,457.64 L413.29,457.53 L413.83,457.34 L414.38,457.65 L414.92,457.7 L415.46,457.82 L416.01,457.95 L416.55,457.43 L417.09,456.8 L417.64,457.44 L418.18,457.9 L418.72,458.03 L419.27,458.19 L419.81,457.59 L420.35,457.74 L420.9,457.87 L421.44,457.72 L421.98,457.55 L422.53,457.72 L423.07,458.26 L423.61,457.95 L424.16,458.13 L424.7,458.12 L425.24,457.71 L425.79,457.43 L426.33,456.84 L426.87,457.85 L427.41,458.75 L427.96,458.49 L428.5,457.65 L429.04,457.41 L429.59,457.97 L430.13,457.94 L430.67,457.9 L431.22,457.64 L431.76,457.51 L432.3,457.45 L432.85,457.4 L433.39,457.81 L433.93,457.69 L434.48,457.52 L435.02,457.61 L435.56,457.69 L436.11,458.05 L436.65,458.11 L437.19,457.97 L437.74,457.52 L438.28,457.32 L438.82,457.93 L439.37,457.79 L439.91,457.46 L440.45,457.43 L441,457.9 L441.54,458.04 L442.08,457.49 L442.63,457.77 L443.17,458.26 L443.71,458.23 L444.26,458.2 L444.8,458.12 L445.34,457.83 L445.88,457.65 L446.43,457.55 L446.97,457.51 L447.51,457.74 L448.06,457.87 L448.6,457.8 L449.14,457.99 L449.69,457.95 L450.23,457.42 L450.77,457.22 L451.32,457.29 L451.86,456.99 L452.4,457.32 L452.95,457.51 L453.49,457.14 L454.03,457.17 L454.58,457.75 L455.12,457.95 L455.66,457.99 L456.21,458.05 L456.75,457.66 L457.29,457.84 L457.84,458.11 L458.38,457.99 L458.92,457.56 L459.47,457.4 L460.01,457.36 L460.55,457.42 L461.1,457.76 L461.64,458.23 L462.18,458.58 L462.72,458.36 L463.27,458.24 L463.81,458.12 L464.35,458.61 L464.9,458.96 L465.44,458.92 L465.98,458.61 L466.53,458.02 L467.07,458.2 L467.61,458.14 L468.16,457.94 L468.7,457.62 L469.24,457.79 L469.79,458.09 L470.33,458.06 L470.87,457.96 L471.42,457.27 L471.96,457.46 L472.5,458.25 L473.05,457.77 L473.59,457.2 L474.13,457.46 L474.68,457.65 L475.22,457.28 L475.76,457.82 L476.31,458.54 L476.85,457.91 L477.39,457.15 L477.94,457.41 L478.48,458.43 L479.02,458.56 L479.57,458.33 L480.11,457.86 L480.65,457.61 L481.19,457.46 L481.74,457.93 L482.28,458.48 L482.82,457.39 L483.37,456.74 L483.91,457.43 L484.45,457.97 L485,457.75 L485.54,457.88 L486.08,458.5 L486.63,458.44 L487.17,457.41 L487.71,457.27 L488.26,457.4 L488.8,457.23" fill="none" stroke="#111" stroke-width="1.2" stroke-linejoin="round"/>
<path d="M364.4,468.09 L364.94,466.87 L365.49,465.51 L366.03,464.71 L366.57,464.07 L367.12,463.63 L367.66,463.28 L368.2,462.82 L368.75,462.46 L369.29,462.25 L369.83,462.03 L370.38,461.62 L370.92,461.32 L371.46,461.21 L372.01,460.75 L372.55,461.32 L373.09,461.52 L373.63,460.76 L374.18,460.75 L374.72,460.53 L375.26,460.72 L375.81,460.68 L376.35,460.42 L376.89,460.16 L377.44,460 L377.98,460.04 L378.52,460.75 L379.07,460.7 L379.61,459.91 L380.15,460.31 L380.7,460.97 L381.24,460.46 L381.78,459.65 L382.33,460.14 L382.87,460.64 L383.41,460.22 L383.96,459.64 L384.5,459.76 L385.04,460.45 L385.59,460.69 L386.13,460.69 L386.67,460.67 L387.22,460.46 L387.76,460.65 L388.3,460.63 L388.85,460.53 L389.39,460.31 L389.93,460.09 L390.48,460.46 L391.02,460.55 L391.56,460.23 L392.1,460.47 L392.65,460.81 L393.19,460.64 L393.73,460.28 L394.28,460.53 L394.82,461.4 L395.36,460.94 L395.91,459.85 L396.45,459.87 L396.99,460.03 L397.54,459.9 L398.08,459.83 L398.62,460.4 L399.17,460.95 L399.71,461.12 L400.25,461.09 L400.8,460.56 L401.34,460.65 L401.88,460.61 L402.43,460.23 L402.97,460.08 L403.51,460.5 L404.06,461.09 L404.6,460.63 L405.14,460.28 L405.69,460.41 L406.23,460.55 L406.77,460.77 L407.32,460.73 L407.86,460.61 L408.4,460.19 L408.94,460 L409.49,459.92 L410.03,460.48 L410.57,461.34 L411.12,461.05 L411.66,460.98 L412.2,461.32 L412.75,461.28 L413.29,460.31 L413.83,460 L414.38,459.8 L414.92,459.63 L415.46,459.93 L416.01,460.15 L416.55,460.59 L417.09,460.34 L417.64,460.16 L418.18,460.48 L418.72,460.52 L419.27,460.39 L419.81,459.79 L420.35,459.72 L420.9,460.58 L421.44,460.76 L421.98,460.15 L422.53,460.01 L423.07,460.48 L423.61,460.29 L424.16,460.4 L424.7,460.45 L425.24,460.18 L425.79,460.36 L426.33,461.05 L426.87,460.99 L427.41,460.24 L427.96,460.52 L428.5,460.55 L429.04,460.41 L429.59,459.93 L430.13,459.95 L430.67,460.56 L431.22,460.13 L431.76,460.5 L432.3,460.78 L432.85,460.36 L433.39,460.07 L433.93,459.69 L434.48,459.89 L435.02,459.92 L435.56,460.2 L436.11,460.85 L436.65,460.54 L437.19,459.88 L437.74,459.94 L438.28,460.09 L438.82,460.24 L439.37,460.57 L439.91,460.41 L440.45,460.38 L441,460.78 L441.54,461.22 L442.08,460.8 L442.63,460.53 L443.17,460.61 L443.71,460.13 L444.26,460.54 L444.8,460.93 L445.34,460.62 L445.88,460.61 L446.43,460.53 L446.97,460.15 L447.51,460.67 L448.06,461.2 L448.6,460.79 L449.14,460.81 L449.69,461.08 L450.23,460.77 L450.77,460.58 L451.32,460.55 L451.86,460.56 L452.4,460.58 L452.95,461.06 L453.49,461.04 L454.03,460.52 L454.58,460.74 L455.12,460.51 L455.66,460.64 L456.21,460.71 L456.75,460.34 L457.29,460.37 L457.84,460.28 L458.38,460.6 L458.92,460.97 L459.47,460.91 L460.01,460.38 L460.55,460.19 L461.1,460.34 L461.64,460.29 L462.18,460.84 L462.72,460.89 L463.27,460.5 L463.81,460.73 L464.35,461.05 L464.9,461.25 L465.44,460.47 L465.98,460.07 L466.53,460.45 L467.07,460.13 L467.61,460.27 L468.16,460.2 L468.7,459.57 L469.24,459.64 L469.79,460.17 L470.33,460.91 L470.87,460.79 L471.42,459.97 L471.96,459.63 L472.5,459.85 L473.05,460.32 L473.59,460.45 L474.13,460.13 L474.68,459.88 L475.22,459.66 L475.76,459.91 L476.31,460.1 L476.85,459.32 L477.39,460.05 L477.94,460.93 L478.48,460.71 L479.02,460.67 L479.57,460.29 L480.11,460.49 L480.65,460.48 L481.19,460.71 L481.74,461.05 L482.28,460.04 L482.82,460.22 L483.37,461.24 L483.91,460.94 L484.45,460.7 L485,460.71 L485.54,460.25 L486.08,459.62 L486.63,460.12 L487.17,460.69 L487.71,460.46 L488.26,460.28 L488.8,459.93" fill="none" stroke="#111" stroke-width="1.2" stroke-linejoin="round"/>
<path d="M364.4,472.29 L364.94,470.42 L365.49,468.55 L366.03,467.09 L366.57,466.23 L367.12,465.93 L367.66,465.04 L368.2,464.19 L368.75,463.49 L369.29,463.51 L369.83,463.32 L370.38,462.62 L370.92,463 L371.46,462.78 L372.01,461.74 L372.55,461.41 L373.09,461.62 L373.63,462.25 L374.18,462.33 L374.72,461.72 L375.26,461.83 L375.81,462.19 L376.35,461.73 L376.89,461.73 L377.44,462.14 L377.98,461.85 L378.52,460.96 L379.07,460.88 L379.61,461.88 L380.15,461.74 L380.7,461.98 L381.24,462.07 L381.78,461.16 L382.33,461.3 L382.87,461.65 L383.41,461.71 L383.96,461.56 L384.5,461.69 L385.04,461.6 L385.59,461.28 L386.13,461.09 L386.67,460.84 L387.22,461.23 L387.76,461.27 L388.3,461.09 L388.85,461.21 L389.39,461.4 L389.93,461.66 L390.48,461.8 L391.02,461.87 L391.56,461.72 L392.1,461.3 L392.65,460.81 L393.19,460.86 L393.73,461.08 L394.28,460.68 L394.82,461.34 L395.36,461.34 L395.91,460.99 L396.45,461.64 L396.99,461.47 L397.54,462.03 L398.08,462.1 L398.62,461.19 L399.17,461.66 L399.71,461.65 L400.25,460.78 L400.8,460.72 L401.34,460.94 L401.88,461.23 L402.43,461.49 L402.97,461.07 L403.51,461.07 L404.06,462.09 L404.6,461.8 L405.14,461.16 L405.69,461.54 L406.23,461.91 L406.77,461.53 L407.32,460.94 L407.86,460.85 L408.4,461.41 L408.94,461.93 L409.49,461.04 L410.03,460.22 L410.57,460.47 L411.12,460.64 L411.66,461.09 L412.2,461.56 L412.75,461.98 L413.29,462.14 L413.83,461.64 L414.38,461.74 L414.92,461.47 L415.46,460.76 L416.01,461.02 L416.55,461.65 L417.09,461.2 L417.64,461.19 L418.18,461.87 L418.72,461.49 L419.27,461.3 L419.81,461.36 L420.35,461.34 L420.9,461.63 L421.44,461.39 L421.98,461.45 L422.53,461.91 L423.07,461.87 L423.61,461.1 L424.16,460.34 L424.7,461.07 L425.24,461.42 L425.79,461.04 L426.33,460.99 L426.87,460.81 L427.41,460.94 L427.96,461.11 L428.5,461.01 L429.04,461.34 L429.59,461.2 L430.13,461.37 L430.67,461.09 L431.22,461.47 L431.76,461.7 L432.3,461.18 L432.85,461.8 L433.39,461.64 L433.93,461.59 L434.48,461.56 L435.02,460.88 L435.56,461 L436.11,461.79 L436.65,461.55 L437.19,460.77 L437.74,460.76 L438.28,461.31 L438.82,461.56 L439.37,461.77 L439.91,461.84 L440.45,461.68 L441,460.98 L441.54,461.45 L442.08,462.01 L442.63,461.64 L443.17,461.53 L443.71,461.25 L444.26,461.36 L444.8,461.84 L445.34,462.23 L445.88,461.97 L446.43,462.1 L446.97,461.82 L447.51,461.42 L448.06,461.41 L448.6,461.62 L449.14,461.75 L449.69,461.67 L450.23,462.13 L450.77,461.29 L451.32,461.42 L451.86,462.07 L452.4,461.39 L452.95,460.78 L453.49,460.78 L454.03,460.68 L454.58,460.79 L455.12,461.37 L455.66,461.85 L456.21,461.8 L456.75,461.6 L457.29,462.01 L457.84,462.28 L458.38,461.89 L458.92,461.53 L459.47,461.18 L460.01,460.67 L460.55,461.01 L461.1,461.31 L461.64,461.05 L462.18,460.95 L462.72,461.47 L463.27,461.46 L463.81,461.23 L464.35,461.11 L464.9,461.53 L465.44,462.26 L465.98,461.94 L466.53,461.42 L467.07,461.82 L467.61,461.99 L468.16,461.34 L468.7,460.84 L469.24,460.86 L469.79,461.84 L470.33,461.84 L470.87,462.03 L471.42,462.19 L471.96,461.34 L472.5,461.7 L473.05,461.69 L473.59,461.43 L474.13,461.21 L474.68,460.77 L475.22,460.85 L475.76,461.26 L476.31,461.28 L476.85,460.67 L477.39,460.99 L477.94,461.48 L478.48,461.28 L479.02,461.15 L479.57,460.61 L480.11,461.22 L480.65,461.7 L481.19,461.41 L481.74,461.93 L482.28,462.09 L482.82,461.77 L483.37,461.46 L483.91,461.49 L484.45,461.73 L485,461.81 L485.54,461.44 L486.08,461.4 L486.63,461.63 L487.17,461.69 L487.71,461.65 L488.26,461.83 L488.8,461.83" fill="none" stroke="#111" stroke-width="1.2" stroke-linejoin="round"/>
<line x1="489.6" y1="280.8" x2="489.6" y2="463" stroke="#222" stroke-width="1.1"/>
<path d="M489.9,343.6 L492.9,354.8 L493.4,359.6" fill="none" stroke="#333" stroke-width="0.6"/>
<path d="M493.4,359.61 L493.83,360.57 L494.26,359.79 L494.7,359.58 L495.13,359.26 L495.56,359.4 L495.99,359.3 L496.42,359.08 L496.86,357.84 L497.29,357.22 L497.72,356.64 L498.15,357.06 L498.58,356.57 L499.02,356.07 L499.45,356.09 L499.88,354.73 L500.31,355.04 L500.74,354.58 L501.18,354.26 L501.61,353.14 L502.04,353.68 L502.47,353.3 L502.91,351.55 L503.34,351.17 L503.77,350.82 L504.2,351.11 L504.63,349.8 L505.07,349.22 L505.5,349.46 L505.93,350.4 L506.36,349.68 L506.79,349.52 L507.23,349.86 L507.66,347.87 L508.09,347.71 L508.52,348.89 L508.95,348.27 L509.39,347.47 L509.82,348.2 L510.25,347.56 L510.68,347.48 L511.11,346.7 L511.55,346.56 L511.98,346.52 L512.41,346.89 L512.84,346.51 L513.27,347.21 L513.71,346.78 L514.14,345.54 L514.57,346.38 L515,346.65 L515.43,346.39 L515.87,346.79 L516.3,346.21 L516.73,346.12 L517.16,345.7 L517.59,346.33 L518.03,344.68 L518.46,345.5 L518.89,343.93 L519.32,343.89 L519.75,344.96 L520.19,344.95 L520.62,345.42 L521.05,345.94 L521.48,345.54 L521.92,345.19 L522.35,345.92 L522.78,345.99 L523.21,346.35 L523.64,346.41 L524.08,345.45 L524.51,345.64 L524.94,345.52 L525.37,344.66 L525.8,344.36 L526.24,344.92 L526.67,345.58 L527.1,344.9 L527.53,345.33 L527.96,345.1 L528.4,344.97" fill="none" stroke="#2a2a2a" stroke-width="0.85" stroke-linejoin="round"/>
<path d="M528.4,344.97 L528.83,344.46 L529.26,344.06 L529.69,344.78 L530.12,344.96 L530.56,345.39 L530.99,344.22 L531.42,345.27 L531.85,345.64 L532.28,345.79 L532.72,345.7 L533.15,345.41 L533.58,345.76 L534.01,346.08 L534.44,346.12 L534.88,346.21 L535.31,346.43 L535.74,345.74 L536.17,345.47 L536.6,345.23 L537.04,344.91 L537.47,345.34 L537.9,345.45 L538.33,346.23 L538.76,344.86 L539.2,344.32 L539.63,344.91 L540.06,344.17 L540.49,345.05 L540.93,344.99 L541.36,345 L541.79,345.03 L542.22,345.08 L542.65,345 L543.09,345.64 L543.52,345.63 L543.95,345.7 L544.38,345.13 L544.81,345.11 L545.25,344.18 L545.68,344.94 L546.11,344.48 L546.54,344.02 L546.97,343.55 L547.41,343.58 L547.84,344.17 L548.27,344.28 L548.7,343.87 L549.13,344.32 L549.57,344.46 L550,344.05 L550.43,344.19 L550.86,343.98 L551.29,344.91 L551.73,344.53 L552.16,345.55 L552.59,345.37 L553.02,345 L553.45,345.25 L553.89,345.93 L554.32,345.29 L554.75,345.3 L555.18,345.21 L555.61,345.02 L556.05,344.69 L556.48,344.4 L556.91,344.21 L557.34,344.84 L557.77,344.68 L558.21,344.63 L558.64,344.69 L559.07,345.34 L559.5,344.76 L559.94,345.86 L560.37,345.83 L560.8,345.2 L561.23,345.77 L561.66,343.97 L562.1,345.61 L562.53,345.49 L562.96,345.51 L563.39,344.78 L563.82,346.39 L564.26,344.97 L564.69,344.65 L565.12,345.13 L565.55,344.13 L565.98,343.66 L566.42,345 L566.85,344.44 L567.28,344.85 L567.71,344.32 L568.14,345.13 L568.58,344.44 L569.01,345.6 L569.44,344.89 L569.87,346.22 L570.3,345.36 L570.74,346.14 L571.17,345.62 L571.6,345.83 L572.03,345.5 L572.46,345.76 L572.9,345.79 L573.33,345.1 L573.76,345.07 L574.19,345.02 L574.62,345.81 L575.06,345.17 L575.49,345.67 L575.92,345.85 L576.35,345.78 L576.78,345.89 L577.22,345.83 L577.65,346.7 L578.08,346.66 L578.51,346.49 L578.95,346.24 L579.38,346.77 L579.81,346.34 L580.24,345.97 L580.67,346.5 L581.11,345.61 L581.54,345.34 L581.97,345.41 L582.4,345.24 L582.83,344.8 L583.27,344.43 L583.7,344.31 L584.13,343.37 L584.56,343 L584.99,342.96 L585.43,343.89 L585.86,343.76 L586.29,343.41 L586.72,343.68 L587.15,343.95 L587.59,344.3 L588.02,344.78 L588.45,345.67 L588.88,344.54 L589.31,344.9 L589.75,344.77 L590.18,344.94 L590.61,344.75 L591.04,344.92 L591.47,344.59 L591.91,345.18 L592.34,345.57 L592.77,345.3 L593.2,346.54 L593.63,345.28 L594.07,346.04 L594.5,347.04 L594.93,346.09 L595.36,347.16 L595.79,347.68 L596.23,347.39 L596.66,345.6 L597.09,346.99 L597.52,346.33 L597.96,345.62 L598.39,345.99 L598.82,345 L599.25,345.39 L599.68,344.69 L600.12,344.33 L600.55,343.56 L600.98,344.31 L601.41,344.11 L601.84,344.11 L602.28,344.91 L602.71,344.84 L603.14,345.29 L603.57,345.98 L604,345.38 L604.44,345.01 L604.87,345.51 L605.3,345.52" fill="none" stroke="#151515" stroke-width="1.0" stroke-linejoin="round"/>
<path d="M489.9,343.6 L492.67,363.69 L493.17,372.3" fill="none" stroke="#333" stroke-width="0.6"/>
<path d="M493.17,372.31 L493.6,373.33 L494.03,371.56 L494.47,372.21 L494.9,371.04 L495.33,370.4 L495.76,369.44 L496.2,369.45 L496.63,368.28 L497.06,368 L497.5,367.78 L497.93,367 L498.36,367.02 L498.79,366.31 L499.23,364.96 L499.66,364.39 L500.09,364.06 L500.53,363.12 L500.96,362.51 L501.39,362.1 L501.83,360.44 L502.26,359.77 L502.69,359.36 L503.12,358.26 L503.56,358.45 L503.99,357.31 L504.42,357.14 L504.86,357.55 L505.29,356.55 L505.72,354.97 L506.16,354.78 L506.59,354.42 L507.02,354.23 L507.45,352.25 L507.89,351.63 L508.32,351.83 L508.75,350.92 L509.19,351.4 L509.62,350.18 L510.05,350.37 L510.48,349.94 L510.92,349.69 L511.35,350.25 L511.78,350.1 L512.22,349.68 L512.65,348.95 L513.08,347.85 L513.52,348.73 L513.95,347.3 L514.38,347.94 L514.81,347.5 L515.25,347.35 L515.68,347.19 L516.11,346.37 L516.55,347.47 L516.98,347.12 L517.41,347.07 L517.84,346.82 L518.28,347.24 L518.71,346.49 L519.14,347.49 L519.58,346.43 L520.01,347.04 L520.44,346.87 L520.88,346.84 L521.31,346.72 L521.74,346.12 L522.17,346.75 L522.61,345.94 L523.04,345.27 L523.47,345.5 L523.91,344.45 L524.34,344.28 L524.77,344.7 L525.2,344.78 L525.64,346.22 L526.07,345.16 L526.5,345.34 L526.94,345.23 L527.37,345.67 L527.8,344.43 L528.24,344.67" fill="none" stroke="#2a2a2a" stroke-width="0.85" stroke-linejoin="round"/>
<path d="M528.24,344.67 L528.67,344.29 L529.1,343.96 L529.53,343.72 L529.97,343.28 L530.4,343.68 L530.83,342.96 L531.27,343.1 L531.7,343.25 L532.13,343.54 L532.56,343.72 L533,343.79 L533.43,344.23 L533.86,344.58 L534.3,344.07 L534.73,344.98 L535.16,345.57 L535.6,344.4 L536.03,344.93 L536.46,345.08 L536.89,345.6 L537.33,345.29 L537.76,344.99 L538.19,345.04 L538.63,345.23 L539.06,344.77 L539.49,345.58 L539.92,345.18 L540.36,344.59 L540.79,344.44 L541.22,344.89 L541.66,344.79 L542.09,344.68 L542.52,344.41 L542.96,344.94 L543.39,344.75 L543.82,345.23 L544.25,344.49 L544.69,344.73 L545.12,345.41 L545.55,344.85 L545.99,345.05 L546.42,345.13 L546.85,345.15 L547.29,345.64 L547.72,345.56 L548.15,344.25 L548.58,344.46 L549.02,344.36 L549.45,344.18 L549.88,343.87 L550.32,343.39 L550.75,344.42 L551.18,343.94 L551.61,345.12 L552.05,344.91 L552.48,345.29 L552.91,345.04 L553.35,345.61 L553.78,345.52 L554.21,346.43 L554.65,346.12 L555.08,345.63 L555.51,346.22 L555.94,345.72 L556.38,345.51 L556.81,345.64 L557.24,345.15 L557.68,345.7 L558.11,345.17 L558.54,345.17 L558.97,345.86 L559.41,344.88 L559.84,344.33 L560.27,345.35 L560.71,345.7 L561.14,344.85 L561.57,345.46 L562.01,345.4 L562.44,344.9 L562.87,345.38 L563.3,344.45 L563.74,344.81 L564.17,343.64 L564.6,344.93 L565.04,344.36 L565.47,344.82 L565.9,343.56 L566.33,344.7 L566.77,344.56 L567.2,345.03 L567.63,343.27 L568.07,344.77 L568.5,344.57 L568.93,342.81 L569.37,343.87 L569.8,343.92 L570.23,345.08 L570.66,344.19 L571.1,344.87 L571.53,344.54 L571.96,344.71 L572.4,344.45 L572.83,345.17 L573.26,345.51 L573.69,344.83 L574.13,346.12 L574.56,345.18 L574.99,345.39 L575.43,345.93 L575.86,345.59 L576.29,345.76 L576.73,345.39 L577.16,345.47 L577.59,344.92 L578.02,344.62 L578.46,345.24 L578.89,345.55 L579.32,345.22 L579.76,344.82 L580.19,345.23 L580.62,344.73 L581.05,344.57 L581.49,345.2 L581.92,344.95 L582.35,345.1 L582.79,344.68 L583.22,344.48 L583.65,344.88 L584.09,344.9 L584.52,344.74 L584.95,345.31 L585.38,345.11 L585.82,345.54 L586.25,344.98 L586.68,345.4 L587.12,344.88 L587.55,345.27 L587.98,344.38 L588.42,344.33 L588.85,345.06 L589.28,344.28 L589.71,344.11 L590.15,344.57 L590.58,344.96 L591.01,344.24 L591.45,344.66 L591.88,344.52 L592.31,344.67 L592.74,344.62 L593.18,344.71 L593.61,345.48 L594.04,345.48 L594.48,345.2 L594.91,345.23 L595.34,345.71 L595.78,345.78 L596.21,345.97 L596.64,345.38 L597.07,345.47 L597.51,345.99 L597.94,345.34 L598.37,346 L598.81,345.58 L599.24,345.28 L599.67,344.75 L600.1,345.83 L600.54,345.51 L600.97,346.2 L601.4,345.6 L601.84,346.76 L602.27,345.97 L602.7,345.9 L603.14,346.25 L603.57,345.86 L604,345.9 L604.43,345.89 L604.87,345.44 L605.3,344" fill="none" stroke="#151515" stroke-width="1.0" stroke-linejoin="round"/>
<path d="M489.9,343.6 L492.43,368.8 L492.93,379.6" fill="none" stroke="#333" stroke-width="0.6"/>
<path d="M492.93,379.61 L493.37,378.58 L493.8,378.35 L494.23,378.17 L494.67,376.81 L495.1,375.91 L495.54,376.11 L495.97,375.38 L496.4,374.45 L496.84,372.75 L497.27,372.5 L497.71,372.04 L498.14,371.45 L498.57,370.31 L499.01,369.72 L499.44,369.68 L499.87,368.34 L500.31,367.72 L500.74,367.53 L501.18,366.82 L501.61,366.03 L502.04,364.69 L502.48,363.99 L502.91,364.37 L503.35,362.88 L503.78,361.84 L504.21,362.15 L504.65,360.32 L505.08,359.51 L505.51,358.98 L505.95,358.49 L506.38,358.2 L506.82,357.66 L507.25,356.18 L507.68,355.93 L508.12,355.8 L508.55,354.73 L508.99,354.13 L509.42,354.57 L509.85,353.45 L510.29,352.43 L510.72,351.9 L511.15,351.36 L511.59,351.01 L512.02,350.3 L512.46,350 L512.89,348.61 L513.32,349.19 L513.76,349.15 L514.19,347.96 L514.63,348.5 L515.06,348.63 L515.49,348.01 L515.93,348.74 L516.36,348.19 L516.79,347.55 L517.23,347.63 L517.66,347.66 L518.1,347.34 L518.53,347.02 L518.96,346.59 L519.4,345.99 L519.83,345.98 L520.27,346.2 L520.7,345.95 L521.13,345.79 L521.57,346.42 L522,346.13 L522.44,345.97 L522.87,345.04 L523.3,345.39 L523.74,345.54 L524.17,345.52 L524.6,345.48 L525.04,345.65 L525.47,344.93 L525.91,344.11 L526.34,345.46 L526.77,344.94 L527.21,345.21 L527.64,344.92 L528.08,344.96" fill="none" stroke="#2a2a2a" stroke-width="0.85" stroke-linejoin="round"/>
<path d="M528.08,344.96 L528.51,345.35 L528.94,343.95 L529.38,344.17 L529.81,344.2 L530.24,344.87 L530.68,345.07 L531.11,345.03 L531.55,345.03 L531.98,344.38 L532.41,345.21 L532.85,345.42 L533.28,345.31 L533.72,345.88 L534.15,345.1 L534.58,344.49 L535.02,344.34 L535.45,344.77 L535.88,345.13 L536.32,343.96 L536.75,344.43 L537.19,344.35 L537.62,344.27 L538.05,344.65 L538.49,343.93 L538.92,344.34 L539.36,344.05 L539.79,343.88 L540.22,343.07 L540.66,343.88 L541.09,343.07 L541.52,343.72 L541.96,343.54 L542.39,344.42 L542.83,344.39 L543.26,343.92 L543.69,344.49 L544.13,345.29 L544.56,345.22 L545,346.88 L545.43,345.22 L545.86,346.64 L546.3,345.9 L546.73,346.78 L547.16,345.63 L547.6,346.38 L548.03,345.3 L548.47,345.67 L548.9,345.53 L549.33,345.37 L549.77,344.67 L550.2,343.38 L550.64,344.28 L551.07,344.36 L551.5,345.79 L551.94,345.8 L552.37,345.36 L552.8,345.61 L553.24,345.02 L553.67,344.94 L554.11,346.1 L554.54,344.95 L554.97,345.07 L555.41,344.93 L555.84,345.09 L556.28,345.3 L556.71,345.65 L557.14,345.47 L557.58,346.14 L558.01,345.81 L558.44,345.89 L558.88,345.45 L559.31,345.33 L559.75,345.21 L560.18,345.75 L560.61,345.62 L561.05,345.1 L561.48,344.44 L561.92,344.91 L562.35,345.8 L562.78,346.32 L563.22,345.42 L563.65,346.13 L564.08,345.94 L564.52,345.98 L564.95,345.41 L565.39,345.84 L565.82,345.32 L566.25,346.01 L566.69,344.37 L567.12,344.48 L567.56,344.54 L567.99,344.8 L568.42,344.84 L568.86,345.09 L569.29,345.35 L569.72,344.71 L570.16,344.92 L570.59,345.25 L571.03,344.64 L571.46,344.3 L571.89,344.74 L572.33,345.56 L572.76,345.56 L573.2,344.74 L573.63,345.09 L574.06,345.32 L574.5,345.64 L574.93,344.41 L575.36,344.81 L575.8,345.47 L576.23,345.63 L576.67,345.41 L577.1,345.3 L577.53,345.43 L577.97,344.3 L578.4,345.98 L578.84,345.08 L579.27,345.44 L579.7,344.75 L580.14,344.83 L580.57,345.55 L581,345.49 L581.44,344.81 L581.87,344.49 L582.31,345.23 L582.74,345.39 L583.17,345.72 L583.61,345.04 L584.04,345.54 L584.48,345.74 L584.91,345.33 L585.34,346.1 L585.78,344.98 L586.21,345.1 L586.64,345.29 L587.08,346.11 L587.51,345.95 L587.95,345.51 L588.38,346.26 L588.81,346.41 L589.25,346.03 L589.68,346.1 L590.12,346.13 L590.55,346.39 L590.98,345.98 L591.42,345.22 L591.85,344.84 L592.28,344.99 L592.72,344.66 L593.15,344.24 L593.59,343.89 L594.02,344.04 L594.45,344.24 L594.89,344.2 L595.32,344.05 L595.76,344.42 L596.19,344.13 L596.62,344.44 L597.06,344.57 L597.49,344.51 L597.92,345.1 L598.36,345.4 L598.79,345.59 L599.23,345.77 L599.66,345.68 L600.09,345.67 L600.53,345.34 L600.96,345.6 L601.4,345.63 L601.83,344.38 L602.26,345.29 L602.7,345.54 L603.13,345.27 L603.56,344.86 L604,344.96 L604.43,344.67 L604.87,345.29 L605.3,345.41" fill="none" stroke="#151515" stroke-width="1.0" stroke-linejoin="round"/>
<path d="M489.9,343.6 L492.2,373 L492.7,385.6" fill="none" stroke="#333" stroke-width="0.6"/>
<path d="M492.7,385.61 L493.13,384.76 L493.57,385 L494,384.6 L494.44,384.14 L494.87,383.12 L495.31,382.66 L495.74,382.29 L496.18,380.99 L496.61,379.74 L497.05,379.49 L497.48,377.99 L497.92,377.11 L498.35,375.65 L498.79,374.61 L499.22,372.89 L499.66,373.26 L500.09,371.8 L500.53,371.9 L500.96,371.14 L501.39,369.01 L501.83,369.19 L502.26,368.02 L502.7,367.09 L503.13,365.86 L503.57,365.41 L504,364.27 L504.44,363.97 L504.87,363.12 L505.31,361.72 L505.74,360.6 L506.18,360.63 L506.61,358.91 L507.05,358.34 L507.48,357.62 L507.92,357.19 L508.35,356.87 L508.79,355.71 L509.22,355.61 L509.66,355.84 L510.09,355.29 L510.52,354.57 L510.96,353.97 L511.39,353.57 L511.83,353.86 L512.26,352.84 L512.7,352.41 L513.13,351.73 L513.57,351.12 L514,351.13 L514.44,350.69 L514.87,349.98 L515.31,350.15 L515.74,349.77 L516.18,349 L516.61,348.68 L517.05,349.05 L517.48,349.28 L517.92,349.37 L518.35,348.86 L518.78,348.46 L519.22,348.04 L519.65,348.04 L520.09,347.64 L520.52,346.72 L520.96,347.12 L521.39,346.99 L521.83,346.48 L522.26,345.81 L522.7,346.89 L523.13,346.1 L523.57,346.77 L524,347.71 L524.44,347.2 L524.87,346.42 L525.31,345.95 L525.74,345.74 L526.18,345.39 L526.61,345.72 L527.05,345.27 L527.48,345.17 L527.91,345.8 L528.35,345.35" fill="none" stroke="#2a2a2a" stroke-width="0.85" stroke-linejoin="round"/>
<path d="M528.35,345.35 L528.78,345.2 L529.22,345.95 L529.65,345.37 L530.09,345.17 L530.52,345.63 L530.96,345.41 L531.39,344.88 L531.83,345.05 L532.26,344.88 L532.7,344.79 L533.13,345.78 L533.57,345.85 L534,345.02 L534.44,345.33 L534.87,344.94 L535.31,346 L535.74,345.3 L536.17,344.95 L536.61,345.4 L537.04,344.62 L537.48,344.43 L537.91,344.71 L538.35,343.71 L538.78,344.23 L539.22,344.07 L539.65,343.71 L540.09,343.85 L540.52,344.11 L540.96,343.27 L541.39,344.34 L541.83,343.99 L542.26,344.8 L542.7,344.19 L543.13,344.13 L543.57,343.78 L544,345.06 L544.44,344.15 L544.87,344.72 L545.3,344.1 L545.74,344.32 L546.17,344.67 L546.61,344.54 L547.04,344.42 L547.48,345.89 L547.91,345.37 L548.35,346.24 L548.78,345.46 L549.22,346.07 L549.65,345.55 L550.09,345.79 L550.52,345.16 L550.96,345.27 L551.39,345.21 L551.83,344.14 L552.26,345.32 L552.7,344.48 L553.13,345.04 L553.56,344.72 L554,345.42 L554.43,345.37 L554.87,345.35 L555.3,345.43 L555.74,345.27 L556.17,345.54 L556.61,346.31 L557.04,345.57 L557.48,346.03 L557.91,345.69 L558.35,345.89 L558.78,346.32 L559.22,346.39 L559.65,345.95 L560.09,346.89 L560.52,345.44 L560.96,345.86 L561.39,345.68 L561.83,344.18 L562.26,345.31 L562.69,345.49 L563.13,345.58 L563.56,344.57 L564,344.79 L564.43,344.08 L564.87,344.21 L565.3,344.72 L565.74,345.16 L566.17,346.13 L566.61,345.73 L567.04,346.09 L567.48,345.03 L567.91,345.09 L568.35,345.84 L568.78,346.74 L569.22,345.42 L569.65,345.29 L570.09,345.72 L570.52,346.15 L570.95,344.64 L571.39,345.25 L571.82,344.87 L572.26,346.07 L572.69,345.51 L573.13,345.24 L573.56,345.02 L574,345.1 L574.43,344.94 L574.87,344.59 L575.3,344.59 L575.74,344.18 L576.17,344.46 L576.61,344.16 L577.04,345.12 L577.48,344.27 L577.91,345.56 L578.35,345.04 L578.78,345.24 L579.22,344.9 L579.65,344.27 L580.08,344.31 L580.52,345.41 L580.95,344.59 L581.39,344.52 L581.82,344.52 L582.26,344.77 L582.69,345.15 L583.13,344.7 L583.56,344.5 L584,345.28 L584.43,345.74 L584.87,344.91 L585.3,345.12 L585.74,345.58 L586.17,344.41 L586.61,344.05 L587.04,344.24 L587.48,344.97 L587.91,345.92 L588.34,345.18 L588.78,345.69 L589.21,345.2 L589.65,345.86 L590.08,345.71 L590.52,346.16 L590.95,345.77 L591.39,345.86 L591.82,345.81 L592.26,344.24 L592.69,346.26 L593.13,345.47 L593.56,345.55 L594,345.73 L594.43,345.74 L594.87,345.7 L595.3,345.26 L595.74,346.5 L596.17,346.41 L596.61,346.16 L597.04,345.16 L597.47,345.95 L597.91,345.37 L598.34,345.44 L598.78,345.93 L599.21,345.85 L599.65,345.13 L600.08,344.59 L600.52,344.34 L600.95,344.97 L601.39,344.73 L601.82,344.75 L602.26,344.09 L602.69,344.94 L603.13,344.95 L603.56,345.02 L604,345.61 L604.43,344.6 L604.87,344.83 L605.3,345.44" fill="none" stroke="#151515" stroke-width="1.0" stroke-linejoin="round"/>
<path d="M489.9,343.6 L491.97,376.5 L492.47,390.6" fill="none" stroke="#333" stroke-width="0.6"/>
<path d="M492.47,390.61 L492.9,390.95 L493.34,390.41 L493.77,389.33 L494.21,389.08 L494.64,388.06 L495.08,387.61 L495.52,386.99 L495.95,386.13 L496.39,385.04 L496.82,383.8 L497.26,382.87 L497.69,382.47 L498.13,380.73 L498.57,379.65 L499,378.61 L499.44,377.24 L499.87,376.55 L500.31,375.16 L500.74,374.28 L501.18,372.97 L501.62,372.48 L502.05,371.78 L502.49,370.23 L502.92,369.65 L503.36,367.7 L503.79,366.74 L504.23,365.48 L504.66,365.56 L505.1,364.23 L505.54,363.88 L505.97,361.72 L506.41,361.25 L506.84,361.05 L507.28,360.47 L507.71,359.01 L508.15,358.77 L508.59,359.32 L509.02,357.83 L509.46,356.84 L509.89,355.1 L510.33,355.65 L510.76,355.92 L511.2,355.24 L511.64,354.49 L512.07,353.98 L512.51,352.9 L512.94,352.03 L513.38,350.37 L513.81,351.7 L514.25,350.01 L514.68,349.34 L515.12,349.85 L515.56,349.11 L515.99,348.95 L516.43,348.62 L516.86,349.31 L517.3,349.53 L517.73,348.92 L518.17,348.98 L518.61,348.76 L519.04,348.37 L519.48,347.57 L519.91,347.11 L520.35,347.56 L520.78,347.26 L521.22,347.26 L521.66,346.47 L522.09,345.84 L522.53,345.07 L522.96,345.72 L523.4,345.62 L523.83,346.78 L524.27,346.64 L524.7,346.55 L525.14,345.24 L525.58,344.91 L526.01,345.84 L526.45,345.72 L526.88,347.18 L527.32,346.46 L527.75,345.96 L528.19,346.05" fill="none" stroke="#2a2a2a" stroke-width="0.85" stroke-linejoin="round"/>
<path d="M528.19,346.05 L528.63,346.79 L529.06,345.52 L529.5,345.95 L529.93,345.53 L530.37,345.41 L530.8,344.74 L531.24,344.65 L531.68,344.77 L532.11,345.29 L532.55,344.99 L532.98,344.09 L533.42,344.3 L533.85,344.59 L534.29,344.26 L534.72,344.56 L535.16,344.63 L535.6,345.19 L536.03,344.73 L536.47,344.07 L536.9,343.87 L537.34,343.67 L537.77,343.5 L538.21,343.71 L538.65,343.15 L539.08,343.79 L539.52,342.53 L539.95,343.53 L540.39,344.33 L540.82,344.14 L541.26,344.69 L541.7,344.8 L542.13,344.96 L542.57,345.55 L543,345.12 L543.44,344.45 L543.87,344.65 L544.31,345.01 L544.74,344.82 L545.18,344.84 L545.62,344.28 L546.05,344.74 L546.49,344.3 L546.92,344.13 L547.36,345.38 L547.79,345.43 L548.23,344.97 L548.67,344.32 L549.1,344.37 L549.54,344.4 L549.97,344.38 L550.41,344.41 L550.84,344.79 L551.28,345.6 L551.72,345.93 L552.15,345.09 L552.59,345.75 L553.02,345.93 L553.46,345.65 L553.89,345.64 L554.33,345.36 L554.76,345.64 L555.2,345.65 L555.64,344.93 L556.07,344.76 L556.51,345.28 L556.94,345.39 L557.38,344.67 L557.81,344.7 L558.25,345.4 L558.69,345.94 L559.12,345.06 L559.56,346.32 L559.99,345.21 L560.43,345.37 L560.86,344.85 L561.3,345.14 L561.74,344.83 L562.17,345.34 L562.61,345.06 L563.04,344.18 L563.48,344.33 L563.91,344.51 L564.35,344.56 L564.78,345.74 L565.22,344.31 L565.66,345.85 L566.09,344.95 L566.53,344.75 L566.96,345.7 L567.4,345.46 L567.83,344.63 L568.27,344.91 L568.71,344.87 L569.14,345.11 L569.58,345.42 L570.01,345.1 L570.45,345 L570.88,344.4 L571.32,345.08 L571.75,343.83 L572.19,344.77 L572.63,344.53 L573.06,344.24 L573.5,345.42 L573.93,344.83 L574.37,345.55 L574.8,344.53 L575.24,344.69 L575.68,345.08 L576.11,344.44 L576.55,344.71 L576.98,344.21 L577.42,343.85 L577.85,343.51 L578.29,344.61 L578.73,343.94 L579.16,343.5 L579.6,344.45 L580.03,344.42 L580.47,344.79 L580.9,344.88 L581.34,344.87 L581.77,344.97 L582.21,344.06 L582.65,344.33 L583.08,344.2 L583.52,345.09 L583.95,345.55 L584.39,344.79 L584.82,344.6 L585.26,345.21 L585.7,344.34 L586.13,345.12 L586.57,344.65 L587,344.04 L587.44,345.12 L587.87,344.74 L588.31,344 L588.75,344.57 L589.18,344.86 L589.62,346.03 L590.05,346.56 L590.49,346.29 L590.92,346.7 L591.36,345.41 L591.79,345.98 L592.23,346.71 L592.67,346.63 L593.1,345.26 L593.54,345.75 L593.97,344.81 L594.41,344.64 L594.84,344.15 L595.28,344.71 L595.72,344.65 L596.15,345.12 L596.59,344.45 L597.02,344.98 L597.46,344.87 L597.89,344.97 L598.33,344.82 L598.77,345.31 L599.2,345.18 L599.64,345.6 L600.07,345.42 L600.51,345.73 L600.94,345.42 L601.38,345.44 L601.81,345.15 L602.25,344.37 L602.69,345.65 L603.12,345.28 L603.56,344.4 L603.99,345.44 L604.43,344.15 L604.86,345.03 L605.3,344.93" fill="none" stroke="#151515" stroke-width="1.0" stroke-linejoin="round"/>
<path d="M489.9,343.6 L491.73,379.3 L492.23,394.6" fill="none" stroke="#333" stroke-width="0.6"/>
<path d="M492.23,394.61 L492.67,395.35 L493.11,394.83 L493.54,393.67 L493.98,393.08 L494.42,392.49 L494.85,391.55 L495.29,390 L495.73,389.4 L496.16,388.48 L496.6,387.21 L497.04,386.73 L497.47,385.47 L497.91,383.85 L498.35,382.83 L498.78,382.09 L499.22,379.95 L499.65,379.1 L500.09,377.67 L500.53,376.64 L500.96,374.89 L501.4,374.26 L501.84,373.34 L502.27,371.73 L502.71,370.65 L503.15,369.97 L503.58,369.17 L504.02,367.62 L504.46,367.19 L504.89,366.16 L505.33,365.2 L505.77,364.94 L506.2,364.28 L506.64,362.15 L507.08,361.84 L507.51,360.76 L507.95,360 L508.39,359.41 L508.82,358.9 L509.26,359.23 L509.7,358.4 L510.13,357.24 L510.57,356.95 L511.01,356.41 L511.44,356.23 L511.88,355.93 L512.31,354.76 L512.75,354.79 L513.19,354.7 L513.62,354.02 L514.06,352.58 L514.5,353.11 L514.93,352.56 L515.37,352.27 L515.81,351.63 L516.24,351.92 L516.68,351.26 L517.12,351.44 L517.55,351.19 L517.99,349.5 L518.43,349.85 L518.86,349.87 L519.3,348.71 L519.74,348.91 L520.17,348.04 L520.61,347.3 L521.05,347.02 L521.48,347.03 L521.92,347.35 L522.36,347.62 L522.79,346.63 L523.23,347.32 L523.66,346.67 L524.1,346.89 L524.54,346.7 L524.97,347.13 L525.41,346.97 L525.85,347.29 L526.28,346.18 L526.72,346.83 L527.16,346.24 L527.59,346.09 L528.03,345.22" fill="none" stroke="#2a2a2a" stroke-width="0.85" stroke-linejoin="round"/>
<path d="M528.03,345.22 L528.47,345.89 L528.9,345.31 L529.34,345.17 L529.78,345.27 L530.21,345.22 L530.65,345.41 L531.09,345.55 L531.52,345.83 L531.96,345.97 L532.4,345.01 L532.83,346.12 L533.27,344.92 L533.71,346.47 L534.14,345.6 L534.58,346.79 L535.02,345.43 L535.45,345.74 L535.89,344.43 L536.32,344.61 L536.76,344.99 L537.2,344.94 L537.63,344.33 L538.07,345.8 L538.51,344.63 L538.94,345.22 L539.38,344.74 L539.82,344.84 L540.25,345.83 L540.69,345.28 L541.13,346.19 L541.56,345.03 L542,345.6 L542.44,345.09 L542.87,345.1 L543.31,345.66 L543.75,345.06 L544.18,344.76 L544.62,344.52 L545.06,344.29 L545.49,344.46 L545.93,345.15 L546.37,344.05 L546.8,344.09 L547.24,343.44 L547.68,343.53 L548.11,343.48 L548.55,343.06 L548.98,343.33 L549.42,343.19 L549.86,343.16 L550.29,343.81 L550.73,344.15 L551.17,344.38 L551.6,344.75 L552.04,345.1 L552.48,345.24 L552.91,344.67 L553.35,345.14 L553.79,345.53 L554.22,345.15 L554.66,345.18 L555.1,344.88 L555.53,345.27 L555.97,345.27 L556.41,344.26 L556.84,344.98 L557.28,344.77 L557.72,344.94 L558.15,344.51 L558.59,344.63 L559.03,344.54 L559.46,344.95 L559.9,345.69 L560.34,345.85 L560.77,346.03 L561.21,345.68 L561.64,346.1 L562.08,346.1 L562.52,345.8 L562.95,345.74 L563.39,345.31 L563.83,345.88 L564.26,344.62 L564.7,344.25 L565.14,344.75 L565.57,345.16 L566.01,344.59 L566.45,345.02 L566.88,344.29 L567.32,344.52 L567.76,345.5 L568.19,345.34 L568.63,345.25 L569.07,345.42 L569.5,345.59 L569.94,345.41 L570.38,344.93 L570.81,345.08 L571.25,346.39 L571.69,345.38 L572.12,346.24 L572.56,345.15 L573,345.72 L573.43,345.57 L573.87,345.31 L574.3,346.08 L574.74,344.63 L575.18,345.07 L575.61,344.59 L576.05,344.83 L576.49,345.12 L576.92,344.49 L577.36,344.73 L577.8,345.27 L578.23,343.93 L578.67,344.41 L579.11,344.38 L579.54,344.38 L579.98,345.09 L580.42,344.74 L580.85,344.65 L581.29,345.16 L581.73,346.26 L582.16,345.27 L582.6,345.28 L583.04,345.54 L583.47,345.78 L583.91,345.6 L584.35,345.53 L584.78,345.58 L585.22,346.05 L585.66,345.63 L586.09,345.54 L586.53,345.15 L586.96,346.17 L587.4,345.9 L587.84,346.58 L588.27,345.63 L588.71,345.78 L589.15,345.6 L589.58,345.34 L590.02,345.62 L590.46,345.56 L590.89,344.97 L591.33,345.37 L591.77,345.72 L592.2,344.48 L592.64,345.17 L593.08,345.59 L593.51,345.73 L593.95,345.3 L594.39,345.36 L594.82,346.18 L595.26,345.86 L595.7,345.25 L596.13,345.48 L596.57,346.24 L597.01,346.1 L597.44,345.75 L597.88,345.65 L598.32,345.57 L598.75,345.23 L599.19,345.23 L599.62,345.25 L600.06,344.61 L600.5,345.45 L600.93,345.43 L601.37,345.42 L601.81,344.39 L602.24,344.88 L602.68,345.46 L603.12,345.61 L603.55,344.59 L603.99,345.42 L604.43,344.98 L604.86,345.47 L605.3,345.08" fill="none" stroke="#151515" stroke-width="1.0" stroke-linejoin="round"/>
<path d="M489.9,343.6 L491.5,381.75 L492,398.1" fill="none" stroke="#333" stroke-width="0.6"/>
<path d="M492,398.11 L492.44,398.63 L492.87,397.89 L493.31,396.86 L493.75,395.3 L494.19,395.36 L494.62,394.05 L495.06,393.44 L495.5,392.52 L495.94,390.63 L496.37,390.18 L496.81,387.9 L497.25,386.64 L497.69,385.38 L498.12,384.49 L498.56,383.61 L499,382.8 L499.44,381.13 L499.87,380.24 L500.31,380.13 L500.75,377.63 L501.19,377.27 L501.62,376.63 L502.06,375.74 L502.5,375.22 L502.94,373.84 L503.37,372.48 L503.81,371.19 L504.25,370.73 L504.69,369.55 L505.12,368.62 L505.56,367.32 L506,367.08 L506.44,365.3 L506.87,364.58 L507.31,363.03 L507.75,361.66 L508.19,361.08 L508.62,360.43 L509.06,359.68 L509.5,359.59 L509.94,358.67 L510.37,359.15 L510.81,357.85 L511.25,356.77 L511.69,355.93 L512.12,356.81 L512.56,356.18 L513,355.45 L513.44,354.65 L513.87,353.51 L514.31,352.56 L514.75,354.1 L515.18,353.21 L515.62,351.84 L516.06,352.6 L516.5,350.37 L516.93,351.06 L517.37,350.49 L517.81,349.32 L518.25,349.76 L518.68,348.89 L519.12,348.93 L519.56,349.33 L520,348.93 L520.43,348.24 L520.87,349 L521.31,347.13 L521.75,348.64 L522.18,347.77 L522.62,346.76 L523.06,347.25 L523.5,346.85 L523.93,347.28 L524.37,347.31 L524.81,346.27 L525.25,347.11 L525.68,347.42 L526.12,346.25 L526.56,347.04 L527,347.15 L527.43,346.65 L527.87,347.34 L528.31,345.83" fill="none" stroke="#2a2a2a" stroke-width="0.85" stroke-linejoin="round"/>
<path d="M528.31,345.83 L528.75,346.3 L529.18,345.23 L529.62,346.88 L530.06,345.57 L530.5,345.27 L530.93,346.15 L531.37,345.66 L531.81,345.66 L532.25,345.41 L532.68,345.72 L533.12,346.32 L533.56,345.33 L534,345.46 L534.43,345.22 L534.87,345.24 L535.31,345.51 L535.75,345.03 L536.18,345.34 L536.62,344.16 L537.06,344.33 L537.49,344.12 L537.93,344.39 L538.37,345.3 L538.81,346.01 L539.24,345.96 L539.68,346.06 L540.12,345.38 L540.56,346.41 L540.99,345.85 L541.43,346.24 L541.87,346.45 L542.31,345.92 L542.74,345.85 L543.18,345.3 L543.62,345.84 L544.06,345.5 L544.49,345.08 L544.93,344.9 L545.37,345.77 L545.81,345.28 L546.24,345.21 L546.68,345.67 L547.12,345.56 L547.56,345.08 L547.99,344.31 L548.43,345.24 L548.87,345.51 L549.31,345.31 L549.74,345.06 L550.18,344.03 L550.62,345.44 L551.06,344.65 L551.49,345.44 L551.93,344.97 L552.37,344.92 L552.81,345.01 L553.24,344.46 L553.68,345.95 L554.12,344.64 L554.56,345.35 L554.99,345.06 L555.43,345.41 L555.87,345.99 L556.31,344.73 L556.74,345.38 L557.18,345.47 L557.62,345.21 L558.06,345.61 L558.49,344.99 L558.93,344.67 L559.37,344.93 L559.81,344.86 L560.24,345.49 L560.68,345.47 L561.12,346.39 L561.55,346.06 L561.99,346.1 L562.43,346.19 L562.87,345.48 L563.3,346.35 L563.74,345.83 L564.18,346.53 L564.62,347.55 L565.05,346 L565.49,346.37 L565.93,346.08 L566.37,345.89 L566.8,345.62 L567.24,345.15 L567.68,346.31 L568.12,344.33 L568.55,344.21 L568.99,345.12 L569.43,344.6 L569.87,344.03 L570.3,343.96 L570.74,344.44 L571.18,345.34 L571.62,344.18 L572.05,343.44 L572.49,344.53 L572.93,344.37 L573.37,345.37 L573.8,344.99 L574.24,345.78 L574.68,345.67 L575.12,346.21 L575.55,346 L575.99,346.13 L576.43,345.68 L576.87,345.11 L577.3,345.59 L577.74,345.06 L578.18,346.38 L578.62,345.01 L579.05,344.48 L579.49,345.23 L579.93,344.29 L580.37,344.72 L580.8,344.26 L581.24,344.18 L581.68,345.06 L582.12,344.64 L582.55,345.02 L582.99,344.91 L583.43,344.37 L583.86,344.48 L584.3,345.04 L584.74,345.42 L585.18,345.82 L585.61,346.1 L586.05,345.69 L586.49,346.29 L586.93,345.61 L587.36,345.69 L587.8,347.37 L588.24,347.07 L588.68,346.26 L589.11,347.19 L589.55,347.06 L589.99,346.85 L590.43,346.84 L590.86,346.29 L591.3,346.44 L591.74,346.36 L592.18,346.56 L592.61,345.82 L593.05,346.52 L593.49,347.15 L593.93,346.72 L594.36,347.01 L594.8,347.18 L595.24,345.93 L595.68,347.32 L596.11,345.86 L596.55,345.54 L596.99,345.9 L597.43,345.94 L597.86,344.49 L598.3,344.43 L598.74,344.64 L599.18,344.55 L599.61,345.11 L600.05,344.03 L600.49,344.73 L600.93,345.31 L601.36,344.71 L601.8,344.91 L602.24,344.46 L602.68,344.42 L603.11,345.46 L603.55,345.42 L603.99,344.66 L604.43,345.21 L604.86,344.8 L605.3,344.41" fill="none" stroke="#151515" stroke-width="1.0" stroke-linejoin="round"/>
<path d="M489.9,343.6 L491.27,383.85 L491.77,401.1" fill="none" stroke="#333" stroke-width="0.6"/>
<path d="M491.77,401.11 L492.21,400.96 L492.64,400.53 L493.08,399.32 L493.52,398.87 L493.96,398.21 L494.4,397.05 L494.84,396.39 L495.27,395.91 L495.71,394.45 L496.15,393.51 L496.59,390.51 L497.03,390.65 L497.47,389.7 L497.9,387.69 L498.34,387.79 L498.78,385.76 L499.22,385.74 L499.66,383.28 L500.1,381.74 L500.53,380.75 L500.97,380.01 L501.41,378.79 L501.85,377.58 L502.29,376.84 L502.73,376.12 L503.16,374.49 L503.6,373.82 L504.04,372.69 L504.48,370.97 L504.92,369.92 L505.36,368.99 L505.79,368.13 L506.23,367.67 L506.67,366.49 L507.11,365.04 L507.55,364.45 L507.99,362.75 L508.42,361.31 L508.86,361.79 L509.3,361.02 L509.74,360.68 L510.18,359.73 L510.62,358.78 L511.05,358.09 L511.49,357.75 L511.93,357.4 L512.37,356.83 L512.81,356.14 L513.25,355.57 L513.68,354.1 L514.12,354.57 L514.56,353.43 L515,353.41 L515.44,353.93 L515.88,352.64 L516.31,351.49 L516.75,352.58 L517.19,351.02 L517.63,350.85 L518.07,350.31 L518.51,350.51 L518.94,350.01 L519.38,349.38 L519.82,349.59 L520.26,348.52 L520.7,348.73 L521.14,347.53 L521.57,347.88 L522.01,347.07 L522.45,346.96 L522.89,347.66 L523.33,346.81 L523.77,346.75 L524.2,347.46 L524.64,346.73 L525.08,346.91 L525.52,347.04 L525.96,347.98 L526.4,346.58 L526.83,347.06 L527.27,347.1 L527.71,346.29 L528.15,346.03" fill="none" stroke="#2a2a2a" stroke-width="0.85" stroke-linejoin="round"/>
<path d="M528.15,346.03 L528.59,346.05 L529.03,345.45 L529.46,346.13 L529.9,345.12 L530.34,345.25 L530.78,345.69 L531.22,346.8 L531.66,344.45 L532.1,345.23 L532.53,346.41 L532.97,345.04 L533.41,345.69 L533.85,345.66 L534.29,344.95 L534.73,345.82 L535.16,345.06 L535.6,345.12 L536.04,344.27 L536.48,345.34 L536.92,343.95 L537.36,344.67 L537.79,345.63 L538.23,344.84 L538.67,344.52 L539.11,344.33 L539.55,344.53 L539.99,345.8 L540.42,345.05 L540.86,344.64 L541.3,344.21 L541.74,344.55 L542.18,344.66 L542.62,343.83 L543.05,343.7 L543.49,344 L543.93,344.38 L544.37,344.44 L544.81,343.8 L545.25,344.31 L545.68,344.17 L546.12,344.64 L546.56,344.29 L547,344.47 L547.44,344.69 L547.88,344.26 L548.31,343.12 L548.75,343.83 L549.19,344.65 L549.63,344.23 L550.07,344.35 L550.51,344.13 L550.94,343.75 L551.38,344.08 L551.82,345.15 L552.26,344.34 L552.7,344.43 L553.14,345.49 L553.57,345.18 L554.01,345.17 L554.45,345.47 L554.89,345.08 L555.33,345.05 L555.77,345.08 L556.2,344.69 L556.64,344.67 L557.08,344.74 L557.52,343.67 L557.96,344.28 L558.4,343.89 L558.83,344.65 L559.27,344.57 L559.71,344.56 L560.15,344.53 L560.59,344.54 L561.03,345.09 L561.46,344.94 L561.9,345.6 L562.34,344.61 L562.78,345.6 L563.22,344.86 L563.66,344.96 L564.09,344.33 L564.53,345.56 L564.97,345.35 L565.41,344.15 L565.85,344.49 L566.29,344.52 L566.72,344.48 L567.16,345.46 L567.6,345.55 L568.04,344.34 L568.48,345.18 L568.92,345.01 L569.36,345.88 L569.79,344.14 L570.23,344.76 L570.67,345.65 L571.11,345.06 L571.55,345.7 L571.99,345.37 L572.42,346.13 L572.86,345.4 L573.3,344.89 L573.74,344.68 L574.18,345.14 L574.62,345.69 L575.05,345.06 L575.49,344.63 L575.93,346.45 L576.37,344.62 L576.81,344.99 L577.25,345.46 L577.68,344.44 L578.12,344.71 L578.56,344.53 L579,343.93 L579.44,345.04 L579.88,344.45 L580.31,344.53 L580.75,345.41 L581.19,344.45 L581.63,345.3 L582.07,345.81 L582.51,346.07 L582.94,345.53 L583.38,345.89 L583.82,345.25 L584.26,345.61 L584.7,345.71 L585.14,345.26 L585.57,345.18 L586.01,346.15 L586.45,345.68 L586.89,346.32 L587.33,346.52 L587.77,345.7 L588.2,346.79 L588.64,346.92 L589.08,346.79 L589.52,346.02 L589.96,346.62 L590.4,346.46 L590.83,345.47 L591.27,346.22 L591.71,344.45 L592.15,345.67 L592.59,344.78 L593.03,344.98 L593.46,345.4 L593.9,345.84 L594.34,345.09 L594.78,345.29 L595.22,345.23 L595.66,345.03 L596.09,345.33 L596.53,345.1 L596.97,345.54 L597.41,345.03 L597.85,343.89 L598.29,344.46 L598.72,344.98 L599.16,344.21 L599.6,344.48 L600.04,344.21 L600.48,344.08 L600.92,344.66 L601.35,343.76 L601.79,344.32 L602.23,343.79 L602.67,344.69 L603.11,344.52 L603.55,345.49 L603.98,345.63 L604.42,344.62 L604.86,345.55 L605.3,344.74" fill="none" stroke="#151515" stroke-width="1.0" stroke-linejoin="round"/>
<path d="M489.9,343.6 L491.03,385.6 L491.53,403.6" fill="none" stroke="#333" stroke-width="0.6"/>
<path d="M491.53,403.61 L491.97,403.01 L492.41,401.87 L492.85,402.84 L493.29,402.36 L493.73,400.14 L494.17,399.55 L494.61,398.99 L495.05,398.37 L495.49,396.66 L495.93,396.46 L496.37,396 L496.8,394.13 L497.24,391.84 L497.68,391.18 L498.12,390.09 L498.56,389.42 L499,387.34 L499.44,385.99 L499.88,385.6 L500.32,384.08 L500.76,382.93 L501.2,381.41 L501.64,380.41 L502.08,379.25 L502.51,377.31 L502.95,376.82 L503.39,375.86 L503.83,374.1 L504.27,373.46 L504.71,371.59 L505.15,370.78 L505.59,368.95 L506.03,368.75 L506.47,367.19 L506.91,366.46 L507.35,365.5 L507.79,365.46 L508.22,364.83 L508.66,363.65 L509.1,362.72 L509.54,362.49 L509.98,362.35 L510.42,360.64 L510.86,361.1 L511.3,358.47 L511.74,358.64 L512.18,358.05 L512.62,357.7 L513.06,356.2 L513.5,355.29 L513.94,354.02 L514.37,354.35 L514.81,353.7 L515.25,352.95 L515.69,352.79 L516.13,352.81 L516.57,352.34 L517.01,351.95 L517.45,350.32 L517.89,351.31 L518.33,350.68 L518.77,350.67 L519.21,350.19 L519.65,349.84 L520.08,349.98 L520.52,349.05 L520.96,347.96 L521.4,348.47 L521.84,348.26 L522.28,348.08 L522.72,347.6 L523.16,347.16 L523.6,347.56 L524.04,346.62 L524.48,348.05 L524.92,347.2 L525.36,346.79 L525.8,347.71 L526.23,347.58 L526.67,347.85 L527.11,347.92 L527.55,347.37 L527.99,346.48 L528.43,346.51" fill="none" stroke="#2a2a2a" stroke-width="0.85" stroke-linejoin="round"/>
<path d="M528.43,346.51 L528.87,345.72 L529.31,345.43 L529.75,346.19 L530.19,345.99 L530.63,345.54 L531.07,345.1 L531.51,344.91 L531.94,344.51 L532.38,345.4 L532.82,345.31 L533.26,345.81 L533.7,344.94 L534.14,344.8 L534.58,345.61 L535.02,345.87 L535.46,344.39 L535.9,345.34 L536.34,345.41 L536.78,344.3 L537.22,344.15 L537.65,344.83 L538.09,344.77 L538.53,344.68 L538.97,345.69 L539.41,345.38 L539.85,344.93 L540.29,344.19 L540.73,344.54 L541.17,345.31 L541.61,345.28 L542.05,345.54 L542.49,345.89 L542.93,345.19 L543.37,345.49 L543.8,346.49 L544.24,346.41 L544.68,345.78 L545.12,345.97 L545.56,345.53 L546,345.43 L546.44,345.62 L546.88,345.28 L547.32,345.43 L547.76,345.96 L548.2,344.6 L548.64,343.99 L549.08,345.04 L549.51,344.85 L549.95,345.48 L550.39,345.2 L550.83,345.63 L551.27,345.25 L551.71,345.97 L552.15,346.2 L552.59,345 L553.03,344.26 L553.47,344.89 L553.91,345.02 L554.35,345.01 L554.79,344.68 L555.23,344.78 L555.66,345.43 L556.1,344.45 L556.54,344.37 L556.98,344.74 L557.42,343.54 L557.86,344.9 L558.3,343.94 L558.74,343.61 L559.18,343.77 L559.62,344.49 L560.06,344.55 L560.5,344.84 L560.94,344.55 L561.37,344.43 L561.81,345.38 L562.25,345.1 L562.69,346.08 L563.13,344.34 L563.57,346 L564.01,345.16 L564.45,345.25 L564.89,344.9 L565.33,344.94 L565.77,344.47 L566.21,344.12 L566.65,345.46 L567.08,345.44 L567.52,345.31 L567.96,345.33 L568.4,345.13 L568.84,345.58 L569.28,345.59 L569.72,345.85 L570.16,344.97 L570.6,345.38 L571.04,345.4 L571.48,345.14 L571.92,344.88 L572.36,345.44 L572.8,345.06 L573.23,344.41 L573.67,345.66 L574.11,346.1 L574.55,345.15 L574.99,346.16 L575.43,345.02 L575.87,345.55 L576.31,346.16 L576.75,345.47 L577.19,345.79 L577.63,345.26 L578.07,345.54 L578.51,345.21 L578.94,345.83 L579.38,345.96 L579.82,345.35 L580.26,344.72 L580.7,345.38 L581.14,345.2 L581.58,345.86 L582.02,345.85 L582.46,345.38 L582.9,345.88 L583.34,345.31 L583.78,346.38 L584.22,346.25 L584.66,346.79 L585.09,345.93 L585.53,345.37 L585.97,345.17 L586.41,346.05 L586.85,345.11 L587.29,345.92 L587.73,345.34 L588.17,345.68 L588.61,344.77 L589.05,344.74 L589.49,344.76 L589.93,345.08 L590.37,344.25 L590.8,344.97 L591.24,344.5 L591.68,345.26 L592.12,345.57 L592.56,345.35 L593,345.61 L593.44,346.05 L593.88,345.32 L594.32,346.07 L594.76,345.31 L595.2,345.54 L595.64,345.15 L596.08,345.71 L596.51,344.58 L596.95,344.75 L597.39,345.05 L597.83,344.49 L598.27,344.42 L598.71,345.22 L599.15,345.53 L599.59,345.61 L600.03,345.34 L600.47,346.05 L600.91,345.77 L601.35,346.23 L601.79,345.48 L602.23,346.14 L602.66,346.34 L603.1,345.12 L603.54,345.1 L603.98,345.58 L604.42,345.49 L604.86,345.49 L605.3,345.18" fill="none" stroke="#151515" stroke-width="1.0" stroke-linejoin="round"/>
<path d="M489.9,343.6 L490.8,387.14 L491.3,405.8" fill="none" stroke="#333" stroke-width="0.6"/>
<path d="M491.3,405.81 L491.74,406.04 L492.18,405.09 L492.62,404.77 L493.06,404.63 L493.5,403.46 L493.94,402.79 L494.38,401.43 L494.82,400.73 L495.26,399.3 L495.7,397.92 L496.14,397.21 L496.58,396.94 L497.02,393.96 L497.46,392.63 L497.9,391.53 L498.34,389.57 L498.78,389.71 L499.22,387.38 L499.66,386.31 L500.1,385.04 L500.54,384.62 L500.98,383.12 L501.42,382.04 L501.86,381.16 L502.3,380.41 L502.74,377.85 L503.18,376.99 L503.62,376.46 L504.06,374.3 L504.5,373.58 L504.94,372.54 L505.38,371.9 L505.83,370.54 L506.27,370.07 L506.71,368.78 L507.15,368.32 L507.59,367.05 L508.03,366.17 L508.47,365.04 L508.91,365.05 L509.35,362.59 L509.79,361.83 L510.23,361.69 L510.67,360.35 L511.11,358.43 L511.55,358.41 L511.99,357.3 L512.43,357.29 L512.87,355.83 L513.31,356.27 L513.75,356.74 L514.19,356.28 L514.63,355.35 L515.07,355.25 L515.51,353.96 L515.95,354.71 L516.39,353.68 L516.83,353.92 L517.27,353.35 L517.71,352.42 L518.15,352.36 L518.59,352.26 L519.03,351.93 L519.47,352.08 L519.91,351.86 L520.35,351.29 L520.79,351.08 L521.23,350.14 L521.67,349.79 L522.11,349.37 L522.55,348.34 L522.99,347.21 L523.43,347.21 L523.87,346.65 L524.31,346.86 L524.75,347.29 L525.19,346.19 L525.63,346.13 L526.07,346.65 L526.51,346.99 L526.95,347.19 L527.39,346.52 L527.83,346.96 L528.27,347.04" fill="none" stroke="#2a2a2a" stroke-width="0.85" stroke-linejoin="round"/>
<path d="M528.27,347.04 L528.71,346.65 L529.15,346.76 L529.59,347.13 L530.03,347.34 L530.47,347.44 L530.91,346.37 L531.35,346.92 L531.79,346.32 L532.23,345.77 L532.67,346.07 L533.11,346.63 L533.55,346.77 L533.99,345.69 L534.44,346.52 L534.88,345.09 L535.32,344.96 L535.76,345.02 L536.2,345.56 L536.64,344.98 L537.08,345.12 L537.52,343.49 L537.96,344.12 L538.4,344.07 L538.84,344.62 L539.28,344.26 L539.72,344.95 L540.16,344.32 L540.6,344.08 L541.04,343.66 L541.48,344.57 L541.92,344.57 L542.36,343.69 L542.8,344.59 L543.24,344.11 L543.68,344.29 L544.12,343.65 L544.56,344.05 L545,344.49 L545.44,344.96 L545.88,344.47 L546.32,345.11 L546.76,345.26 L547.2,344.16 L547.64,344.82 L548.08,344.01 L548.52,344.99 L548.96,344.38 L549.4,344.69 L549.84,344.6 L550.28,344.97 L550.72,345.54 L551.16,345.04 L551.6,345.06 L552.04,345.31 L552.48,345.07 L552.92,345.11 L553.36,345.05 L553.8,344.92 L554.24,345.9 L554.68,345.58 L555.12,345.5 L555.56,345.61 L556,345.22 L556.44,345.38 L556.88,345.56 L557.32,345.29 L557.76,344.88 L558.2,346.14 L558.64,345.53 L559.08,346.38 L559.52,345.27 L559.96,345.81 L560.4,345.49 L560.84,345.11 L561.28,345.7 L561.72,345.4 L562.16,345.22 L562.61,345.01 L563.05,344.03 L563.49,344.48 L563.93,344.65 L564.37,345.38 L564.81,345.05 L565.25,344.84 L565.69,344.92 L566.13,344.65 L566.57,345.22 L567.01,344.81 L567.45,344.38 L567.89,345.12 L568.33,345.43 L568.77,345.11 L569.21,345.42 L569.65,345.76 L570.09,345.85 L570.53,345.59 L570.97,346.24 L571.41,345.71 L571.85,346.05 L572.29,344.49 L572.73,345.25 L573.17,345.41 L573.61,345.08 L574.05,344.64 L574.49,345.64 L574.93,345.01 L575.37,344.56 L575.81,344.77 L576.25,345.08 L576.69,345.45 L577.13,345.29 L577.57,345.23 L578.01,345.76 L578.45,346.09 L578.89,346.71 L579.33,345.84 L579.77,346.11 L580.21,346.27 L580.65,345.78 L581.09,345.68 L581.53,345.2 L581.97,344.68 L582.41,345.31 L582.85,343.78 L583.29,343.64 L583.73,343.06 L584.17,344.05 L584.61,344.56 L585.05,343.94 L585.49,344.81 L585.93,344.38 L586.37,345.57 L586.81,345.28 L587.25,345.25 L587.69,346.4 L588.13,345.73 L588.57,345.96 L589.01,345.79 L589.45,345.86 L589.89,345.62 L590.33,344.83 L590.77,345.25 L591.22,345.3 L591.66,345.39 L592.1,345.04 L592.54,345.93 L592.98,344.67 L593.42,344.89 L593.86,344.95 L594.3,344.88 L594.74,344.85 L595.18,345.4 L595.62,345.39 L596.06,345.01 L596.5,344.49 L596.94,344.95 L597.38,345.01 L597.82,345.61 L598.26,345.83 L598.7,345.18 L599.14,345.55 L599.58,345.57 L600.02,343.89 L600.46,345.01 L600.9,344.42 L601.34,344.87 L601.78,344.56 L602.22,344 L602.66,343.71 L603.1,344.17 L603.54,343.77 L603.98,344.46 L604.42,344.07 L604.86,345.17 L605.3,344.16" fill="none" stroke="#151515" stroke-width="1.0" stroke-linejoin="round"/>
<text x="421.35" y="370.7" font-size="17.5" font-style="italic" transform="rotate(0.22 421.35 370.7)" fill="#111">I</text>
<text x="424.92" y="377.2" font-size="11" transform="rotate(0.22 424.92 377.2)" fill="#111">K(M)</text>
<line x1="415.6" y1="370" x2="393.61" y2="377.82" stroke="#111" stroke-width="1"/>
<path d="M388.9,379.5 L392.94,375.94 L394.28,379.71 Z" fill="#111"/>
<text x="515.05" y="326.7" font-size="17.5" font-style="italic" transform="rotate(0.22 515.05 326.7)" fill="#111">I</text>
<text x="517.72" y="333.6" font-size="11" transform="rotate(0.22 517.72 333.6)" fill="#111">K(A)</text>
<line x1="512.5" y1="330.8" x2="497.42" y2="348.68" stroke="#111" stroke-width="1"/>
<path d="M494.2,352.5 L495.89,347.39 L498.95,349.97 Z" fill="#111"/>
<line x1="332.8" y1="457.5" x2="350.9" y2="457.5" stroke="#111" stroke-width="1"/>
<path d="M355.9,457.5 L350.9,459.5 L350.9,455.5 Z" fill="#111"/>
<line x1="533" y1="414" x2="533" y2="437" stroke="#111" stroke-width="1.3"/>
<text x="535.98" y="432.2" font-size="13.9" transform="rotate(0.22 535.98 432.2)" fill="#111">200 pA</text>
<line x1="45.6" y1="579.9" x2="45.6" y2="708.2" stroke="#111" stroke-width="1.2"/>
<line x1="45" y1="707.7" x2="269.2" y2="708.4" stroke="#111" stroke-width="1.2"/>
<line x1="42.5" y1="707.5" x2="45.6" y2="707.5" stroke="#111" stroke-width="1"/>
<line x1="42.5" y1="679.3" x2="45.6" y2="679.3" stroke="#111" stroke-width="1"/>
<line x1="42.5" y1="651.1" x2="45.6" y2="651.1" stroke="#111" stroke-width="1"/>
<line x1="42.5" y1="622.9" x2="45.6" y2="622.9" stroke="#111" stroke-width="1"/>
<line x1="42.5" y1="594.7" x2="45.6" y2="594.7" stroke="#111" stroke-width="1"/>
<line x1="44" y1="701.86" x2="45.6" y2="701.86" stroke="#111" stroke-width="0.9"/>
<line x1="44" y1="696.22" x2="45.6" y2="696.22" stroke="#111" stroke-width="0.9"/>
<line x1="44" y1="690.58" x2="45.6" y2="690.58" stroke="#111" stroke-width="0.9"/>
<line x1="44" y1="684.94" x2="45.6" y2="684.94" stroke="#111" stroke-width="0.9"/>
<line x1="44" y1="673.66" x2="45.6" y2="673.66" stroke="#111" stroke-width="0.9"/>
<line x1="44" y1="668.02" x2="45.6" y2="668.02" stroke="#111" stroke-width="0.9"/>
<line x1="44" y1="662.38" x2="45.6" y2="662.38" stroke="#111" stroke-width="0.9"/>
<line x1="44" y1="656.74" x2="45.6" y2="656.74" stroke="#111" stroke-width="0.9"/>
<line x1="44" y1="645.46" x2="45.6" y2="645.46" stroke="#111" stroke-width="0.9"/>
<line x1="44" y1="639.82" x2="45.6" y2="639.82" stroke="#111" stroke-width="0.9"/>
<line x1="44" y1="634.18" x2="45.6" y2="634.18" stroke="#111" stroke-width="0.9"/>
<line x1="44" y1="628.54" x2="45.6" y2="628.54" stroke="#111" stroke-width="0.9"/>
<line x1="44" y1="617.26" x2="45.6" y2="617.26" stroke="#111" stroke-width="0.9"/>
<line x1="44" y1="611.62" x2="45.6" y2="611.62" stroke="#111" stroke-width="0.9"/>
<line x1="44" y1="605.98" x2="45.6" y2="605.98" stroke="#111" stroke-width="0.9"/>
<line x1="44" y1="600.34" x2="45.6" y2="600.34" stroke="#111" stroke-width="0.9"/>
<line x1="44" y1="589.06" x2="45.6" y2="589.06" stroke="#111" stroke-width="0.9"/>
<line x1="44" y1="583.42" x2="45.6" y2="583.42" stroke="#111" stroke-width="0.9"/>
<text x="26.95" y="598.25" font-size="10.6" fill="#111">1.0</text>
<text x="27.08" y="626.45" font-size="10.6" fill="#111">0.5</text>
<text x="26.95" y="654.65" font-size="10.6" fill="#111">0.0</text>
<text x="23.58" y="682.85" font-size="10.6" fill="#111">-0.5</text>
<text x="23.45" y="711.05" font-size="10.6" fill="#111">-1.0</text>
<line x1="45.5" y1="707.7" x2="45.5" y2="710.3" stroke="#111" stroke-width="1"/>
<text x="34.64" y="720.7" font-size="10.6" fill="#111">-120</text>
<line x1="65.82" y1="707.76" x2="65.82" y2="710.36" stroke="#111" stroke-width="1"/>
<line x1="86.14" y1="707.83" x2="86.14" y2="710.43" stroke="#111" stroke-width="1"/>
<text x="75.28" y="720.83" font-size="10.6" fill="#111">-100</text>
<line x1="106.46" y1="707.89" x2="106.46" y2="710.49" stroke="#111" stroke-width="1"/>
<line x1="126.78" y1="707.95" x2="126.78" y2="710.55" stroke="#111" stroke-width="1"/>
<text x="118.79" y="720.95" font-size="10.6" fill="#111">-80</text>
<line x1="147.1" y1="708.02" x2="147.1" y2="710.62" stroke="#111" stroke-width="1"/>
<line x1="167.42" y1="708.08" x2="167.42" y2="710.68" stroke="#111" stroke-width="1"/>
<text x="159.43" y="721.08" font-size="10.6" fill="#111">-60</text>
<line x1="187.74" y1="708.14" x2="187.74" y2="710.74" stroke="#111" stroke-width="1"/>
<line x1="208.06" y1="708.21" x2="208.06" y2="710.81" stroke="#111" stroke-width="1"/>
<text x="200.07" y="721.21" font-size="10.6" fill="#111">-40</text>
<line x1="228.38" y1="708.27" x2="228.38" y2="710.87" stroke="#111" stroke-width="1"/>
<line x1="248.7" y1="708.34" x2="248.7" y2="710.94" stroke="#111" stroke-width="1"/>
<text x="240.71" y="721.34" font-size="10.6" fill="#111">-20</text>
<line x1="269.02" y1="708.4" x2="269.02" y2="711" stroke="#111" stroke-width="1"/>
<line x1="65.82" y1="651.1" x2="245.65" y2="651.4" stroke="#000" stroke-width="1.1" stroke-dasharray="1.3 1.3"/>
<path d="M65.82,651.66 L86.14,651.66 L106.46,651.38 L126.78,651.1 L147.1,651.1 L167.42,650.54 L187.74,648.79 L208.06,641.96 L228.38,625.38 L248.7,594.7" fill="none" stroke="#111" stroke-width="1.25"/>
<path d="M65.82,698.81 L86.14,675.18 L106.46,669.43 L126.78,656.74 L147.1,646.87 L167.42,636.04 L187.74,625.83 L208.06,614.78 L228.38,603.39 L248.7,594.7" fill="none" stroke="#111" stroke-width="1.25"/>
<line x1="65.82" y1="688.32" x2="65.82" y2="707.5" stroke="#111" stroke-width="1.1"/>
<line x1="63.62" y1="688.32" x2="68.02" y2="688.32" stroke="#111" stroke-width="1.1"/>
<line x1="63.62" y1="707.5" x2="68.02" y2="707.5" stroke="#111" stroke-width="1.1"/>
<line x1="86.14" y1="672.28" x2="86.14" y2="678.08" stroke="#111" stroke-width="1.1"/>
<line x1="83.94" y1="672.28" x2="88.34" y2="672.28" stroke="#111" stroke-width="1.1"/>
<line x1="83.94" y1="678.08" x2="88.34" y2="678.08" stroke="#111" stroke-width="1.1"/>
<line x1="106.46" y1="666.73" x2="106.46" y2="672.13" stroke="#111" stroke-width="1.1"/>
<line x1="104.26" y1="666.73" x2="108.66" y2="666.73" stroke="#111" stroke-width="1.1"/>
<line x1="104.26" y1="672.13" x2="108.66" y2="672.13" stroke="#111" stroke-width="1.1"/>
<circle cx="65.82" cy="651.66" r="2.85" fill="#111"/>
<circle cx="86.14" cy="651.66" r="2.85" fill="#111"/>
<circle cx="106.46" cy="651.38" r="2.85" fill="#111"/>
<circle cx="126.78" cy="651.1" r="2.85" fill="#111"/>
<circle cx="147.1" cy="651.1" r="2.85" fill="#111"/>
<circle cx="167.42" cy="650.54" r="2.85" fill="#111"/>
<circle cx="187.74" cy="648.79" r="2.85" fill="#111"/>
<circle cx="208.06" cy="641.96" r="2.85" fill="#111"/>
<circle cx="228.38" cy="625.38" r="2.85" fill="#111"/>
<circle cx="248.7" cy="594.7" r="2.85" fill="#111"/>
<circle cx="65.82" cy="698.81" r="2.25" fill="#fff" stroke="#111" stroke-width="1.2"/>
<circle cx="86.14" cy="675.18" r="2.25" fill="#fff" stroke="#111" stroke-width="1.2"/>
<circle cx="106.46" cy="669.43" r="2.25" fill="#fff" stroke="#111" stroke-width="1.2"/>
<rect x="124.48" y="654.44" width="4.6" height="4.6" fill="#fff" stroke="#111" stroke-width="1.2"/>
<rect x="144.8" y="644.57" width="4.6" height="4.6" fill="#fff" stroke="#111" stroke-width="1.2"/>
<circle cx="167.42" cy="636.04" r="2.25" fill="#fff" stroke="#111" stroke-width="1.2"/>
<circle cx="187.74" cy="625.83" r="2.25" fill="#333" stroke="#111" stroke-width="1.2"/>
<line x1="185.84" y1="625.83" x2="189.64" y2="625.83" stroke="#bbb" stroke-width="0.9"/>
<circle cx="208.06" cy="614.78" r="2.25" fill="#333" stroke="#111" stroke-width="1.2"/>
<line x1="206.16" y1="614.78" x2="209.96" y2="614.78" stroke="#bbb" stroke-width="0.9"/>
<circle cx="228.38" cy="603.39" r="2.25" fill="#333" stroke="#111" stroke-width="1.2"/>
<line x1="226.48" y1="603.39" x2="230.28" y2="603.39" stroke="#bbb" stroke-width="0.9"/>
<circle cx="248.7" cy="594.7" r="2.85" fill="#111"/>
<text x="173.38" y="619" font-size="14.5" font-style="italic" transform="rotate(0.22 173.38 619)" fill="#111">I</text>
<text x="175.52" y="625" font-size="10" transform="rotate(0.22 175.52 625)" fill="#555">I</text>
<text x="236.18" y="640.7" font-size="14.5" font-style="italic" transform="rotate(0.22 236.18 640.7)" fill="#111">I</text>
<text x="239.22" y="646.3" font-size="9.2" transform="rotate(0.22 239.22 646.3)" fill="#333">SS</text>
<text x="14.05" y="671.32" font-size="12.1" transform="rotate(-90 14.05 671.32)" fill="#111">I/I(-20)</text>
<text x="3.52" y="739.8" font-size="31.5" transform="rotate(0.22 3.52 739.8)" fill="#111">c</text>
<line x1="44.5" y1="738.8" x2="44.5" y2="866.8" stroke="#111" stroke-width="1.2"/>
<line x1="43.9" y1="866.3" x2="268" y2="867.9" stroke="#111" stroke-width="1.2"/>
<line x1="41.4" y1="866.3" x2="44.5" y2="866.3" stroke="#111" stroke-width="1"/>
<line x1="41.4" y1="779.9" x2="44.5" y2="779.9" stroke="#111" stroke-width="1"/>
<line x1="42.9" y1="840.29" x2="44.5" y2="840.29" stroke="#111" stroke-width="0.9"/>
<line x1="42.9" y1="825.08" x2="44.5" y2="825.08" stroke="#111" stroke-width="0.9"/>
<line x1="42.9" y1="814.28" x2="44.5" y2="814.28" stroke="#111" stroke-width="0.9"/>
<line x1="42.9" y1="805.91" x2="44.5" y2="805.91" stroke="#111" stroke-width="0.9"/>
<line x1="42.9" y1="799.07" x2="44.5" y2="799.07" stroke="#111" stroke-width="0.9"/>
<line x1="42.9" y1="793.28" x2="44.5" y2="793.28" stroke="#111" stroke-width="0.9"/>
<line x1="42.9" y1="788.27" x2="44.5" y2="788.27" stroke="#111" stroke-width="0.9"/>
<line x1="42.9" y1="783.85" x2="44.5" y2="783.85" stroke="#111" stroke-width="0.9"/>
<line x1="42.9" y1="753.89" x2="44.5" y2="753.89" stroke="#111" stroke-width="0.9"/>
<line x1="42.9" y1="738.68" x2="44.5" y2="738.68" stroke="#111" stroke-width="0.9"/>
<text x="22.98" y="783.45" font-size="10.6" fill="#111">100</text>
<text x="28.72" y="869.85" font-size="10.6" fill="#111">10</text>
<line x1="44.8" y1="866.3" x2="44.8" y2="868.9" stroke="#111" stroke-width="1"/>
<text x="33.94" y="879.4" font-size="10.6" fill="#111">-120</text>
<line x1="65.18" y1="866.45" x2="65.18" y2="869.05" stroke="#111" stroke-width="1"/>
<line x1="85.56" y1="866.59" x2="85.56" y2="869.19" stroke="#111" stroke-width="1"/>
<text x="74.7" y="879.69" font-size="10.6" fill="#111">-100</text>
<line x1="105.94" y1="866.74" x2="105.94" y2="869.34" stroke="#111" stroke-width="1"/>
<line x1="126.32" y1="866.89" x2="126.32" y2="869.49" stroke="#111" stroke-width="1"/>
<text x="118.33" y="879.99" font-size="10.6" fill="#111">-80</text>
<line x1="146.7" y1="867.03" x2="146.7" y2="869.63" stroke="#111" stroke-width="1"/>
<line x1="167.08" y1="867.18" x2="167.08" y2="869.78" stroke="#111" stroke-width="1"/>
<text x="159.09" y="880.28" font-size="10.6" fill="#111">-60</text>
<line x1="187.46" y1="867.32" x2="187.46" y2="869.92" stroke="#111" stroke-width="1"/>
<line x1="207.84" y1="867.47" x2="207.84" y2="870.07" stroke="#111" stroke-width="1"/>
<text x="199.85" y="880.57" font-size="10.6" fill="#111">-40</text>
<line x1="228.22" y1="867.62" x2="228.22" y2="870.22" stroke="#111" stroke-width="1"/>
<line x1="248.6" y1="867.76" x2="248.6" y2="870.36" stroke="#111" stroke-width="1"/>
<text x="240.61" y="880.86" font-size="10.6" fill="#111">-20</text>
<line x1="268.98" y1="867.91" x2="268.98" y2="870.51" stroke="#111" stroke-width="1"/>
<line x1="48.8" y1="831.4" x2="245" y2="759.7" stroke="#111" stroke-width="1.1"/>
<line x1="65.18" y1="819.3" x2="65.18" y2="829.8" stroke="#111" stroke-width="1.2"/>
<line x1="62.28" y1="819.3" x2="68.08" y2="819.3" stroke="#111" stroke-width="1.2"/>
<line x1="62.28" y1="829.8" x2="68.08" y2="829.8" stroke="#111" stroke-width="1.2"/>
<circle cx="65.18" cy="824.2" r="2.7" fill="#111"/>
<line x1="85.56" y1="813.8" x2="85.56" y2="819" stroke="#111" stroke-width="1.2"/>
<line x1="82.66" y1="813.8" x2="88.46" y2="813.8" stroke="#111" stroke-width="1.2"/>
<line x1="82.66" y1="819" x2="88.46" y2="819" stroke="#111" stroke-width="1.2"/>
<rect x="82.96" y="813.8" width="5.2" height="5.2" fill="#111"/>
<line x1="105.94" y1="808.6" x2="105.94" y2="812.2" stroke="#111" stroke-width="1.2"/>
<line x1="103.04" y1="808.6" x2="108.84" y2="808.6" stroke="#111" stroke-width="1.2"/>
<line x1="103.04" y1="812.2" x2="108.84" y2="812.2" stroke="#111" stroke-width="1.2"/>
<rect x="103.34" y="807.8" width="5.2" height="5.2" fill="#111"/>
<line x1="126.32" y1="803.3" x2="126.32" y2="806.9" stroke="#111" stroke-width="1.2"/>
<line x1="123.42" y1="803.3" x2="129.22" y2="803.3" stroke="#111" stroke-width="1.2"/>
<line x1="123.42" y1="806.9" x2="129.22" y2="806.9" stroke="#111" stroke-width="1.2"/>
<rect x="123.72" y="802.5" width="5.2" height="5.2" fill="#111"/>
<line x1="146.7" y1="790.4" x2="146.7" y2="797.7" stroke="#111" stroke-width="1.2"/>
<line x1="143.8" y1="790.4" x2="149.6" y2="790.4" stroke="#111" stroke-width="1.2"/>
<line x1="143.8" y1="797.7" x2="149.6" y2="797.7" stroke="#111" stroke-width="1.2"/>
<circle cx="146.7" cy="794.2" r="2.7" fill="#111"/>
<line x1="167.08" y1="787.1" x2="167.08" y2="790.7" stroke="#111" stroke-width="1.2"/>
<line x1="164.18" y1="787.1" x2="169.98" y2="787.1" stroke="#111" stroke-width="1.2"/>
<line x1="164.18" y1="790.7" x2="169.98" y2="790.7" stroke="#111" stroke-width="1.2"/>
<rect x="164.48" y="786.3" width="5.2" height="5.2" fill="#111"/>
<line x1="187.46" y1="778" x2="187.46" y2="781" stroke="#111" stroke-width="1.2"/>
<line x1="184.56" y1="778" x2="190.36" y2="778" stroke="#111" stroke-width="1.2"/>
<line x1="184.56" y1="781" x2="190.36" y2="781" stroke="#111" stroke-width="1.2"/>
<rect x="184.86" y="776.9" width="5.2" height="5.2" fill="#111"/>
<line x1="207.84" y1="767" x2="207.84" y2="770.2" stroke="#111" stroke-width="1.2"/>
<line x1="204.94" y1="767" x2="210.74" y2="767" stroke="#111" stroke-width="1.2"/>
<line x1="204.94" y1="770.2" x2="210.74" y2="770.2" stroke="#111" stroke-width="1.2"/>
<rect x="205.24" y="766" width="5.2" height="5.2" fill="#111"/>
<line x1="228.22" y1="761.5" x2="228.22" y2="765.1" stroke="#111" stroke-width="1.2"/>
<line x1="225.32" y1="761.5" x2="231.12" y2="761.5" stroke="#111" stroke-width="1.2"/>
<line x1="225.32" y1="765.1" x2="231.12" y2="765.1" stroke="#111" stroke-width="1.2"/>
<rect x="225.62" y="760.7" width="5.2" height="5.2" fill="#111"/>
<text x="13.3" y="820.05" font-size="12.4" transform="rotate(-90 13.3 820.05)" fill="#111">(ms)</text>
<text x="11.5" y="827.82" font-size="8.5" transform="rotate(-90 11.5 827.82)" fill="#111">τ</text>
<text x="86.9" y="894.6" font-size="12.2" transform="rotate(0.22 86.9 894.6)" fill="#111">Membrane potential (mV)</text>
<line x1="364" y1="581.5" x2="364" y2="709.3" stroke="#111" stroke-width="1.2"/>
<line x1="363.4" y1="708.8" x2="588" y2="709.6" stroke="#111" stroke-width="1.2"/>
<line x1="360.9" y1="708.7" x2="364" y2="708.7" stroke="#111" stroke-width="1"/>
<line x1="360.9" y1="669" x2="364" y2="669" stroke="#111" stroke-width="1"/>
<line x1="360.9" y1="629.3" x2="364" y2="629.3" stroke="#111" stroke-width="1"/>
<line x1="360.9" y1="589.6" x2="364" y2="589.6" stroke="#111" stroke-width="1"/>
<line x1="362.4" y1="700.76" x2="364" y2="700.76" stroke="#111" stroke-width="0.9"/>
<line x1="362.4" y1="692.82" x2="364" y2="692.82" stroke="#111" stroke-width="0.9"/>
<line x1="362.4" y1="684.88" x2="364" y2="684.88" stroke="#111" stroke-width="0.9"/>
<line x1="362.4" y1="676.94" x2="364" y2="676.94" stroke="#111" stroke-width="0.9"/>
<line x1="362.4" y1="661.06" x2="364" y2="661.06" stroke="#111" stroke-width="0.9"/>
<line x1="362.4" y1="653.12" x2="364" y2="653.12" stroke="#111" stroke-width="0.9"/>
<line x1="362.4" y1="645.18" x2="364" y2="645.18" stroke="#111" stroke-width="0.9"/>
<line x1="362.4" y1="637.24" x2="364" y2="637.24" stroke="#111" stroke-width="0.9"/>
<line x1="362.4" y1="621.36" x2="364" y2="621.36" stroke="#111" stroke-width="0.9"/>
<line x1="362.4" y1="613.42" x2="364" y2="613.42" stroke="#111" stroke-width="0.9"/>
<line x1="362.4" y1="605.48" x2="364" y2="605.48" stroke="#111" stroke-width="0.9"/>
<line x1="362.4" y1="597.54" x2="364" y2="597.54" stroke="#111" stroke-width="0.9"/>
<line x1="362.4" y1="581.66" x2="364" y2="581.66" stroke="#111" stroke-width="0.9"/>
<text x="345.35" y="593.15" font-size="10.6" fill="#111">1.0</text>
<text x="345.48" y="632.85" font-size="10.6" fill="#111">0.5</text>
<text x="345.35" y="672.55" font-size="10.6" fill="#111">0.0</text>
<text x="341.98" y="712.25" font-size="10.6" fill="#111">-0.5</text>
<line x1="364" y1="708.8" x2="364" y2="711.4" stroke="#111" stroke-width="1"/>
<text x="353.14" y="721.6" font-size="10.6" fill="#111">-120</text>
<line x1="384.4" y1="708.87" x2="384.4" y2="711.47" stroke="#111" stroke-width="1"/>
<line x1="404.8" y1="708.95" x2="404.8" y2="711.55" stroke="#111" stroke-width="1"/>
<text x="393.94" y="721.75" font-size="10.6" fill="#111">-100</text>
<line x1="425.2" y1="709.02" x2="425.2" y2="711.62" stroke="#111" stroke-width="1"/>
<line x1="445.6" y1="709.09" x2="445.6" y2="711.69" stroke="#111" stroke-width="1"/>
<text x="437.61" y="721.89" font-size="10.6" fill="#111">-80</text>
<line x1="466" y1="709.16" x2="466" y2="711.76" stroke="#111" stroke-width="1"/>
<line x1="486.4" y1="709.24" x2="486.4" y2="711.84" stroke="#111" stroke-width="1"/>
<text x="478.41" y="722.04" font-size="10.6" fill="#111">-60</text>
<line x1="506.8" y1="709.31" x2="506.8" y2="711.91" stroke="#111" stroke-width="1"/>
<line x1="527.2" y1="709.38" x2="527.2" y2="711.98" stroke="#111" stroke-width="1"/>
<text x="519.21" y="722.18" font-size="10.6" fill="#111">-40</text>
<line x1="547.6" y1="709.46" x2="547.6" y2="712.06" stroke="#111" stroke-width="1"/>
<line x1="568" y1="709.53" x2="568" y2="712.13" stroke="#111" stroke-width="1"/>
<text x="560.01" y="722.33" font-size="10.6" fill="#111">-20</text>
<line x1="588.4" y1="709.6" x2="588.4" y2="712.2" stroke="#111" stroke-width="1"/>
<line x1="384.4" y1="669" x2="568" y2="669.4" stroke="#000" stroke-width="1.1" stroke-dasharray="1.3 1.3"/>
<path d="M384.4,669.48 L404.8,667.89 L425.2,667.81 L445.6,667.81 L466,667.49 L486.4,664.87 L506.8,659.63 L527.2,646.93 L547.6,622.71 L568,590.39" fill="none" stroke="#111" stroke-width="1.25"/>
<path d="M384.4,692.82 L404.8,687.66 L425.2,675.83 L445.6,665.03 L466,655.11 L486.4,644.23 L506.8,632.24 L527.2,618.34 L547.6,605 L568,590.39" fill="none" stroke="#111" stroke-width="1.25"/>
<line x1="384.4" y1="690.44" x2="384.4" y2="695.2" stroke="#111" stroke-width="0.9"/>
<line x1="382.6" y1="690.44" x2="386.2" y2="690.44" stroke="#111" stroke-width="0.9"/>
<line x1="382.6" y1="695.2" x2="386.2" y2="695.2" stroke="#111" stroke-width="0.9"/>
<line x1="404.8" y1="684.88" x2="404.8" y2="690.44" stroke="#111" stroke-width="0.9"/>
<line x1="403" y1="684.88" x2="406.6" y2="684.88" stroke="#111" stroke-width="0.9"/>
<line x1="403" y1="690.44" x2="406.6" y2="690.44" stroke="#111" stroke-width="0.9"/>
<circle cx="384.4" cy="669.48" r="2.85" fill="#111"/>
<circle cx="404.8" cy="667.89" r="2.85" fill="#111"/>
<circle cx="425.2" cy="667.81" r="2.85" fill="#111"/>
<circle cx="445.6" cy="667.81" r="2.85" fill="#111"/>
<circle cx="466" cy="667.49" r="2.85" fill="#111"/>
<circle cx="486.4" cy="664.87" r="2.85" fill="#111"/>
<circle cx="506.8" cy="659.63" r="2.85" fill="#111"/>
<circle cx="527.2" cy="646.93" r="2.85" fill="#111"/>
<circle cx="547.6" cy="622.71" r="2.85" fill="#111"/>
<rect x="382.1" y="690.52" width="4.6" height="4.6" fill="#fff" stroke="#111" stroke-width="1.2"/>
<rect x="402.5" y="685.36" width="4.6" height="4.6" fill="#fff" stroke="#111" stroke-width="1.2"/>
<rect x="422.9" y="673.53" width="4.6" height="4.6" fill="#fff" stroke="#111" stroke-width="1.2"/>
<circle cx="445.6" cy="665.03" r="2.25" fill="#fff" stroke="#111" stroke-width="1.2"/>
<circle cx="466" cy="655.11" r="2.25" fill="#fff" stroke="#111" stroke-width="1.2"/>
<circle cx="486.4" cy="644.23" r="2.25" fill="#333" stroke="#111" stroke-width="1.2"/>
<line x1="484.5" y1="644.23" x2="488.3" y2="644.23" stroke="#bbb" stroke-width="0.9"/>
<circle cx="506.8" cy="632.24" r="2.25" fill="#333" stroke="#111" stroke-width="1.2"/>
<line x1="504.9" y1="632.24" x2="508.7" y2="632.24" stroke="#bbb" stroke-width="0.9"/>
<circle cx="527.2" cy="618.34" r="2.25" fill="#333" stroke="#111" stroke-width="1.2"/>
<line x1="525.3" y1="618.34" x2="529.1" y2="618.34" stroke="#bbb" stroke-width="0.9"/>
<circle cx="547.6" cy="605" r="2.25" fill="#333" stroke="#111" stroke-width="1.2"/>
<line x1="545.7" y1="605" x2="549.5" y2="605" stroke="#bbb" stroke-width="0.9"/>
<circle cx="568" cy="590.39" r="2.25" fill="#fff" stroke="#111" stroke-width="1.2"/>
<text x="502.28" y="620.5" font-size="14.5" font-style="italic" transform="rotate(0.22 502.28 620.5)" fill="#111">I</text>
<text x="504.52" y="626.2" font-size="10" transform="rotate(0.22 504.52 626.2)" fill="#333">I</text>
<text x="549.38" y="643.3" font-size="14.5" font-style="italic" transform="rotate(0.22 549.38 643.3)" fill="#111">I</text>
<text x="552.62" y="649.2" font-size="9.2" transform="rotate(0.22 552.62 649.2)" fill="#333">SS</text>
<text x="332.85" y="672.42" font-size="12.1" transform="rotate(-90 332.85 672.42)" fill="#111">I/I(-20)</text>
<text x="312.32" y="742.5" font-size="31.5" transform="rotate(0.22 312.32 742.5)" fill="#111">c</text>
<line x1="363.6" y1="740.5" x2="363.6" y2="868.3" stroke="#111" stroke-width="1.2"/>
<line x1="363" y1="867.8" x2="588" y2="869" stroke="#111" stroke-width="1.2"/>
<line x1="360.5" y1="867.8" x2="363.6" y2="867.8" stroke="#111" stroke-width="1"/>
<line x1="360.5" y1="781.6" x2="363.6" y2="781.6" stroke="#111" stroke-width="1"/>
<line x1="362" y1="841.85" x2="363.6" y2="841.85" stroke="#111" stroke-width="0.9"/>
<line x1="362" y1="826.67" x2="363.6" y2="826.67" stroke="#111" stroke-width="0.9"/>
<line x1="362" y1="815.9" x2="363.6" y2="815.9" stroke="#111" stroke-width="0.9"/>
<line x1="362" y1="807.55" x2="363.6" y2="807.55" stroke="#111" stroke-width="0.9"/>
<line x1="362" y1="800.72" x2="363.6" y2="800.72" stroke="#111" stroke-width="0.9"/>
<line x1="362" y1="794.95" x2="363.6" y2="794.95" stroke="#111" stroke-width="0.9"/>
<line x1="362" y1="789.95" x2="363.6" y2="789.95" stroke="#111" stroke-width="0.9"/>
<line x1="362" y1="785.54" x2="363.6" y2="785.54" stroke="#111" stroke-width="0.9"/>
<line x1="362" y1="755.65" x2="363.6" y2="755.65" stroke="#111" stroke-width="0.9"/>
<line x1="362" y1="740.47" x2="363.6" y2="740.47" stroke="#111" stroke-width="0.9"/>
<text x="342.08" y="785.15" font-size="10.6" fill="#111">100</text>
<text x="347.82" y="871.35" font-size="10.6" fill="#111">10</text>
<line x1="363.6" y1="867.8" x2="363.6" y2="870.4" stroke="#111" stroke-width="1"/>
<text x="352.74" y="880.6" font-size="10.6" fill="#111">-120</text>
<line x1="384" y1="867.91" x2="384" y2="870.51" stroke="#111" stroke-width="1"/>
<line x1="404.4" y1="868.02" x2="404.4" y2="870.62" stroke="#111" stroke-width="1"/>
<text x="393.54" y="880.82" font-size="10.6" fill="#111">-100</text>
<line x1="424.8" y1="868.13" x2="424.8" y2="870.73" stroke="#111" stroke-width="1"/>
<line x1="445.2" y1="868.24" x2="445.2" y2="870.84" stroke="#111" stroke-width="1"/>
<text x="437.21" y="881.04" font-size="10.6" fill="#111">-80</text>
<line x1="465.6" y1="868.35" x2="465.6" y2="870.95" stroke="#111" stroke-width="1"/>
<line x1="486" y1="868.45" x2="486" y2="871.05" stroke="#111" stroke-width="1"/>
<text x="478.01" y="881.25" font-size="10.6" fill="#111">-60</text>
<line x1="506.4" y1="868.56" x2="506.4" y2="871.16" stroke="#111" stroke-width="1"/>
<line x1="526.8" y1="868.67" x2="526.8" y2="871.27" stroke="#111" stroke-width="1"/>
<text x="518.81" y="881.47" font-size="10.6" fill="#111">-40</text>
<line x1="547.2" y1="868.78" x2="547.2" y2="871.38" stroke="#111" stroke-width="1"/>
<line x1="567.6" y1="868.89" x2="567.6" y2="871.49" stroke="#111" stroke-width="1"/>
<text x="559.61" y="881.69" font-size="10.6" fill="#111">-20</text>
<line x1="588" y1="869" x2="588" y2="871.6" stroke="#111" stroke-width="1"/>
<line x1="366.2" y1="861.3" x2="586.5" y2="743.2" stroke="#111" stroke-width="1.1"/>
<line x1="384" y1="822.2" x2="384" y2="850.5" stroke="#111" stroke-width="1.2"/>
<line x1="381.1" y1="822.2" x2="386.9" y2="822.2" stroke="#111" stroke-width="1.2"/>
<line x1="381.1" y1="850.5" x2="386.9" y2="850.5" stroke="#111" stroke-width="1.2"/>
<circle cx="384" cy="833.4" r="2.8" fill="#111"/>
<line x1="404.4" y1="839.8" x2="404.4" y2="844.8" stroke="#111" stroke-width="1.2"/>
<line x1="401.5" y1="839.8" x2="407.3" y2="839.8" stroke="#111" stroke-width="1.2"/>
<line x1="401.5" y1="844.8" x2="407.3" y2="844.8" stroke="#111" stroke-width="1.2"/>
<circle cx="404.4" cy="842.2" r="2.8" fill="#111"/>
<line x1="424.8" y1="828.5" x2="424.8" y2="833.5" stroke="#111" stroke-width="1.2"/>
<line x1="421.9" y1="828.5" x2="427.7" y2="828.5" stroke="#111" stroke-width="1.2"/>
<line x1="421.9" y1="833.5" x2="427.7" y2="833.5" stroke="#111" stroke-width="1.2"/>
<circle cx="424.8" cy="831" r="2.8" fill="#111"/>
<line x1="445.2" y1="808.7" x2="445.2" y2="817.5" stroke="#111" stroke-width="1.2"/>
<line x1="442.3" y1="808.7" x2="448.1" y2="808.7" stroke="#111" stroke-width="1.2"/>
<line x1="442.3" y1="817.5" x2="448.1" y2="817.5" stroke="#111" stroke-width="1.2"/>
<circle cx="445.2" cy="813.1" r="2.8" fill="#111"/>
<line x1="465.6" y1="800.8" x2="465.6" y2="804.8" stroke="#111" stroke-width="1.2"/>
<line x1="462.7" y1="800.8" x2="468.5" y2="800.8" stroke="#111" stroke-width="1.2"/>
<line x1="462.7" y1="804.8" x2="468.5" y2="804.8" stroke="#111" stroke-width="1.2"/>
<circle cx="465.6" cy="802.8" r="2.8" fill="#111"/>
<line x1="486" y1="789.5" x2="486" y2="792.5" stroke="#111" stroke-width="1.2"/>
<line x1="483.1" y1="789.5" x2="488.9" y2="789.5" stroke="#111" stroke-width="1.2"/>
<line x1="483.1" y1="792.5" x2="488.9" y2="792.5" stroke="#111" stroke-width="1.2"/>
<circle cx="486" cy="791" r="2.8" fill="#111"/>
<line x1="506.4" y1="783" x2="506.4" y2="786" stroke="#111" stroke-width="1.2"/>
<line x1="503.5" y1="783" x2="509.3" y2="783" stroke="#111" stroke-width="1.2"/>
<line x1="503.5" y1="786" x2="509.3" y2="786" stroke="#111" stroke-width="1.2"/>
<circle cx="506.4" cy="784.5" r="2.8" fill="#111"/>
<line x1="526.8" y1="777.4" x2="526.8" y2="781" stroke="#111" stroke-width="1.2"/>
<line x1="523.9" y1="777.4" x2="529.7" y2="777.4" stroke="#111" stroke-width="1.2"/>
<line x1="523.9" y1="781" x2="529.7" y2="781" stroke="#111" stroke-width="1.2"/>
<circle cx="526.8" cy="779.2" r="2.8" fill="#111"/>
<line x1="547.2" y1="775.2" x2="547.2" y2="778.4" stroke="#111" stroke-width="1.2"/>
<line x1="544.3" y1="775.2" x2="550.1" y2="775.2" stroke="#111" stroke-width="1.2"/>
<line x1="544.3" y1="778.4" x2="550.1" y2="778.4" stroke="#111" stroke-width="1.2"/>
<circle cx="547.2" cy="776.8" r="2.8" fill="#111"/>
<text x="332" y="821.45" font-size="12.4" transform="rotate(-90 332 821.45)" fill="#111">(ms)</text>
<text x="330.5" y="829.82" font-size="8.5" transform="rotate(-90 330.5 829.82)" fill="#111">τ</text>
<text x="406.5" y="896" font-size="12.2" transform="rotate(0.22 406.5 896)" fill="#111">Membrane potential (mV)</text>
</svg>
</body></html>
